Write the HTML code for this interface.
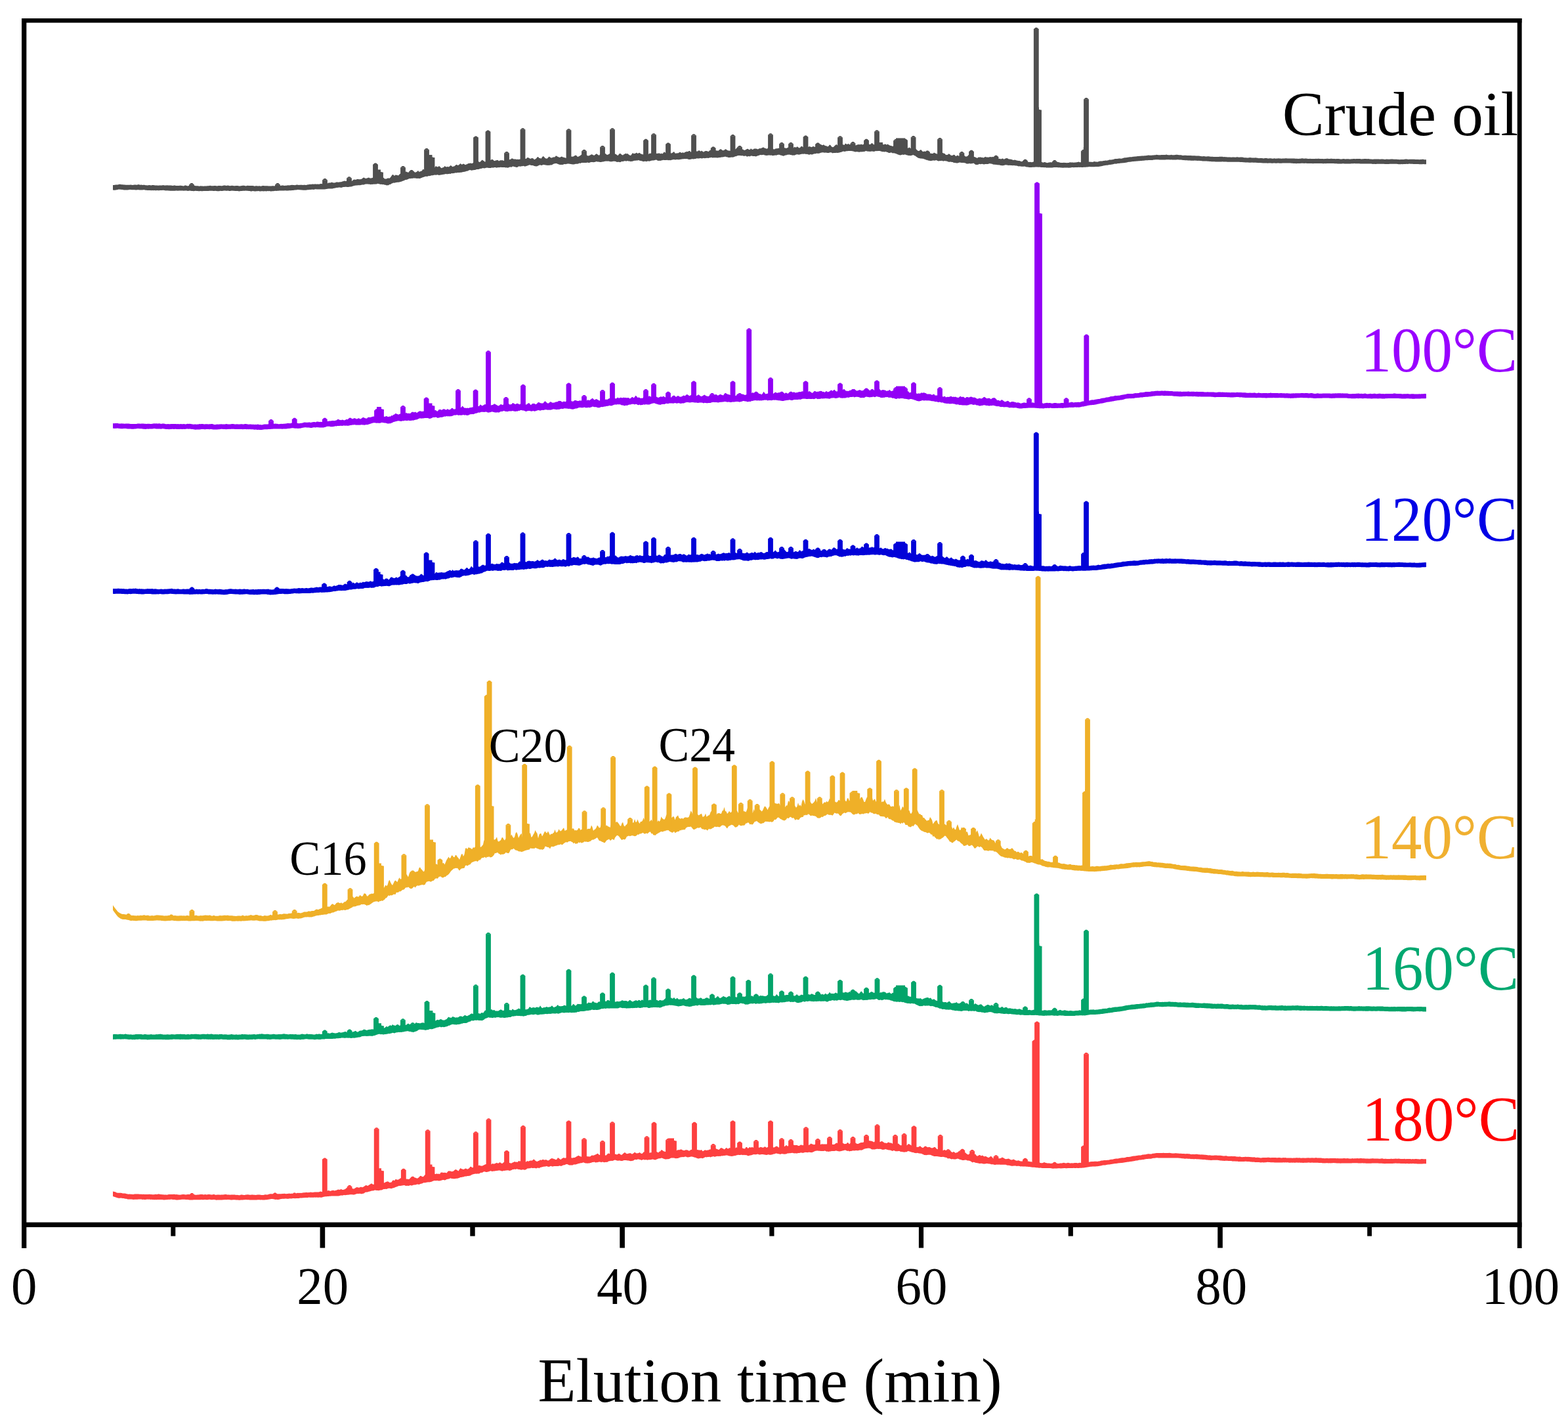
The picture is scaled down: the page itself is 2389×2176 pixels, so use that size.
<!DOCTYPE html>
<html><head><meta charset="utf-8">
<style>
html,body{margin:0;padding:0;background:#fff;}
body{width:2389px;height:2176px;overflow:hidden;}
svg{display:block;}
text{font-family:"Liberation Serif","Times New Roman",serif;}
</style></head>
<body>
<svg width="2389" height="2176" viewBox="0 0 2389 2176">
<rect x="0" y="0" width="2389" height="2176" fill="#fff"/>
<g fill="none" stroke-width="6" stroke-linejoin="round" stroke-linecap="butt">
<path d="M172 282 L173.5 282.1 L175 281.7 L176.5 281.4 L178 281.6 L179.5 281.5 L181 281.1 L182.5 280.8 L184 280.9 L185.5 281.3 L187 281.3 L188.5 281.5 L190 281.6 L191.5 281.7 L193 281.7 L194.5 281.7 L196 281.8 L197.5 281.8 L199 281.4 L200.5 281.8 L202 281.9 L203.5 281.7 L205 281.6 L206.5 281.5 L208 281.8 L209.5 281.6 L211 281 L212.5 281.5 L214 281.7 L215.5 281.6 L217 281.9 L218.5 281.8 L220 281.8 L221.5 282.2 L223 282.3 L224.5 282.5 L226 282.2 L227.5 282 L229 282.3 L230.5 282.4 L232 282.1 L233.5 282.1 L235 282.2 L236.5 282.4 L238 282.4 L239.5 282.5 L241 282.7 L242.5 282.4 L244 282.6 L245.5 282.4 L247 282.5 L248.5 282.1 L250 282.5 L251.5 282.4 L253 282.5 L254.5 282.3 L256 282.6 L257.5 282.5 L259 282.5 L260.5 282.5 L262 282.7 L263.5 283 L265 282.6 L266.5 282.6 L268 282.9 L269.5 283 L271 283.1 L272.5 283 L274 282.7 L275.5 282.8 L277 283 L278.5 283.3 L280 283.4 L281.5 282.6 L283 282.5 L284.5 283.1 L286 283.4 L287.5 283.1 L289 282.7 L290.5 283.1 L292 283.4 L293.5 283.2 L295 283.1 L296.5 282.8 L298 283.2 L299.5 283.2 L301 283.2 L302.5 283.5 L304 283.7 L305.5 283.2 L307 283.4 L308.5 283.5 L310 283.8 L311.5 283.5 L313 283.4 L314.5 283.4 L316 283.2 L317.5 283.2 L319 283 L320.5 282.8 L322 283.3 L323.5 283.2 L325 283.3 L326.5 283.1 L328 283.1 L329.5 283.3 L331 283.4 L332.5 283.1 L334 283.1 L335.5 283 L337 283.2 L338.5 283.2 L340 282.7 L341.5 282.5 L343 282.5 L344.5 282.9 L346 282.8 L347.5 282.6 L349 282.9 L350.5 283.2 L352 283 L353.5 282.8 L355 282.9 L356.5 283.3 L358 283.2 L359.5 283 L361 283.1 L362.5 283.1 L364 283.4 L365.5 283.6 L367 283.3 L368.5 283.1 L370 282.7 L371.5 282.8 L373 283 L374.5 283.4 L376 283.1 L377.5 282.8 L379 283 L380.5 282.9 L382 283.1 L383.5 283.1 L385 282.9 L386.5 283.2 L388 283.8 L389.5 283.3 L391 283.2 L392.5 283.4 L394 283.5 L395.5 283.3 L397 283.8 L398.5 283.4 L400 283.1 L401.5 283.1 L403 283.3 L404.5 283.2 L406 283.3 L407.5 283.2 L409 283.5 L410.5 283.4 L412 283.4 L413.5 283.4 L415 283.2 L416.5 283.3 L418 283.4 L419.5 283 L421 283.2 L422.5 283 L424 283.2 L425.5 283 L427 282.9 L428.5 282.7 L430 282.5 L431.5 282.6 L433 283.1 L434.5 282.8 L436 282.8 L437.5 282.6 L439 282.3 L440.5 282.6 L442 282.3 L443.5 282.1 L445 281.8 L446.5 282 L448 282 L449.5 282.2 L451 281.7 L452.5 281.4 L454 281.8 L455.5 281.9 L457 281.7 L458.5 281.7 L460 281.7 L461.5 281.9 L463 281.8 L464.5 281.8 L466 282 L467.5 281.7 L469 281.3 L470.5 281.3 L472 280.8 L473.5 280.9 L475 280.8 L476.5 280.6 L478 280.8 L479.5 280.6 L481 280.5 L482.5 280.7 L484 280.6 L485.5 280.7 L487 280.5 L488.5 280.1 L490 280.1 L491.5 280.6 L493 280 L494.5 279.4 L496 279 L497.5 279.2 L499 279.4 L500.5 278.5 L502 278.5 L503.5 278.5 L505 277.8 L506.5 278.1 L508 278.5 L509.5 278.4 L511 278.2 L512.5 277.6 L514 277.5 L515.5 277.7 L517 277.5 L518.5 277.3 L520 277.3 L521.5 276.6 L523 276.2 L524.5 275.6 L526 275.9 L527.5 276 L529 275.3 L530.5 274.8 L532 274.9 L533.5 275.5 L535 276.2 L536.5 275.7 L538 274.3 L539.5 273.5 L541 273.8 L542.5 273.8 L544 272.9 L545.5 272.9 L547 273.2 L548.5 273.2 L550 273.1 L551.5 272.5 L553 271 L554.5 270.6 L556 271.5 L557.5 272.1 L559 271.5 L560.5 271 L562 270.6 L563.5 271.4 L565 271.6 L566.5 271.2 L568 270.8 L569.5 270.2 L571 270.3 L572.5 271.2 L574 271.7 L575.5 271.4 L577 270.7 L578.5 269.5 L580 271.2 L581.5 271.1 L583 271.1 L584.5 270.8 L586 272.5 L587.5 272.6 L589 272.4 L590.5 271.6 L592 271.6 L593.5 271.7 L595 270.3 L596.5 268.1 L598 266 L599.5 266.5 L601 267.9 L602.5 266.4 L604 266.7 L605.5 267 L607 267.5 L608.5 265.7 L610 264.5 L611.5 264.9 L613 265.5 L614.5 264.7 L616 263.2 L617.5 261.7 L619 261.6 L620.5 262.2 L622 262.8 L623.5 262 L625 261.5 L626.5 260.4 L628 261.8 L629.5 261.6 L631 261.8 L632.5 262.7 L634 262.3 L635.5 261.6 L637 259.8 L638.5 262.1 L640 261.2 L641.5 261.1 L643 259.9 L644.5 257.8 L646 258.5 L647.5 258.9 L649 257.8 L650.5 255.5 L652 256 L653.5 256.5 L655 256.3 L656.5 255 L658 254.6 L659.5 256 L661 256.7 L662.5 254.9 L664 253 L665.5 254 L667 254.5 L668.5 253.3 L670 253.4 L671.5 255.4 L673 256.3 L674.5 255.2 L676 255.1 L677.5 253 L679 254.1 L680.5 254.5 L682 253.8 L683.5 254.5 L685 253.4 L686.5 251.9 L688 252.7 L689.5 254.2 L691 253.5 L692.5 253.2 L694 251.7 L695.5 250.8 L697 251.7 L698.5 251.7 L700 250.6 L701.5 249.1 L703 250.5 L704.5 250.6 L706 249.5 L707.5 250.3 L709 251.3 L710.5 250.4 L712 249.9 L713.5 248.9 L715 249.1 L716.5 248.5 L718 248.9 L719.5 249 L721 248.1 L722.5 247.6 L724 248.2 L725.5 248 L727 246 L728.5 245.3 L730 247 L731.5 246.8 L733 245.2 L734.5 243.5 L736 244.5 L737.5 245.6 L739 246.8 L740.5 245.7 L742 244.6 L743.5 243 L745 242.9 L746.5 243.8 L748 243.7 L749.5 242.7 L751 243.3 L752.5 244.8 L754 245.3 L755.5 244.3 L757 244.3 L758.5 243.8 L760 245.4 L761.5 244.4 L763 244.2 L764.5 244.2 L766 244.3 L767.5 245.1 L769 244.8 L770.5 245.4 L772 245.2 L773.5 244 L775 244.6 L776.5 243.1 L778 242.8 L779.5 241.5 L781 241.4 L782.5 242.6 L784 242.5 L785.5 242.4 L787 243 L788.5 242.8 L790 243.1 L791.5 242.8 L793 242.6 L794.5 240.9 L796 241.4 L797.5 242.4 L799 241.5 L800.5 241.9 L802 241.7 L803.5 239.9 L805 240.2 L806.5 241 L808 242.1 L809.5 241.3 L811 241.1 L812.5 241.5 L814 243.3 L815.5 242.4 L817 241.6 L818.5 239.6 L820 238.9 L821.5 241.1 L823 240.9 L824.5 241.7 L826 239.6 L827.5 238 L829 239 L830.5 240.9 L832 241.4 L833.5 241.7 L835 240.3 L836.5 238.5 L838 239.4 L839.5 240.6 L841 240.4 L842.5 239.4 L844 239.5 L845.5 239.3 L847 237.3 L848.5 237.9 L850 239.1 L851.5 239.6 L853 240 L854.5 239 L856 238.6 L857.5 239.5 L859 239.8 L860.5 240.3 L862 240.7 L863.5 240.7 L865 238.7 L866.5 239.2 L868 239.7 L869.5 239.1 L871 238.4 L872.5 238.7 L874 238.2 L875.5 237.3 L877 236.6 L878.5 237.3 L880 239 L881.5 238.6 L883 237.7 L884.5 236.7 L886 235.5 L887.5 237 L889 238.2 L890.5 237.4 L892 236.3 L893.5 235.7 L895 237.2 L896.5 237.4 L898 237 L899.5 236.2 L901 235.2 L902.5 235.6 L904 236.6 L905.5 236.8 L907 235.6 L908.5 234.3 L910 235 L911.5 236.2 L913 236.7 L914.5 234.8 L916 235.3 L917.5 235.5 L919 235 L920.5 234.1 L922 233.7 L923.5 235.1 L925 236.1 L926.5 235.6 L928 234.7 L929.5 233.4 L931 234.6 L932.5 234.9 L934 235.1 L935.5 234.2 L937 234.5 L938.5 234.9 L940 236.2 L941.5 237 L943 235.1 L944.5 233.8 L946 234.6 L947.5 235.9 L949 236.6 L950.5 235.2 L952 234.6 L953.5 233.8 L955 234.5 L956.5 234.1 L958 235.8 L959.5 236.6 L961 237 L962.5 235 L964 232.9 L965.5 234.2 L967 234.1 L968.5 233.4 L970 232.6 L971.5 234.1 L973 233.3 L974.5 232.8 L976 234.2 L977.5 234.8 L979 235.2 L980.5 235.6 L982 235.3 L983.5 234.9 L985 235.6 L986.5 235.1 L988 235.2 L989.5 233.6 L991 234.1 L992.5 232.9 L994 232.5 L995.5 232.1 L997 232.6 L998.5 233.8 L1000 234.1 L1001.5 233.8 L1003 233.7 L1004.5 233.2 L1006 234.4 L1007.5 233.5 L1009 234.4 L1010.5 233.3 L1012 231.2 L1013.5 232.6 L1015 233.4 L1016.5 233.5 L1018 233.6 L1019.5 233.1 L1021 232.9 L1022.5 233.5 L1024 233.3 L1025.5 232.1 L1027 231.1 L1028.5 233.5 L1030 233.8 L1031.5 233.2 L1033 233.5 L1034.5 232.5 L1036 231.8 L1037.5 232.4 L1039 232.9 L1040.5 232 L1042 233.2 L1043.5 231.7 L1045 231.4 L1046.5 230.8 L1048 231.2 L1049.5 230 L1051 230 L1052.5 231.7 L1054 230.7 L1055.5 228.3 L1057 230 L1058.5 231.1 L1060 230.6 L1061.5 230.4 L1063 230.5 L1064.5 229.2 L1066 229.6 L1067.5 230.8 L1069 229.4 L1070.5 230.8 L1072 231.7 L1073.5 230.5 L1075 230.1 L1076.5 230 L1078 230.4 L1079.5 230.9 L1081 229.6 L1082.5 228.6 L1084 230.2 L1085.5 230 L1087 230.1 L1088.5 228.6 L1090 229 L1091.5 229.4 L1093 229.6 L1094.5 229.8 L1096 228.3 L1097.5 227.3 L1099 227.5 L1100.5 228.9 L1102 229.2 L1103.5 228.8 L1105 227.3 L1106.5 227.8 L1108 228.7 L1109.5 229.4 L1111 229.5 L1112.5 230.1 L1114 228.6 L1115.5 228.2 L1117 229.3 L1118.5 228.7 L1120 227.8 L1121.5 226.4 L1123 225 L1124.5 225.2 L1126 226.6 L1127.5 227.8 L1129 228.2 L1130.5 227.4 L1132 227.6 L1133.5 228.8 L1135 228.7 L1136.5 228.1 L1138 227.1 L1139.5 226.7 L1141 228.1 L1142.5 228.3 L1144 226.2 L1145.5 227.4 L1147 227.9 L1148.5 226.8 L1150 226.5 L1151.5 226.6 L1153 226.7 L1154.5 227.4 L1156 226.7 L1157.5 226 L1159 226.2 L1160.5 225.6 L1162 224.8 L1163.5 224.6 L1165 225.7 L1166.5 225.9 L1168 226.7 L1169.5 226.2 L1171 223.3 L1172.5 225.6 L1174 225.6 L1175.5 224.6 L1177 226.4 L1178.5 227.2 L1180 227.5 L1181.5 226.5 L1183 226.2 L1184.5 226.2 L1186 225.8 L1187.5 226 L1189 226.1 L1190.5 224.3 L1192 225.8 L1193.5 225.3 L1195 225.3 L1196.5 225.5 L1198 226 L1199.5 225.2 L1201 224.4 L1202.5 223.4 L1204 223.9 L1205.5 224.4 L1207 225.9 L1208.5 226.2 L1210 224 L1211.5 224.2 L1213 224.7 L1214.5 223.2 L1216 224.2 L1217.5 225.4 L1219 225.1 L1220.5 223.1 L1222 222.9 L1223.5 224.2 L1225 224.5 L1226.5 223.5 L1228 221.1 L1229.5 223.6 L1231 224.3 L1232.5 223.2 L1234 223.3 L1235.5 223.9 L1237 224.3 L1238.5 222.9 L1240 223.2 L1241.5 224.1 L1243 223.3 L1244.5 221.5 L1246 221.9 L1247.5 223.1 L1249 221.5 L1250.5 219.7 L1252 220.9 L1253.5 221.3 L1255 220.2 L1256.5 221.8 L1258 222.2 L1259.5 222.5 L1261 223.4 L1262.5 222.5 L1264 220.5 L1265.5 221.3 L1267 223.6 L1268.5 224.2 L1270 224.1 L1271.5 222.3 L1273 220.9 L1274.5 220.1 L1276 221.5 L1277.5 221.8 L1279 222.9 L1280.5 221.5 L1282 220.3 L1283.5 219.9 L1285 220.4 L1286.5 220.9 L1288 218.4 L1289.5 219.6 L1291 220.1 L1292.5 218.7 L1294 220.2 L1295.5 220.1 L1297 219.6 L1298.5 219.2 L1300 219.2 L1301.5 220.1 L1303 221.4 L1304.5 221.2 L1306 220.4 L1307.5 220.2 L1309 220 L1310.5 220.5 L1312 219.4 L1313.5 220.5 L1315 220.3 L1316.5 219.4 L1318 218 L1319.5 217.1 L1321 217.8 L1322.5 218.8 L1324 219.8 L1325.5 220.2 L1327 219.2 L1328.5 217.8 L1330 219.3 L1331.5 220.4 L1333 219.6 L1334.5 217.7 L1336 217.1 L1337.5 218.1 L1339 219.8 L1340.5 218.8 L1342 219 L1343.5 218.4 L1345 219.8 L1346.5 220.5 L1348 219.6 L1349.5 219.8 L1351 220.7 L1352.5 219.4 L1354 220.7 L1355.5 221.6 L1357 222.1 L1358.5 222.2 L1360 223 L1361.5 222.2 L1363 223.5 L1364.5 224.3 L1366 224 L1367.5 225.6 L1369 225.2 L1370.5 224.8 L1372 225.9 L1373.5 225.8 L1375 225.7 L1376.5 225.9 L1378 225.1 L1379.5 226 L1381 227 L1382.5 225.7 L1384 225.4 L1385.5 224.5 L1387 225.7 L1388.5 226.8 L1390 226.1 L1391.5 225.6 L1393 225.1 L1394.5 225.8 L1396 227.5 L1397.5 228.9 L1399 229.9 L1400.5 229.9 L1402 228.4 L1403.5 228.3 L1405 230.3 L1406.5 231.2 L1408 230.4 L1409.5 230.8 L1411 232.2 L1412.5 232.8 L1414 233.1 L1415.5 233.7 L1417 233.6 L1418.5 233.7 L1420 234 L1421.5 234 L1423 232.5 L1424.5 233.2 L1426 234.1 L1427.5 234.5 L1429 235 L1430.5 233.1 L1432 233.1 L1433.5 234.8 L1435 233.1 L1436.5 233.1 L1438 233.8 L1439.5 233.9 L1441 235.9 L1442.5 236.1 L1444 235.7 L1445.5 234.3 L1447 235 L1448.5 236.4 L1450 237 L1451.5 236.7 L1453 235.7 L1454.5 236 L1456 238.1 L1457.5 237.4 L1459 236.6 L1460.5 237.8 L1462 237.5 L1463.5 237.6 L1465 237.5 L1466.5 236.5 L1468 236.5 L1469.5 237.3 L1471 238.6 L1472.5 238.6 L1474 237.9 L1475.5 236.3 L1477 235.5 L1478.5 237.9 L1480 239.3 L1481.5 240.2 L1483 239 L1484.5 239 L1486 239.4 L1487.5 240.3 L1489 241 L1490.5 239.6 L1492 239.7 L1493.5 239.3 L1495 239.9 L1496.5 239.8 L1498 240.5 L1499.5 239.9 L1501 238.7 L1502.5 239.5 L1504 239.4 L1505.5 239.8 L1507 239.5 L1508.5 239 L1510 239.2 L1511.5 239.3 L1513 238.8 L1514.5 240.5 L1516 241 L1517.5 241.6 L1519 241.7 L1520.5 241.4 L1522 242 L1523.5 241.8 L1525 242.4 L1526.5 241.8 L1528 241.5 L1529.5 242.7 L1531 242.1 L1532.5 241.2 L1534 240.9 L1535.5 241.5 L1537 242.6 L1538.5 242.6 L1540 242.8 L1541.5 243 L1543 243.8 L1544.5 243.9 L1546 243.6 L1547.5 243.9 L1549 244.4 L1550.5 244.8 L1552 245.1 L1553.5 245.1 L1555 245.8 L1556.5 246.2 L1558 245.8 L1559.5 245.5 L1561 245.5 L1562.5 246.3 L1564 246.6 L1565.5 246.7 L1567 246.7 L1568.5 246.9 L1570 246.8 L1571.5 247.3 L1573 247.1 L1574.5 246.5 L1576 245.9 L1577.5 246.1 L1579 246.9 L1580.5 247 L1582 247.3 L1583.5 247.5 L1585 246.7 L1586.5 246.5 L1588 247.3 L1589.5 247.7 L1591 247.1 L1592.5 247.2 L1594 247.8 L1595.5 248.3 L1597 247.8 L1598.5 247.5 L1600 247.3 L1601.5 247.3 L1603 247.4 L1604.5 246.7 L1606 246.5 L1607.5 246.9 L1609 247.3 L1610.5 247.1 L1612 247.1 L1613.5 247.3 L1615 247.8 L1616.5 248 L1618 248 L1619.5 248 L1621 247.8 L1622.5 247.9 L1624 248.1 L1625.5 248.2 L1627 248 L1628.5 248 L1630 247.2 L1631.5 247.4 L1633 247.4 L1634.5 247.4 L1636 247.7 L1637.5 247.4 L1639 247.5 L1640.5 247.3 L1642 247 L1643.5 246.6 L1645 247.3 L1646.5 247.2 L1648 247.3 L1649.5 247 L1651 247.1 L1652.5 247 L1654 247.2 L1655.5 247 L1657 246.9 L1658.5 246.8 L1660 246.6 L1661.5 246.7 L1663 246.8 L1664.5 246.9 L1666 246.5 L1667.5 246.1 L1669 246.4 L1670.5 246.6 L1672 246.7 L1673.5 246.2 L1675 245.8 L1676.5 245.4 L1678 245.6 L1679.5 245.4 L1681 245 L1682.5 244.9 L1684 244.6 L1685.5 244.7 L1687 244.5 L1688.5 244.2 L1690 243.6 L1691.5 243.4 L1693 243.4 L1694.5 243.3 L1696 243 L1697.5 242.6 L1699 242.1 L1700.5 242.1 L1702 241.9 L1703.5 241.8 L1705 241.6 L1706.5 241.4 L1708 241.7 L1709.5 241.4 L1711 240.9 L1712.5 240.4 L1714 240.2 L1715.5 240.3 L1717 240.1 L1718.5 239.8 L1720 239.6 L1721.5 239.2 L1723 239.3 L1724.5 239.2 L1726 238.8 L1727.5 238.7 L1729 238.5 L1730.5 238.4 L1732 238.2 L1733.5 238.1 L1735 237.9 L1736.5 237.7 L1738 237.7 L1739.5 237.6 L1741 237.4 L1742.5 237.4 L1744 237.3 L1745.5 237.2 L1747 237.1 L1748.5 236.7 L1750 236.4 L1751.5 236.8 L1753 236.8 L1754.5 236.7 L1756 236.6 L1757.5 236.4 L1759 236.3 L1760.5 236.3 L1762 235.8 L1763.5 236 L1765 236.2 L1766.5 236.2 L1768 236.2 L1769.5 235.9 L1771 236 L1772.5 236 L1774 236.1 L1775.5 236 L1777 235.5 L1778.5 236 L1780 236.2 L1781.5 236.2 L1783 236.2 L1784.5 235.8 L1786 236.2 L1787.5 236.3 L1789 236.2 L1790.5 236.1 L1792 235.8 L1793.5 235.8 L1795 236.1 L1796.5 236.3 L1798 236.2 L1799.5 236.2 L1801 236.7 L1802.5 237 L1804 236.8 L1805.5 236.7 L1807 236.8 L1808.5 236.9 L1810 237 L1811.5 236.9 L1813 237 L1814.5 237.1 L1816 237.3 L1817.5 237.3 L1819 237.3 L1820.5 237.3 L1822 237.4 L1823.5 237.6 L1825 237.5 L1826.5 237.5 L1828 237.7 L1829.5 238 L1831 238.3 L1832.5 238.2 L1834 238.1 L1835.5 238.3 L1837 238.4 L1838.5 238.5 L1840 238.3 L1841.5 238.3 L1843 238.5 L1844.5 238.8 L1846 238.8 L1847.5 238.7 L1849 239 L1850.5 239 L1852 239 L1853.5 238.9 L1855 239 L1856.5 239 L1858 238.8 L1859.5 238.7 L1861 238.7 L1862.5 238.8 L1864 239.2 L1865.5 239 L1867 239.2 L1868.5 239.2 L1870 239.4 L1871.5 239.4 L1873 239.4 L1874.5 239.5 L1876 239.7 L1877.5 239.6 L1879 239.4 L1880.5 239.5 L1882 239.8 L1883.5 239.4 L1885 239.2 L1886.5 239.4 L1888 239.7 L1889.5 239.5 L1891 239.4 L1892.5 239.6 L1894 239.8 L1895.5 240.3 L1897 240.2 L1898.5 240.2 L1900 240.4 L1901.5 240.4 L1903 240.2 L1904.5 240.1 L1906 240.2 L1907.5 240.4 L1909 240.6 L1910.5 240.6 L1912 240.6 L1913.5 240.3 L1915 240.7 L1916.5 240.8 L1918 241.2 L1919.5 241 L1921 240.9 L1922.5 240.9 L1924 241.3 L1925.5 241.4 L1927 241.1 L1928.5 241.1 L1930 241.1 L1931.5 241.5 L1933 241.5 L1934.5 241.3 L1936 241.3 L1937.5 241.6 L1939 241.7 L1940.5 241.4 L1942 241.3 L1943.5 241.7 L1945 241.5 L1946.5 241.4 L1948 241.2 L1949.5 241.5 L1951 241.6 L1952.5 241.7 L1954 241.4 L1955.5 241.4 L1957 241.4 L1958.5 241.2 L1960 241.3 L1961.5 241.6 L1963 241.6 L1964.5 241.6 L1966 241.4 L1967.5 241.5 L1969 241.6 L1970.5 241.6 L1972 241.6 L1973.5 241.7 L1975 241.7 L1976.5 241.7 L1978 241.9 L1979.5 241.8 L1981 241.7 L1982.5 241.4 L1984 241.3 L1985.5 241.5 L1987 241.8 L1988.5 241.6 L1990 241.6 L1991.5 241.8 L1993 241.9 L1994.5 241.9 L1996 241.8 L1997.5 242 L1999 242.1 L2000.5 241.9 L2002 242 L2003.5 241.9 L2005 241.8 L2006.5 241.9 L2008 241.7 L2009.5 241.7 L2011 241.9 L2012.5 242 L2014 242 L2015.5 242 L2017 242.3 L2018.5 242 L2020 242.1 L2021.5 241.7 L2023 241.7 L2024.5 241.9 L2026 241.9 L2027.5 241.8 L2029 241.8 L2030.5 241.9 L2032 242 L2033.5 242 L2035 242.2 L2036.5 242 L2038 242.1 L2039.5 242.1 L2041 242.2 L2042.5 242.5 L2044 242.4 L2045.5 242.2 L2047 242.1 L2048.5 242.2 L2050 242.4 L2051.5 242.3 L2053 242.3 L2054.5 242.3 L2056 242.6 L2057.5 242.6 L2059 242.3 L2060.5 242.2 L2062 242.1 L2063.5 242 L2065 242.3 L2066.5 242.1 L2068 242.1 L2069.5 242 L2071 242.1 L2072.5 242.1 L2074 242.4 L2075.5 242.2 L2077 242.3 L2078.5 242.1 L2080 242.1 L2081.5 242 L2083 242.2 L2084.5 242.1 L2086 242.2 L2087.5 242.4 L2089 242.5 L2090.5 242.7 L2092 242.8 L2093.5 242.6 L2095 242.6 L2096.5 242.6 L2098 242.4 L2099.5 242.5 L2101 242.4 L2102.5 242.7 L2104 242.6 L2105.5 242.5 L2107 242.6 L2108.5 242.8 L2110 242.9 L2111.5 242.8 L2113 242.6 L2114.5 242.7 L2116 242.7 L2117.5 242.8 L2119 242.6 L2120.5 242.6 L2122 242.5 L2123.5 242.7 L2125 242.7 L2126.5 242.8 L2128 242.8 L2129.5 242.9 L2131 243.1 L2132.5 243.2 L2134 243.1 L2135.5 242.9 L2137 242.9 L2138.5 243 L2140 242.8 L2141.5 242.4 L2143 242.6 L2144.5 242.8 L2146 242.9 L2147.5 242.7 L2149 242.8 L2150.5 242.8 L2152 242.8 L2153.5 242.8 L2155 242.8 L2156.5 243 L2158 242.9 L2159.5 242.9 L2161 243.1 L2162.5 243.2 L2164 243.1 L2165.5 242.9 L2167 242.8 L2168.5 242.8 L2170 243.2 L2171.5 243.2 L2173 243.3 L2173 250.2 L2171.5 250.2 L2170 250.3 L2168.5 250.1 L2167 250.2 L2165.5 250.2 L2164 250.3 L2162.5 250.2 L2161 250.1 L2159.5 250 L2158 250.1 L2156.5 250 L2155 250 L2153.5 250 L2152 249.7 L2150.5 249.7 L2149 249.7 L2147.5 249.6 L2146 249.8 L2144.5 249.9 L2143 249.8 L2141.5 249.9 L2140 250.1 L2138.5 250.1 L2137 250.2 L2135.5 250.1 L2134 250.2 L2132.5 250.2 L2131 250.2 L2129.5 249.9 L2128 249.8 L2126.5 249.7 L2125 249.7 L2123.5 249.7 L2122 249.7 L2120.5 249.7 L2119 249.8 L2117.5 249.8 L2116 249.9 L2114.5 250 L2113 250 L2111.5 250 L2110 249.9 L2108.5 249.7 L2107 249.7 L2105.5 249.7 L2104 249.7 L2102.5 249.7 L2101 249.8 L2099.5 249.8 L2098 249.8 L2096.5 249.9 L2095 249.9 L2093.5 249.8 L2092 250 L2090.5 249.8 L2089 249.5 L2087.5 249.5 L2086 249.4 L2084.5 249.4 L2083 249.5 L2081.5 249.4 L2080 249.4 L2078.5 249.5 L2077 249.5 L2075.5 249.4 L2074 249.5 L2072.5 249.4 L2071 249.3 L2069.5 249.3 L2068 249.3 L2066.5 249.2 L2065 249.3 L2063.5 249.1 L2062 249.2 L2060.5 249.2 L2059 249.3 L2057.5 249.4 L2056 249.4 L2054.5 249.4 L2053 249.5 L2051.5 249.6 L2050 249.6 L2048.5 249.5 L2047 249.3 L2045.5 249.3 L2044 249.4 L2042.5 249.4 L2041 249.4 L2039.5 249.5 L2038 249.4 L2036.5 249.3 L2035 249.3 L2033.5 249.2 L2032 249.1 L2030.5 249 L2029 249 L2027.5 248.9 L2026 249.1 L2024.5 249.1 L2023 249.1 L2021.5 249.1 L2020 249.2 L2018.5 249 L2017 249.3 L2015.5 249.3 L2014 249.1 L2012.5 248.9 L2011 249 L2009.5 249 L2008 249 L2006.5 249 L2005 249 L2003.5 249 L2002 249.1 L2000.5 249.2 L1999 249.1 L1997.5 249.1 L1996 249.1 L1994.5 249.1 L1993 249.1 L1991.5 249 L1990 248.8 L1988.5 248.8 L1987 248.9 L1985.5 248.7 L1984 248.7 L1982.5 248.8 L1981 249 L1979.5 249 L1978 249.1 L1976.5 249.1 L1975 249.2 L1973.5 249.1 L1972 249 L1970.5 249 L1969 248.8 L1967.5 248.8 L1966 248.6 L1964.5 248.6 L1963 248.5 L1961.5 248.5 L1960 248.4 L1958.5 248.4 L1957 248.4 L1955.5 248.5 L1954 248.6 L1952.5 248.7 L1951 248.8 L1949.5 248.8 L1948 248.6 L1946.5 248.6 L1945 248.7 L1943.5 248.7 L1942 248.6 L1940.5 248.6 L1939 248.7 L1937.5 248.7 L1936 248.5 L1934.5 248.5 L1933 248.6 L1931.5 248.7 L1930 248.6 L1928.5 248.4 L1927 248.4 L1925.5 248.5 L1924 248.4 L1922.5 248.2 L1921 248.3 L1919.5 248.1 L1918 248.2 L1916.5 248.1 L1915 248 L1913.5 247.8 L1912 247.8 L1910.5 247.7 L1909 247.7 L1907.5 247.6 L1906 247.7 L1904.5 247.8 L1903 247.7 L1901.5 247.5 L1900 247.5 L1898.5 247.6 L1897 247.6 L1895.5 247.3 L1894 247.2 L1892.5 247.1 L1891 247 L1889.5 247 L1888 246.8 L1886.5 246.8 L1885 246.8 L1883.5 246.7 L1882 246.7 L1880.5 246.7 L1879 246.7 L1877.5 246.7 L1876 246.8 L1874.5 246.8 L1873 246.8 L1871.5 246.7 L1870 246.8 L1868.5 246.6 L1867 246.5 L1865.5 246.4 L1864 246.4 L1862.5 246.3 L1861 246.5 L1859.5 246.5 L1858 246.4 L1856.5 246.4 L1855 246.4 L1853.5 246.4 L1852 246.4 L1850.5 246.2 L1849 246.2 L1847.5 246.3 L1846 246.2 L1844.5 246 L1843 246 L1841.5 245.7 L1840 245.7 L1838.5 245.6 L1837 245.6 L1835.5 245.5 L1834 245.4 L1832.5 245.4 L1831 245.3 L1829.5 245.1 L1828 244.9 L1826.5 244.8 L1825 244.9 L1823.5 244.8 L1822 244.8 L1820.5 244.6 L1819 244.7 L1817.5 244.7 L1816 244.8 L1814.5 244.7 L1813 244.6 L1811.5 244.5 L1810 244.5 L1808.5 244.3 L1807 244.2 L1805.5 244.2 L1804 244 L1802.5 244 L1801 243.8 L1799.5 243.5 L1798 243.4 L1796.5 243.5 L1795 243.3 L1793.5 243.2 L1792 243.4 L1790.5 243.5 L1789 243.4 L1787.5 243.5 L1786 243.4 L1784.5 243.3 L1783 243.4 L1781.5 243.2 L1780 243.3 L1778.5 243.3 L1777 243.3 L1775.5 243.4 L1774 243.4 L1772.5 243.4 L1771 243.6 L1769.5 243.5 L1768 243.5 L1766.5 243.4 L1765 243.2 L1763.5 243.2 L1762 243.3 L1760.5 243.3 L1759 243.4 L1757.5 243.6 L1756 243.9 L1754.5 243.9 L1753 243.9 L1751.5 244 L1750 244 L1748.5 244.2 L1747 244.3 L1745.5 244.3 L1744 244.5 L1742.5 244.7 L1741 244.8 L1739.5 244.9 L1738 245.1 L1736.5 245.2 L1735 245.3 L1733.5 245.5 L1732 245.5 L1730.5 245.7 L1729 245.8 L1727.5 245.9 L1726 246 L1724.5 246.3 L1723 246.4 L1721.5 246.7 L1720 246.8 L1718.5 247 L1717 247.4 L1715.5 247.8 L1714 248 L1712.5 248.2 L1711 248.3 L1709.5 248.5 L1708 248.6 L1706.5 248.7 L1705 248.9 L1703.5 249.1 L1702 249.3 L1700.5 249.7 L1699 249.6 L1697.5 249.8 L1696 250.2 L1694.5 250.5 L1693 250.7 L1691.5 250.9 L1690 251.1 L1688.5 251.6 L1687 251.8 L1685.5 251.8 L1684 251.9 L1682.5 252.2 L1681 252.6 L1679.5 252.9 L1678 253.2 L1676.5 253.5 L1675 253.7 L1673.5 253.9 L1672 254.1 L1670.5 254.1 L1669 254 L1667.5 254.2 L1666 254.2 L1664.5 254.2 L1663 254.3 L1661.5 254.2 L1660 254.1 L1658.5 254.3 L1657 254.5 L1655.5 254.5 L1654 254.7 L1652.5 254.7 L1651 254.8 L1649.5 254.9 L1648 255 L1646.5 254.8 L1645 254.9 L1643.5 254.8 L1642 254.9 L1640.5 254.9 L1639 254.9 L1637.5 254.9 L1636 255.2 L1634.5 255 L1633 255.1 L1631.5 255.5 L1630 255.5 L1628.5 255.7 L1627 255.6 L1625.5 255.5 L1624 255.5 L1622.5 255.6 L1621 255.5 L1619.5 255.7 L1618 255.6 L1616.5 255.4 L1615 255.2 L1613.5 255.3 L1612 255.3 L1610.5 255.1 L1609 255 L1607.5 255 L1606 254.9 L1604.5 255.2 L1603 255.4 L1601.5 255.6 L1600 255.6 L1598.5 255.5 L1597 255.6 L1595.5 255.6 L1594 255.4 L1592.5 255 L1591 255.2 L1589.5 255.1 L1588 255.1 L1586.5 255 L1585 254.7 L1583.5 254.6 L1582 254.7 L1580.5 254.5 L1579 254.6 L1577.5 254.5 L1576 254.7 L1574.5 254.7 L1573 254.7 L1571.5 254.9 L1570 255.1 L1568.5 254.9 L1567 254.7 L1565.5 254.4 L1564 254.5 L1562.5 254.1 L1561 253.6 L1559.5 253.7 L1558 253.7 L1556.5 253.7 L1555 253.4 L1553.5 253.2 L1552 253.4 L1550.5 253 L1549 252.6 L1547.5 252.4 L1546 252.2 L1544.5 252 L1543 252.2 L1541.5 252 L1540 252 L1538.5 251.8 L1537 251.9 L1535.5 251.7 L1534 251.6 L1532.5 251.3 L1531 251.4 L1529.5 252 L1528 252.2 L1526.5 252.2 L1525 252 L1523.5 251.8 L1522 251.3 L1520.5 251.4 L1519 251 L1517.5 250.9 L1516 250.7 L1514.5 250.8 L1513 250.4 L1511.5 249.8 L1510 249.5 L1508.5 249.2 L1507 249.3 L1505.5 249.9 L1504 249.9 L1502.5 249.9 L1501 250.1 L1499.5 250.6 L1498 250.3 L1496.5 249.8 L1495 250.1 L1493.5 250.2 L1492 249.8 L1490.5 250.7 L1489 250.9 L1487.5 251 L1486 250.7 L1484.5 249.6 L1483 248.6 L1481.5 249.3 L1480 249.2 L1478.5 249.4 L1477 249.1 L1475.5 249.5 L1474 249.5 L1472.5 249.5 L1471 248.6 L1469.5 248.2 L1468 247.9 L1466.5 247.9 L1465 248.1 L1463.5 247.7 L1462 247.5 L1460.5 248.1 L1459 248.4 L1457.5 248.6 L1456 248.3 L1454.5 247.9 L1453 248 L1451.5 247.1 L1450 246.9 L1448.5 246.4 L1447 246.7 L1445.5 246.7 L1444 246.2 L1442.5 245.4 L1441 245.5 L1439.5 245.1 L1438 245.4 L1436.5 245.4 L1435 244.8 L1433.5 245.3 L1432 245.1 L1430.5 245.5 L1429 245.2 L1427.5 244.6 L1426 244.1 L1424.5 244.7 L1423 244.6 L1421.5 244.5 L1420 244.8 L1418.5 245.2 L1417 245.1 L1415.5 244.8 L1414 244.4 L1412.5 243.8 L1411 243.8 L1409.5 242.8 L1408 242.4 L1406.5 241.7 L1405 241.8 L1403.5 241.5 L1402 241.6 L1400.5 241 L1399 240.7 L1397.5 239.8 L1396 238.8 L1394.5 237.6 L1393 237 L1391.5 236 L1390 236.4 L1388.5 237 L1387 237.3 L1385.5 237.1 L1384 237.1 L1382.5 236.6 L1381 236.3 L1379.5 235.6 L1378 235.6 L1376.5 236.1 L1375 235.4 L1373.5 236.1 L1372 236.6 L1370.5 236.3 L1369 235.7 L1367.5 235.3 L1366 234.5 L1364.5 233.9 L1363 233.6 L1361.5 233.3 L1360 233.4 L1358.5 232.6 L1357 232.6 L1355.5 233 L1354 232.9 L1352.5 231.9 L1351 231.7 L1349.5 230.9 L1348 231.6 L1346.5 231.3 L1345 231.3 L1343.5 231.1 L1342 230.6 L1340.5 230.1 L1339 230 L1337.5 230 L1336 230.3 L1334.5 230 L1333 230.4 L1331.5 230.9 L1330 230.8 L1328.5 230.6 L1327 230.8 L1325.5 230.9 L1324 230.7 L1322.5 230.8 L1321 230.5 L1319.5 230.1 L1318 230.4 L1316.5 231.2 L1315 231.1 L1313.5 231.5 L1312 231.3 L1310.5 231.5 L1309 231.7 L1307.5 231.6 L1306 231.3 L1304.5 231.2 L1303 231.5 L1301.5 231 L1300 230.6 L1298.5 230.3 L1297 230.1 L1295.5 229.9 L1294 230 L1292.5 230 L1291 230.2 L1289.5 230.3 L1288 230.8 L1286.5 231.1 L1285 230.6 L1283.5 231.1 L1282 231.8 L1280.5 232 L1279 232.5 L1277.5 232.7 L1276 233 L1274.5 232.7 L1273 233 L1271.5 232.9 L1270 233 L1268.5 233.4 L1267 232.6 L1265.5 232.3 L1264 232.5 L1262.5 233 L1261 233 L1259.5 232.8 L1258 232.6 L1256.5 232.7 L1255 232.6 L1253.5 232.3 L1252 232.6 L1250.5 232.8 L1249 233.4 L1247.5 233.8 L1246 233.9 L1244.5 233.6 L1243 234.2 L1241.5 234.3 L1240 234.6 L1238.5 235 L1237 235.8 L1235.5 234.9 L1234 235.4 L1232.5 235.7 L1231 235.3 L1229.5 234.7 L1228 235.1 L1226.5 234.6 L1225 234.5 L1223.5 234.7 L1222 234.4 L1220.5 235 L1219 235.3 L1217.5 235.8 L1216 235.5 L1214.5 235.3 L1213 235.5 L1211.5 236.2 L1210 236.7 L1208.5 236.6 L1207 236.7 L1205.5 236 L1204 236.1 L1202.5 235.5 L1201 235.7 L1199.5 235.8 L1198 236.6 L1196.5 236.6 L1195 237.2 L1193.5 237.7 L1192 237.3 L1190.5 236.8 L1189 236.6 L1187.5 235.7 L1186 235.7 L1184.5 236.1 L1183 236.7 L1181.5 236.5 L1180 236.8 L1178.5 237.1 L1177 237.2 L1175.5 236.6 L1174 236.7 L1172.5 236.5 L1171 236.6 L1169.5 236.7 L1168 237 L1166.5 236.7 L1165 236.4 L1163.5 235.8 L1162 235.9 L1160.5 236.2 L1159 236 L1157.5 236.2 L1156 237 L1154.5 237.3 L1153 237.9 L1151.5 238.5 L1150 237.9 L1148.5 237.9 L1147 238 L1145.5 237.4 L1144 237.5 L1142.5 238.4 L1141 238 L1139.5 238.3 L1138 238.7 L1136.5 237.6 L1135 237.6 L1133.5 238 L1132 237.3 L1130.5 237.3 L1129 237.2 L1127.5 237 L1126 236.9 L1124.5 237 L1123 237.6 L1121.5 238.3 L1120 238.2 L1118.5 239.2 L1117 239.6 L1115.5 239.8 L1114 239.4 L1112.5 240 L1111 239.9 L1109.5 240 L1108 239.2 L1106.5 239.3 L1105 238.6 L1103.5 239.1 L1102 239.2 L1100.5 239.5 L1099 239.5 L1097.5 240 L1096 240 L1094.5 240.3 L1093 240.4 L1091.5 240.3 L1090 240.3 L1088.5 240.3 L1087 240.2 L1085.5 240.4 L1084 239.8 L1082.5 240.3 L1081 240.2 L1079.5 240.9 L1078 240.8 L1076.5 240.8 L1075 240.9 L1073.5 241.3 L1072 240.8 L1070.5 241.3 L1069 241.4 L1067.5 241 L1066 241.3 L1064.5 241.4 L1063 241.6 L1061.5 241.2 L1060 241.9 L1058.5 242 L1057 242.6 L1055.5 242.2 L1054 242.3 L1052.5 242.8 L1051 243.1 L1049.5 243 L1048 242.4 L1046.5 242 L1045 242.3 L1043.5 242.1 L1042 242.3 L1040.5 242.2 L1039 242.4 L1037.5 242.8 L1036 243 L1034.5 243.3 L1033 243.2 L1031.5 242.9 L1030 243.3 L1028.5 243.5 L1027 243.1 L1025.5 243.3 L1024 243.6 L1022.5 244.1 L1021 244.3 L1019.5 244.1 L1018 244.2 L1016.5 243.7 L1015 243.9 L1013.5 243.9 L1012 243.9 L1010.5 243.8 L1009 244.2 L1007.5 244.5 L1006 244.9 L1004.5 244.8 L1003 244.9 L1001.5 244.4 L1000 243.5 L998.5 243.7 L997 244.3 L995.5 244.5 L994 244.5 L992.5 244.7 L991 245.3 L989.5 245.7 L988 245.5 L986.5 245.6 L985 246.2 L983.5 245.8 L982 245.8 L980.5 246.3 L979 245.8 L977.5 245.2 L976 245.1 L974.5 244.7 L973 244 L971.5 244.4 L970 244.6 L968.5 244.8 L967 244.7 L965.5 245 L964 245.7 L962.5 245.8 L961 246.2 L959.5 245.6 L958 245.8 L956.5 245.1 L955 245.5 L953.5 245.5 L952 245.3 L950.5 245.5 L949 246.2 L947.5 245.8 L946 246.8 L944.5 247.2 L943 246.8 L941.5 246.8 L940 246.9 L938.5 246.3 L937 245.8 L935.5 245.8 L934 245.8 L932.5 246.2 L931 246.2 L929.5 246.2 L928 245.8 L926.5 245.5 L925 245.8 L923.5 245.6 L922 245.7 L920.5 245.9 L919 246.6 L917.5 246.4 L916 247 L914.5 246.9 L913 246.7 L911.5 246.6 L910 246.6 L908.5 246 L907 246.7 L905.5 247 L904 247.2 L902.5 247 L901 247.1 L899.5 247.3 L898 248.1 L896.5 248 L895 247.6 L893.5 247.9 L892 248 L890.5 247.9 L889 248 L887.5 248 L886 247.9 L884.5 248.9 L883 248.5 L881.5 249.2 L880 249.8 L878.5 249.8 L877 249.7 L875.5 250.2 L874 250.5 L872.5 250.4 L871 250.2 L869.5 250 L868 249.8 L866.5 249.6 L865 249.5 L863.5 249.7 L862 250.3 L860.5 250 L859 250.3 L857.5 251.1 L856 250.9 L854.5 250.9 L853 250.9 L851.5 250.5 L850 250 L848.5 249.3 L847 248.9 L845.5 249.2 L844 249.4 L842.5 250.3 L841 251.2 L839.5 251.4 L838 251.5 L836.5 252 L835 251.7 L833.5 251.9 L832 251.4 L830.5 251.6 L829 251 L827.5 250.9 L826 251.7 L824.5 251.9 L823 251.3 L821.5 251.8 L820 252.4 L818.5 253.2 L817 253.6 L815.5 253.3 L814 252.9 L812.5 252.3 L811 252 L809.5 251.9 L808 251.6 L806.5 251.3 L805 252 L803.5 252.6 L802 253 L800.5 253.5 L799 253.4 L797.5 252.8 L796 253.2 L794.5 253.2 L793 253.7 L791.5 253.5 L790 253.5 L788.5 254.7 L787 254.9 L785.5 254.5 L784 254.2 L782.5 253.8 L781 253.6 L779.5 254.7 L778 254.6 L776.5 254.6 L775 255.3 L773.5 255.7 L772 255.2 L770.5 255.5 L769 255.1 L767.5 255 L766 254.9 L764.5 255 L763 254.7 L761.5 255.1 L760 255.2 L758.5 255 L757 255.8 L755.5 255.3 L754 255.1 L752.5 255.3 L751 255.7 L749.5 255.3 L748 256.1 L746.5 256 L745 256.1 L743.5 255.8 L742 255.5 L740.5 255.8 L739 256.3 L737.5 256.5 L736 255.9 L734.5 256.4 L733 257 L731.5 257.1 L730 257.7 L728.5 258.1 L727 258.1 L725.5 258.2 L724 259 L722.5 259.1 L721 259.3 L719.5 259.4 L718 259.8 L716.5 259 L715 259.2 L713.5 259.9 L712 260.7 L710.5 260.7 L709 261.6 L707.5 261.7 L706 262 L704.5 262.2 L703 262.8 L701.5 262.7 L700 262.9 L698.5 263.1 L697 262.9 L695.5 263.5 L694 263.3 L692.5 263.8 L691 264.1 L689.5 264.3 L688 264.1 L686.5 264.9 L685 264.7 L683.5 265 L682 265.3 L680.5 265.2 L679 265 L677.5 265.5 L676 265.7 L674.5 266.1 L673 266.2 L671.5 266.4 L670 266.7 L668.5 266.9 L667 266.3 L665.5 266.6 L664 266.8 L662.5 266.5 L661 266.8 L659.5 267.2 L658 267.3 L656.5 267.6 L655 268.3 L653.5 267.9 L652 268.5 L650.5 268.9 L649 268.7 L647.5 268.9 L646 269.7 L644.5 270.1 L643 270.8 L641.5 271.3 L640 272 L638.5 272 L637 271.7 L635.5 272.1 L634 271.7 L632.5 271.4 L631 271.4 L629.5 271.4 L628 271.9 L626.5 271.7 L625 272.2 L623.5 272.1 L622 273 L620.5 273.5 L619 274 L617.5 273.9 L616 275.1 L614.5 275.6 L613 276 L611.5 276.7 L610 277 L608.5 277.6 L607 277.8 L605.5 277.8 L604 277.9 L602.5 278.3 L601 278.7 L599.5 278.6 L598 279.2 L596.5 279.7 L595 280.9 L593.5 281 L592 282.3 L590.5 282.2 L589 282.4 L587.5 281.8 L586 281.7 L584.5 281 L583 281.2 L581.5 280.8 L580 281 L578.5 280.4 L577 280.2 L575.5 279.8 L574 280.5 L572.5 280.5 L571 280.8 L569.5 280.6 L568 281.1 L566.5 280.8 L565 281.2 L563.5 280.7 L562 280.8 L560.5 280.4 L559 280.5 L557.5 280.4 L556 280.8 L554.5 281.4 L553 281.4 L551.5 281.6 L550 282 L548.5 282.2 L547 282.2 L545.5 282.3 L544 282.4 L542.5 282.6 L541 282.8 L539.5 283.1 L538 283.6 L536.5 283.9 L535 284.5 L533.5 284.6 L532 284.8 L530.5 284.9 L529 284.9 L527.5 284.7 L526 284.8 L524.5 284.9 L523 285.1 L521.5 285.6 L520 285.9 L518.5 285.8 L517 285.6 L515.5 285.8 L514 285.9 L512.5 286.1 L511 286.6 L509.5 286.8 L508 287.1 L506.5 287.5 L505 287.4 L503.5 287.5 L502 287.5 L500.5 287.6 L499 287.8 L497.5 288.1 L496 288.3 L494.5 288.5 L493 288.5 L491.5 288.4 L490 288.6 L488.5 288.6 L487 288.5 L485.5 288.5 L484 288.4 L482.5 288.6 L481 288.3 L479.5 288.6 L478 288.9 L476.5 288.7 L475 288.7 L473.5 289 L472 288.9 L470.5 289.3 L469 289.3 L467.5 289.5 L466 289.7 L464.5 289.8 L463 289.7 L461.5 289.8 L460 289.5 L458.5 289.4 L457 289.2 L455.5 289.3 L454 289.1 L452.5 289.3 L451 289.4 L449.5 289.6 L448 289.8 L446.5 290.1 L445 290 L443.5 290.2 L442 290.2 L440.5 290.3 L439 290.4 L437.5 290.6 L436 290.4 L434.5 290.3 L433 290.5 L431.5 290.4 L430 290.5 L428.5 290.5 L427 290.4 L425.5 290.6 L424 290.8 L422.5 290.7 L421 290.9 L419.5 290.8 L418 291.1 L416.5 291.2 L415 291.3 L413.5 291.4 L412 291.4 L410.5 291.1 L409 291.2 L407.5 291.1 L406 291.4 L404.5 291.3 L403 291.3 L401.5 291.4 L400 291.2 L398.5 291.3 L397 291.4 L395.5 291.4 L394 291.1 L392.5 291.3 L391 291.3 L389.5 291.4 L388 291.5 L386.5 291.3 L385 291.1 L383.5 291.4 L382 291.4 L380.5 291.1 L379 291 L377.5 290.8 L376 290.8 L374.5 290.6 L373 290.8 L371.5 290.7 L370 290.8 L368.5 291 L367 291 L365.5 291.2 L364 291.4 L362.5 291.1 L361 291 L359.5 291 L358 291 L356.5 290.7 L355 290.7 L353.5 290.6 L352 290.8 L350.5 290.9 L349 291 L347.5 290.6 L346 290.7 L344.5 290.7 L343 290.6 L341.5 290.4 L340 290.7 L338.5 290.9 L337 290.9 L335.5 290.8 L334 291.2 L332.5 291.3 L331 291.2 L329.5 291.1 L328 290.8 L326.5 290.9 L325 291 L323.5 290.7 L322 290.7 L320.5 290.7 L319 290.7 L317.5 291 L316 291.1 L314.5 291 L313 291.1 L311.5 291.1 L310 291.1 L308.5 291.3 L307 291.2 L305.5 291.1 L304 291.3 L302.5 291.2 L301 291.1 L299.5 291.1 L298 290.8 L296.5 290.9 L295 291.2 L293.5 291 L292 291 L290.5 290.8 L289 290.6 L287.5 290.8 L286 290.9 L284.5 290.6 L283 290.6 L281.5 290.6 L280 290.7 L278.5 290.6 L277 290.4 L275.5 290.4 L274 290.4 L272.5 290.6 L271 290.7 L269.5 290.6 L268 290.4 L266.5 290.7 L265 290.8 L263.5 290.8 L262 290.8 L260.5 290.8 L259 290.7 L257.5 290.6 L256 290.6 L254.5 290.3 L253 290.4 L251.5 290.2 L250 290.1 L248.5 289.8 L247 290 L245.5 290.1 L244 290.1 L242.5 290.2 L241 290.3 L239.5 290 L238 290.2 L236.5 290.2 L235 290.1 L233.5 290.3 L232 290.1 L230.5 290.2 L229 290.1 L227.5 290 L226 290 L224.5 290 L223 289.7 L221.5 289.7 L220 289.3 L218.5 289.3 L217 289.5 L215.5 289.4 L214 289.4 L212.5 289.5 L211 289.3 L209.5 289.3 L208 289.4 L206.5 289.4 L205 289.3 L203.5 289.3 L202 289.3 L200.5 289.3 L199 289.1 L197.5 289.1 L196 289.3 L194.5 289.5 L193 289.4 L191.5 289.6 L190 289.6 L188.5 289.4 L187 289.1 L185.5 288.9 L184 288.7 L182.5 288.7 L181 288.6 L179.5 289 L178 289.2 L176.5 289.4 L175 289.7 L173.5 289.7 L172 289.5ZM288.1 281.5 L290.8 279 L293.2 279 L295.9 281.5 ZM419.1 281.5 L421.8 279 L424.2 279 L426.9 281.5 ZM491.1 274.5 L493.8 272 L496.2 272 L498.9 274.5 ZM528.1 271.8 L530.8 269.3 L533.2 269.3 L535.9 271.8 ZM568.1 251 L570.8 248.5 L573.2 248.5 L575.9 251 ZM576.1 264.5 L578.8 262 L581.2 262 L583.9 264.5 ZM610.1 255.5 L612.8 253 L615.2 253 L617.9 255.5 ZM623.1 261.5 L625.8 259 L628.2 259 L630.9 261.5 ZM646.1 228.5 L648.8 226 L651.2 226 L653.9 228.5 ZM654.6 242 L657.3 239.5 L659.7 239.5 L662.4 242 ZM721.1 209.9 L723.8 207.4 L726.2 207.4 L728.9 209.9 ZM739.6 201 L742.3 198.5 L744.7 198.5 L747.4 201 ZM768.1 233.5 L770.8 231 L773.2 231 L775.9 233.5 ZM792.6 197.8 L795.3 195.3 L797.7 195.3 L800.4 197.8 ZM862.6 198.7 L865.3 196.2 L867.7 196.2 L870.4 198.7 ZM886.1 230.5 L888.8 228 L891.2 228 L893.9 230.5 ZM914.1 224.5 L916.8 222 L919.2 222 L921.9 224.5 ZM929.1 197.8 L931.8 195.3 L934.2 195.3 L936.9 197.8 ZM980.1 214.2 L982.8 211.7 L985.2 211.7 L987.9 214.2 ZM992.1 205.8 L994.8 203.3 L997.2 203.3 L999.9 205.8 ZM1014.1 220.1 L1016.8 217.6 L1019.2 217.6 L1021.9 220.1 ZM1053.1 206.7 L1055.8 204.2 L1058.2 204.2 L1060.9 206.7 ZM1082.8 226.1 L1085.5 223.6 L1087.9 223.6 L1090.6 226.1 ZM1112.6 207.6 L1115.3 205.1 L1117.7 205.1 L1120.4 207.6 ZM1123.1 224.5 L1125.8 222 L1128.2 222 L1130.9 224.5 ZM1170.1 205.8 L1172.8 203.3 L1175.2 203.3 L1177.9 205.8 ZM1187.1 219.5 L1189.8 217 L1192.2 217 L1194.9 219.5 ZM1201.1 219.5 L1203.8 217 L1206.2 217 L1208.9 219.5 ZM1223.6 209.1 L1226.3 206.6 L1228.7 206.6 L1231.4 209.1 ZM1242.1 220.1 L1244.8 217.6 L1247.2 217.6 L1249.9 220.1 ZM1276.1 209.7 L1278.8 207.2 L1281.2 207.2 L1283.9 209.7 ZM1295.6 218.5 L1298.3 216 L1300.7 216 L1303.4 218.5 ZM1316.1 214.2 L1318.8 211.7 L1321.2 211.7 L1323.9 214.2 ZM1332.1 200.7 L1334.8 198.2 L1337.2 198.2 L1339.9 200.7 ZM1341.1 223 L1343.8 220.5 L1346.2 220.5 L1348.9 223 ZM1361.1 214.5 L1363.8 212 L1366.2 212 L1368.9 214.5 ZM1368.1 216.5 L1370.8 214 L1373.2 214 L1375.9 216.5 ZM1375.1 214 L1377.8 211.5 L1380.2 211.5 L1382.9 214 ZM1387.7 209.5 L1390.4 207 L1392.8 207 L1395.5 209.5 ZM1409.1 231.9 L1411.8 229.4 L1414.2 229.4 L1416.9 231.9 ZM1428.1 212.5 L1430.8 210 L1433.2 210 L1435.9 212.5 ZM1461.5 233.5 L1464.2 231 L1466.6 231 L1469.3 233.5 ZM1476.1 231.3 L1478.8 228.8 L1481.2 228.8 L1483.9 231.3 ZM1513.6 239.3 L1516.3 236.8 L1518.7 236.8 L1521.4 239.3 ZM1558.1 245.3 L1560.8 242.8 L1563.2 242.8 L1565.9 245.3 ZM1574.9 44.4 L1577.6 41.9 L1580 41.9 L1582.7 44.4 ZM1579.1 169.5 L1581.8 167 L1584.2 167 L1586.9 169.5 ZM1602.9 246.5 L1605.6 244 L1608 244 L1610.7 246.5 ZM1646.9 230.5 L1649.6 228 L1652 228 L1654.7 230.5 ZM1651.1 151.5 L1653.8 149 L1656.2 149 L1658.9 151.5 Z" fill="#4f4f4f"/>
<path d="M292 287 V281.2M423 286.9 V281.2M495 284.2 V274.2M532 280.1 V271.5M572 276.1 V250.7M580 276.8 V264.2M614 269.6 V255.2M627 267.8 V261.2M650 264.6 V228.2M658.5 263.3 V241.7M725 253.1 V209.6M743.5 250.8 V200.7M772 249.4 V233.2M796.5 248.3 V197.5M866.5 244.5 V198.4M890 243.2 V230.2M918 242 V224.2M933 241.4 V197.5M984 239.7 V213.9M996 239.2 V205.5M1018 238.3 V219.8M1057 236.5 V206.4M1086.7 235.2 V225.8M1116.5 233.9 V207.3M1127 233.5 V224.2M1174 231.6 V205.5M1191 231 V219.2M1205 230.4 V219.2M1227.5 229.6 V208.8M1246 228.9 V219.8M1280 227.6 V209.4M1299.5 226.5 V218.2M1320 225.4 V213.9M1336 224.8 V200.4M1345 226.2 V222.7M1365 229.3 V214.2M1372 230.2 V216.2M1379 231.1 V213.7M1391.6 233 V209.2M1413 238 V231.6M1432 240.6 V212.2M1465.4 243.2 V233.2M1480 244.4 V231M1517.5 246.3 V239M1562 250.4 V245M1578.8 251.3 V44.1M1583 251.4 V169.2M1606.8 251.6 V246.2M1650.8 251 V230.2M1655 250.8 V151.2M572 262.5 H580M574.5 276.3 V262.5M577 276.5 V262.5M579.5 276.7 V262.5M580 276.8 V262.5M650 240 H658.5M652.5 264.2 V240M655 263.9 V240M657.5 263.5 V240M658.5 263.3 V240M1336 221 H1345M1338.5 225.2 V221M1341 225.6 V221M1343.5 226 V221M1345 226.2 V221M1365 214.5 H1372M1367.5 229.6 V214.5M1370 229.9 V214.5M1372 230.2 V214.5M1372 214.5 H1379M1374.5 230.5 V214.5M1377 230.9 V214.5M1379 231.1 V214.5M1578.8 167.5 H1583M1581.3 251.3 V167.5M1583 251.4 V167.5M1650.8 228.5 H1655M1653.3 250.9 V228.5M1655 250.8 V228.5" fill="none" stroke="#4f4f4f" stroke-width="7.8" stroke-linecap="butt"/>
<path d="M172 645.1 L173.5 645.2 L175 645.1 L176.5 645 L178 645.1 L179.5 645 L181 645.4 L182.5 645.5 L184 645.5 L185.5 645.3 L187 645.6 L188.5 645.4 L190 645.8 L191.5 645.5 L193 645.5 L194.5 645.4 L196 645.6 L197.5 645.8 L199 646.1 L200.5 646.1 L202 646.1 L203.5 645.9 L205 646.1 L206.5 646 L208 645.9 L209.5 645.6 L211 645.6 L212.5 645.5 L214 645.7 L215.5 645.6 L217 645.5 L218.5 645.4 L220 645.7 L221.5 645.8 L223 645.9 L224.5 645.8 L226 645.8 L227.5 645.8 L229 645.9 L230.5 646 L232 645.7 L233.5 645.4 L235 645.3 L236.5 645.6 L238 645.3 L239.5 645.5 L241 645.6 L242.5 645.3 L244 645.6 L245.5 645.9 L247 645.5 L248.5 645.5 L250 645.5 L251.5 645.9 L253 646.3 L254.5 646.3 L256 646.1 L257.5 646.2 L259 646.2 L260.5 646.1 L262 646 L263.5 645.9 L265 646.1 L266.5 646 L268 645.9 L269.5 646.2 L271 646 L272.5 646.3 L274 646.2 L275.5 645.9 L277 646.3 L278.5 646.3 L280 646.1 L281.5 646.3 L283 646.5 L284.5 645.9 L286 645.7 L287.5 645.9 L289 645.7 L290.5 646.1 L292 646.2 L293.5 646.4 L295 646.8 L296.5 646.5 L298 646.4 L299.5 646.7 L301 646.6 L302.5 646.5 L304 646 L305.5 646.3 L307 646 L308.5 646.1 L310 646.3 L311.5 646.4 L313 646.2 L314.5 646.2 L316 646.3 L317.5 646.5 L319 646.3 L320.5 646.3 L322 646 L323.5 646 L325 646.5 L326.5 646.9 L328 647.1 L329.5 646.7 L331 646.6 L332.5 646.7 L334 646.6 L335.5 646.5 L337 646.3 L338.5 646.4 L340 646.5 L341.5 646.4 L343 646.5 L344.5 646.1 L346 646.3 L347.5 646.4 L349 646.5 L350.5 646.4 L352 646.2 L353.5 646.1 L355 646.1 L356.5 646.2 L358 646.4 L359.5 646.5 L361 646.3 L362.5 646.4 L364 646.4 L365.5 646.5 L367 646.2 L368.5 646.3 L370 646.5 L371.5 646.4 L373 646.1 L374.5 646 L376 646.3 L377.5 646.5 L379 646.7 L380.5 646.6 L382 646.6 L383.5 646.7 L385 646.7 L386.5 646.8 L388 647.1 L389.5 646.8 L391 647.1 L392.5 646.6 L394 646.8 L395.5 647.2 L397 647.1 L398.5 647.4 L400 647.3 L401.5 646.7 L403 646.5 L404.5 646.6 L406 646.4 L407.5 646.6 L409 646.2 L410.5 646.4 L412 646.2 L413.5 646.1 L415 645.9 L416.5 645.8 L418 645.8 L419.5 645.5 L421 645.8 L422.5 645.7 L424 646.3 L425.5 646.2 L427 646 L428.5 645.7 L430 645.9 L431.5 645.8 L433 645.8 L434.5 645.6 L436 645.6 L437.5 645 L439 645 L440.5 645.1 L442 645.3 L443.5 644.8 L445 644.6 L446.5 644.4 L448 645 L449.5 644.9 L451 644.4 L452.5 644.7 L454 645 L455.5 645.2 L457 644.9 L458.5 644.7 L460 644.8 L461.5 644.2 L463 643.8 L464.5 643.4 L466 643.8 L467.5 643.8 L469 643.7 L470.5 643.4 L472 643.4 L473.5 643.9 L475 643.5 L476.5 643.2 L478 643 L479.5 642.9 L481 643.5 L482.5 642.5 L484 642.4 L485.5 642.7 L487 643.1 L488.5 642.8 L490 643.1 L491.5 642.8 L493 643.1 L494.5 643 L496 641.9 L497.5 641.6 L499 641.9 L500.5 641.7 L502 641.6 L503.5 641.6 L505 641.2 L506.5 640.9 L508 641 L509.5 641.3 L511 640.8 L512.5 640.5 L514 639.3 L515.5 638.8 L517 639.7 L518.5 640.1 L520 640.3 L521.5 639.6 L523 639.9 L524.5 640.5 L526 640 L527.5 639.1 L529 639.1 L530.5 639.8 L532 639.4 L533.5 639.7 L535 637.7 L536.5 638.5 L538 638.1 L539.5 637.2 L541 637.3 L542.5 638.2 L544 638.5 L545.5 637.4 L547 637.2 L548.5 638.6 L550 638.2 L551.5 637 L553 635.9 L554.5 636.2 L556 637.2 L557.5 637.6 L559 637.7 L560.5 636.1 L562 635.8 L563.5 636 L565 635.7 L566.5 635.3 L568 634.8 L569.5 634.6 L571 634.9 L572.5 635.6 L574 635.6 L575.5 635.4 L577 634 L578.5 632.5 L580 634.2 L581.5 634.3 L583 634 L584.5 634.7 L586 635 L587.5 634.5 L589 634.1 L590.5 635 L592 635.3 L593.5 634.5 L595 634.7 L596.5 632.9 L598 633.4 L599.5 632 L601 631.5 L602.5 630 L604 630.4 L605.5 631 L607 631.7 L608.5 631 L610 630.4 L611.5 630.7 L613 631.3 L614.5 630.7 L616 630.5 L617.5 630.2 L619 628.7 L620.5 630 L622 629.8 L623.5 629.9 L625 630 L626.5 630.6 L628 630.5 L629.5 630 L631 628.6 L632.5 627.6 L634 628.5 L635.5 628.9 L637 627.5 L638.5 627 L640 626 L641.5 627.1 L643 626.7 L644.5 626.9 L646 626.3 L647.5 626.4 L649 626.9 L650.5 627.1 L652 627.4 L653.5 626.2 L655 624.6 L656.5 623.9 L658 624.6 L659.5 625.3 L661 624.7 L662.5 625.3 L664 625.1 L665.5 626.5 L667 626.6 L668.5 624.2 L670 624 L671.5 624 L673 625 L674.5 623.8 L676 623.3 L677.5 623.6 L679 624.5 L680.5 624.2 L682 623 L683.5 624.2 L685 624.4 L686.5 623.6 L688 621.9 L689.5 621.7 L691 623.4 L692.5 623.6 L694 623.3 L695.5 621.9 L697 621.2 L698.5 620.6 L700 620.7 L701.5 621.4 L703 620.6 L704.5 618.5 L706 620.1 L707.5 621.7 L709 621.6 L710.5 621.9 L712 621.6 L713.5 622 L715 621.5 L716.5 621.1 L718 621 L719.5 620.5 L721 620.6 L722.5 618.9 L724 616.8 L725.5 617.6 L727 618.5 L728.5 618.9 L730 619 L731.5 616.5 L733 617 L734.5 618.5 L736 617.7 L737.5 616.7 L739 616 L740.5 616.4 L742 617.4 L743.5 617.5 L745 617 L746.5 617.1 L748 617.8 L749.5 616.9 L751 616.9 L752.5 615.6 L754 615.5 L755.5 616.5 L757 617.2 L758.5 618.3 L760 618.5 L761.5 617.1 L763 615.9 L764.5 616.5 L766 617.2 L767.5 615.5 L769 614.4 L770.5 616 L772 616.8 L773.5 615.7 L775 615.1 L776.5 616.6 L778 616.3 L779.5 616 L781 614.1 L782.5 614.6 L784 615.4 L785.5 616 L787 615 L788.5 614.8 L790 615.5 L791.5 616.2 L793 615.5 L794.5 614.8 L796 614.9 L797.5 615.1 L799 616.5 L800.5 616.6 L802 616.4 L803.5 615.5 L805 614.3 L806.5 614.3 L808 616.8 L809.5 616.8 L811 615.1 L812.5 614.9 L814 614.7 L815.5 615.9 L817 615.9 L818.5 614.5 L820 613.1 L821.5 613.2 L823 613.9 L824.5 614.4 L826 614.5 L827.5 614.6 L829 612.4 L830.5 611.3 L832 612.4 L833.5 614 L835 614.7 L836.5 613.9 L838 612.4 L839.5 612.2 L841 613.5 L842.5 613.8 L844 613.6 L845.5 613.2 L847 612.3 L848.5 612.6 L850 611.7 L851.5 610.7 L853 611 L854.5 610.9 L856 612.4 L857.5 612.5 L859 611.4 L860.5 612.1 L862 612.3 L863.5 610.2 L865 609.4 L866.5 609.3 L868 611.5 L869.5 611.3 L871 611.2 L872.5 611.7 L874 611.2 L875.5 610.1 L877 610.1 L878.5 610.4 L880 611 L881.5 610.9 L883 610.2 L884.5 610.6 L886 610.5 L887.5 608.3 L889 610.1 L890.5 610.7 L892 610.6 L893.5 611 L895 609.5 L896.5 609.6 L898 610.3 L899.5 608.9 L901 608 L902.5 606.8 L904 607.7 L905.5 609.6 L907 608.7 L908.5 608 L910 608.7 L911.5 609.4 L913 610.4 L914.5 610.4 L916 609.9 L917.5 609 L919 608.6 L920.5 609.2 L922 609 L923.5 608.4 L925 608.9 L926.5 608 L928 607.2 L929.5 606.5 L931 607 L932.5 606.1 L934 606.4 L935.5 606.7 L937 607 L938.5 607.5 L940 606.5 L941.5 605.5 L943 607 L944.5 605.9 L946 605.8 L947.5 606.3 L949 606.2 L950.5 605.4 L952 606.2 L953.5 605.7 L955 606.4 L956.5 605.9 L958 606.2 L959.5 607.5 L961 606.7 L962.5 605.2 L964 604.9 L965.5 606.4 L967 605.1 L968.5 602.7 L970 604 L971.5 606.1 L973 605.4 L974.5 606 L976 606.9 L977.5 606.5 L979 607 L980.5 604.8 L982 605 L983.5 605.9 L985 605.8 L986.5 605.4 L988 604 L989.5 603.3 L991 604.2 L992.5 604.8 L994 605.6 L995.5 603.7 L997 602.9 L998.5 602.9 L1000 604.4 L1001.5 605.2 L1003 605.9 L1004.5 605.2 L1006 604.5 L1007.5 604.3 L1009 605 L1010.5 603.5 L1012 604.5 L1013.5 605.2 L1015 606.1 L1016.5 605.8 L1018 606.1 L1019.5 604.4 L1021 604.9 L1022.5 605.7 L1024 604.1 L1025.5 603 L1027 602.6 L1028.5 603.5 L1030 604.9 L1031.5 603.7 L1033 603.1 L1034.5 603.8 L1036 604.8 L1037.5 604.4 L1039 604.2 L1040.5 603 L1042 602.6 L1043.5 603.4 L1045 602 L1046.5 601 L1048 601.4 L1049.5 602.7 L1051 603.2 L1052.5 602.1 L1054 601 L1055.5 600.6 L1057 602.2 L1058.5 603.2 L1060 603.5 L1061.5 603.1 L1063 602.1 L1064.5 601.3 L1066 602.6 L1067.5 603.7 L1069 603.9 L1070.5 603.2 L1072 602.2 L1073.5 601.4 L1075 602.8 L1076.5 603.6 L1078 603.7 L1079.5 603.9 L1081 602.7 L1082.5 602.7 L1084 603.2 L1085.5 603.5 L1087 602.3 L1088.5 602.3 L1090 601 L1091.5 601.1 L1093 602.4 L1094.5 602.5 L1096 601.5 L1097.5 600.7 L1099 601.4 L1100.5 601.9 L1102 602.5 L1103.5 600.3 L1105 598.8 L1106.5 599.6 L1108 600.4 L1109.5 601.1 L1111 601.2 L1112.5 601.9 L1114 602.2 L1115.5 600.4 L1117 599.8 L1118.5 601.7 L1120 602.7 L1121.5 603.2 L1123 600.4 L1124.5 600.3 L1126 602.5 L1127.5 602.8 L1129 601.5 L1130.5 600.6 L1132 600.8 L1133.5 601.2 L1135 602 L1136.5 601.6 L1138 600.9 L1139.5 599.5 L1141 599.2 L1142.5 599.7 L1144 600.3 L1145.5 598.8 L1147 598 L1148.5 599.3 L1150 600.2 L1151.5 600.4 L1153 599.8 L1154.5 599.4 L1156 600 L1157.5 600.1 L1159 600.4 L1160.5 601.3 L1162 599.6 L1163.5 596.8 L1165 598.7 L1166.5 600.4 L1168 600 L1169.5 599.7 L1171 599.1 L1172.5 597.9 L1174 599 L1175.5 599.4 L1177 599.8 L1178.5 599.7 L1180 598.5 L1181.5 597.4 L1183 598.4 L1184.5 598.8 L1186 598.3 L1187.5 597.9 L1189 598.8 L1190.5 599.3 L1192 599.4 L1193.5 599.8 L1195 600 L1196.5 598.8 L1198 598.4 L1199.5 599.5 L1201 599.8 L1202.5 599.8 L1204 599.4 L1205.5 598.8 L1207 598 L1208.5 597.8 L1210 597.3 L1211.5 598.4 L1213 598.3 L1214.5 598 L1216 597.7 L1217.5 596.9 L1219 597.2 L1220.5 596.9 L1222 596.3 L1223.5 596.4 L1225 596.6 L1226.5 597.2 L1228 598.6 L1229.5 598.7 L1231 597.7 L1232.5 596.1 L1234 596.4 L1235.5 597.4 L1237 598.7 L1238.5 598.4 L1240 596.6 L1241.5 595.7 L1243 596.4 L1244.5 597.6 L1246 597.6 L1247.5 596.4 L1249 595.9 L1250.5 595.8 L1252 595.9 L1253.5 597.3 L1255 596.7 L1256.5 597.9 L1258 596.5 L1259.5 596.1 L1261 597.4 L1262.5 597.1 L1264 596.2 L1265.5 595 L1267 594.4 L1268.5 596 L1270 594.6 L1271.5 593.7 L1273 595.7 L1274.5 596.6 L1276 596.3 L1277.5 595.5 L1279 593.6 L1280.5 595.4 L1282 595.6 L1283.5 594.2 L1285 593.3 L1286.5 593 L1288 595 L1289.5 595.7 L1291 595.7 L1292.5 596.1 L1294 595.2 L1295.5 594.4 L1297 595.4 L1298.5 594.1 L1300 592.9 L1301.5 592.8 L1303 593.7 L1304.5 595.2 L1306 595.6 L1307.5 595 L1309 594.3 L1310.5 594.2 L1312 594.9 L1313.5 595.6 L1315 594.8 L1316.5 594.6 L1318 593.5 L1319.5 593.2 L1321 594.2 L1322.5 594.5 L1324 594.1 L1325.5 595.2 L1327 593.6 L1328.5 592.7 L1330 592.9 L1331.5 594.5 L1333 595.6 L1334.5 594.5 L1336 592.5 L1337.5 591.5 L1339 592.2 L1340.5 593.2 L1342 595.1 L1343.5 594.4 L1345 593.9 L1346.5 594.2 L1348 594.5 L1349.5 594.9 L1351 596.1 L1352.5 595.2 L1354 595.3 L1355.5 593.7 L1357 595.8 L1358.5 596.1 L1360 595.6 L1361.5 594.6 L1363 595 L1364.5 596.1 L1366 596.8 L1367.5 595.5 L1369 596.1 L1370.5 597 L1372 595.4 L1373.5 596.6 L1375 596 L1376.5 594.8 L1378 595.8 L1379.5 597 L1381 598.3 L1382.5 596.2 L1384 596.3 L1385.5 598.5 L1387 597.9 L1388.5 597.7 L1390 597 L1391.5 597.7 L1393 598.2 L1394.5 599.2 L1396 599.3 L1397.5 600 L1399 599.5 L1400.5 599.6 L1402 599.8 L1403.5 598.2 L1405 598.7 L1406.5 598.4 L1408 598.2 L1409.5 598.9 L1411 599.2 L1412.5 600.8 L1414 600.2 L1415.5 600.8 L1417 600.3 L1418.5 601.2 L1420 601.8 L1421.5 601.2 L1423 600.3 L1424.5 602.4 L1426 602.6 L1427.5 602.5 L1429 602.6 L1430.5 601.8 L1432 601.7 L1433.5 603.1 L1435 603.5 L1436.5 604.4 L1438 604.5 L1439.5 603.5 L1441 605.5 L1442.5 604.9 L1444 604.7 L1445.5 604.9 L1447 604.4 L1448.5 603.7 L1450 604.3 L1451.5 605 L1453 604.6 L1454.5 605 L1456 604.6 L1457.5 605.4 L1459 605.8 L1460.5 605.9 L1462 604.6 L1463.5 603.7 L1465 605.1 L1466.5 607.2 L1468 607.1 L1469.5 608 L1471 606.3 L1472.5 605.1 L1474 605.1 L1475.5 605.5 L1477 605.8 L1478.5 604.7 L1480 604.4 L1481.5 605.3 L1483 605.7 L1484.5 605.6 L1486 606.1 L1487.5 606.9 L1489 607.7 L1490.5 607.6 L1492 606.7 L1493.5 606.9 L1495 607.5 L1496.5 606.9 L1498 605.8 L1499.5 604.7 L1501 605.5 L1502.5 606.7 L1504 607.2 L1505.5 606.7 L1507 606.7 L1508.5 607.2 L1510 608.4 L1511.5 606.8 L1513 606.5 L1514.5 608.3 L1516 608.5 L1517.5 608.6 L1519 609.9 L1520.5 609.7 L1522 610.1 L1523.5 610.9 L1525 610 L1526.5 609.1 L1528 610.3 L1529.5 611.3 L1531 612.2 L1532.5 611.9 L1534 611.2 L1535.5 610.7 L1537 611.5 L1538.5 612.9 L1540 612.7 L1541.5 612.1 L1543 612.1 L1544.5 612.2 L1546 612.8 L1547.5 613.1 L1549 613.7 L1550.5 613.3 L1552 613.4 L1553.5 614 L1555 614.7 L1556.5 614.6 L1558 614.1 L1559.5 613.4 L1561 613.5 L1562.5 613.8 L1564 614.1 L1565.5 613.8 L1567 613.4 L1568.5 613.7 L1570 613.8 L1571.5 613.9 L1573 613.3 L1574.5 613.5 L1576 614.2 L1577.5 613.8 L1579 613.7 L1580.5 614 L1582 614.4 L1583.5 614.6 L1585 614.5 L1586.5 614.1 L1588 614.1 L1589.5 614.9 L1591 614.5 L1592.5 614.3 L1594 613.9 L1595.5 613.7 L1597 614.2 L1598.5 614 L1600 614 L1601.5 614.4 L1603 614.7 L1604.5 614.6 L1606 614.1 L1607.5 613.9 L1609 614 L1610.5 614.5 L1612 614.5 L1613.5 614.4 L1615 614.4 L1616.5 614 L1618 614 L1619.5 614.1 L1621 614.2 L1622.5 614.1 L1624 613.9 L1625.5 613.8 L1627 614.2 L1628.5 613.8 L1630 613.3 L1631.5 613 L1633 612.4 L1634.5 612.9 L1636 613.4 L1637.5 613 L1639 613 L1640.5 613 L1642 612.7 L1643.5 612.8 L1645 613 L1646.5 612.5 L1648 612 L1649.5 611.5 L1651 611.4 L1652.5 611.5 L1654 611.6 L1655.5 611 L1657 610.5 L1658.5 610.3 L1660 610.4 L1661.5 609.7 L1663 609.5 L1664.5 609.3 L1666 609.4 L1667.5 609.1 L1669 608.7 L1670.5 608.6 L1672 608.2 L1673.5 608.1 L1675 607.9 L1676.5 607.4 L1678 607.1 L1679.5 606.7 L1681 606.6 L1682.5 606.5 L1684 606.1 L1685.5 605.5 L1687 605.5 L1688.5 605.2 L1690 604.9 L1691.5 604.3 L1693 604.1 L1694.5 603.9 L1696 603.8 L1697.5 603.4 L1699 602.8 L1700.5 603 L1702 603 L1703.5 602.7 L1705 602.7 L1706.5 602.4 L1708 602.1 L1709.5 601.7 L1711 601.4 L1712.5 601.2 L1714 601 L1715.5 600.7 L1717 600.3 L1718.5 600 L1720 600.1 L1721.5 599.9 L1723 600.1 L1724.5 599.9 L1726 599.9 L1727.5 599.6 L1729 599.3 L1730.5 599.1 L1732 599.2 L1733.5 598.9 L1735 599 L1736.5 598.3 L1738 597.9 L1739.5 598 L1741 598 L1742.5 597.8 L1744 597.5 L1745.5 597.1 L1747 597.1 L1748.5 597 L1750 596.9 L1751.5 596.9 L1753 596.7 L1754.5 596.3 L1756 596.3 L1757.5 596.3 L1759 595.9 L1760.5 595.8 L1762 595.7 L1763.5 595.5 L1765 595.7 L1766.5 595.8 L1768 595.8 L1769.5 595.5 L1771 595.5 L1772.5 595.8 L1774 595.6 L1775.5 595.6 L1777 595.8 L1778.5 595.7 L1780 595.8 L1781.5 595.9 L1783 596.1 L1784.5 595.9 L1786 595.9 L1787.5 596.4 L1789 596.6 L1790.5 596.6 L1792 596.6 L1793.5 596.4 L1795 596.5 L1796.5 596.7 L1798 596.5 L1799.5 596.8 L1801 596.9 L1802.5 596.7 L1804 596.7 L1805.5 596.7 L1807 596.8 L1808.5 596.8 L1810 596.5 L1811.5 596.5 L1813 596.9 L1814.5 596.8 L1816 596.8 L1817.5 596.8 L1819 596.7 L1820.5 596.9 L1822 596.9 L1823.5 596.8 L1825 597 L1826.5 597.1 L1828 596.9 L1829.5 596.9 L1831 597 L1832.5 597.1 L1834 597.3 L1835.5 597.5 L1837 597.5 L1838.5 597.4 L1840 597.3 L1841.5 597.4 L1843 597.6 L1844.5 597.6 L1846 597.6 L1847.5 597.5 L1849 597.5 L1850.5 597.7 L1852 597.9 L1853.5 597.9 L1855 597.8 L1856.5 597.6 L1858 597.4 L1859.5 597.5 L1861 597.7 L1862.5 597.6 L1864 597.7 L1865.5 597.7 L1867 598 L1868.5 597.8 L1870 597.9 L1871.5 597.9 L1873 598.1 L1874.5 598.2 L1876 598.1 L1877.5 598 L1879 598.1 L1880.5 598.1 L1882 598.3 L1883.5 598.1 L1885 597.8 L1886.5 597.9 L1888 597.9 L1889.5 598.1 L1891 598.1 L1892.5 598.2 L1894 598.3 L1895.5 598.2 L1897 598.3 L1898.5 598.5 L1900 598.7 L1901.5 598.7 L1903 598.7 L1904.5 598.6 L1906 598.7 L1907.5 598.7 L1909 598.7 L1910.5 598.6 L1912 598.6 L1913.5 599 L1915 599.2 L1916.5 598.7 L1918 598.4 L1919.5 598.9 L1921 599.1 L1922.5 599.3 L1924 599.1 L1925.5 599 L1927 598.9 L1928.5 599 L1930 599.1 L1931.5 599.2 L1933 599 L1934.5 598.9 L1936 598.6 L1937.5 598.9 L1939 599.1 L1940.5 599 L1942 599.1 L1943.5 599.1 L1945 598.9 L1946.5 599.1 L1948 599.3 L1949.5 599.2 L1951 599.1 L1952.5 599.1 L1954 599.2 L1955.5 599.2 L1957 599.2 L1958.5 599.4 L1960 599.2 L1961.5 599.2 L1963 599.5 L1964.5 599.5 L1966 599.7 L1967.5 599.6 L1969 599.5 L1970.5 599.3 L1972 599.4 L1973.5 599.2 L1975 599.3 L1976.5 599.2 L1978 599.2 L1979.5 599.2 L1981 599.2 L1982.5 598.9 L1984 598.9 L1985.5 599.1 L1987 599.2 L1988.5 599 L1990 598.9 L1991.5 599.1 L1993 599.3 L1994.5 599.4 L1996 599.3 L1997.5 599.1 L1999 599 L2000.5 599.5 L2002 599.7 L2003.5 599.9 L2005 599.8 L2006.5 599.5 L2008 599.3 L2009.5 599.7 L2011 599.7 L2012.5 599.8 L2014 599.7 L2015.5 599.5 L2017 599.4 L2018.5 599.5 L2020 599.6 L2021.5 599.5 L2023 599.5 L2024.5 599.5 L2026 599.5 L2027.5 599.8 L2029 599.8 L2030.5 599.6 L2032 599.5 L2033.5 599.4 L2035 599.3 L2036.5 599.4 L2038 599.2 L2039.5 599.3 L2041 599.3 L2042.5 599.2 L2044 599.4 L2045.5 599.3 L2047 599.4 L2048.5 599.4 L2050 599.4 L2051.5 599.4 L2053 599.6 L2054.5 600 L2056 600.3 L2057.5 600.2 L2059 600.2 L2060.5 599.9 L2062 599.9 L2063.5 600 L2065 600.1 L2066.5 599.8 L2068 599.7 L2069.5 599.6 L2071 599.7 L2072.5 599.9 L2074 599.8 L2075.5 600 L2077 600.1 L2078.5 599.7 L2080 599.6 L2081.5 600.1 L2083 600.4 L2084.5 600.2 L2086 600.2 L2087.5 599.8 L2089 600 L2090.5 600.2 L2092 600.1 L2093.5 599.8 L2095 599.8 L2096.5 600.2 L2098 600.2 L2099.5 600 L2101 599.7 L2102.5 599.8 L2104 600 L2105.5 600.2 L2107 600.1 L2108.5 600.3 L2110 600.3 L2111.5 600 L2113 600 L2114.5 600.1 L2116 599.9 L2117.5 600 L2119 599.9 L2120.5 599.9 L2122 599.9 L2123.5 599.6 L2125 599.5 L2126.5 599.8 L2128 599.9 L2129.5 599.9 L2131 600.1 L2132.5 600.1 L2134 600.1 L2135.5 600.2 L2137 600.5 L2138.5 600.3 L2140 600.2 L2141.5 600.2 L2143 600.2 L2144.5 600 L2146 600.2 L2147.5 600.5 L2149 600.5 L2150.5 600.3 L2152 600.3 L2153.5 600.2 L2155 600.4 L2156.5 600.4 L2158 600.4 L2159.5 600.4 L2161 600.5 L2162.5 600.3 L2164 600.5 L2165.5 600.3 L2167 600.2 L2168.5 600.3 L2170 600.1 L2171.5 600.1 L2173 600.2 L2173 607.1 L2171.5 607.2 L2170 607.2 L2168.5 607.3 L2167 607.2 L2165.5 607.3 L2164 607.4 L2162.5 607.4 L2161 607.4 L2159.5 607.4 L2158 607.5 L2156.5 607.6 L2155 607.8 L2153.5 607.7 L2152 607.7 L2150.5 607.6 L2149 607.6 L2147.5 607.5 L2146 607.3 L2144.5 607.2 L2143 607.2 L2141.5 607.4 L2140 607.4 L2138.5 607.5 L2137 607.5 L2135.5 607.4 L2134 607.3 L2132.5 607.3 L2131 607 L2129.5 606.9 L2128 606.9 L2126.5 606.9 L2125 606.9 L2123.5 607 L2122 607.1 L2120.5 607.1 L2119 607 L2117.5 607 L2116 606.9 L2114.5 607 L2113 607.2 L2111.5 607.1 L2110 607.4 L2108.5 607.4 L2107 607.4 L2105.5 607.4 L2104 607.3 L2102.5 607.2 L2101 607.3 L2099.5 607.4 L2098 607.3 L2096.5 607.3 L2095 607.2 L2093.5 607.2 L2092 607.3 L2090.5 607.4 L2089 607.4 L2087.5 607.2 L2086 607.3 L2084.5 607.3 L2083 607.2 L2081.5 607.1 L2080 607.1 L2078.5 607 L2077 607.2 L2075.5 607.2 L2074 607 L2072.5 607.1 L2071 607.1 L2069.5 607.2 L2068 607.1 L2066.5 607.1 L2065 607.2 L2063.5 607.3 L2062 607.3 L2060.5 607.3 L2059 607.2 L2057.5 607.1 L2056 607.1 L2054.5 606.9 L2053 606.8 L2051.5 606.6 L2050 606.5 L2048.5 606.5 L2047 606.5 L2045.5 606.5 L2044 606.5 L2042.5 606.5 L2041 606.4 L2039.5 606.4 L2038 606.5 L2036.5 606.6 L2035 606.6 L2033.5 606.7 L2032 606.7 L2030.5 606.8 L2029 606.9 L2027.5 606.8 L2026 606.7 L2024.5 606.6 L2023 606.6 L2021.5 606.5 L2020 606.6 L2018.5 606.5 L2017 606.5 L2015.5 606.5 L2014 606.7 L2012.5 606.7 L2011 606.8 L2009.5 606.8 L2008 606.7 L2006.5 606.8 L2005 606.9 L2003.5 607 L2002 607 L2000.5 606.7 L1999 606.4 L1997.5 606.5 L1996 606.3 L1994.5 606.4 L1993 606.4 L1991.5 606.3 L1990 606.2 L1988.5 606.3 L1987 606.3 L1985.5 606.2 L1984 606.1 L1982.5 606.1 L1981 606.1 L1979.5 606.2 L1978 606.3 L1976.5 606.2 L1975 606.5 L1973.5 606.5 L1972 606.6 L1970.5 606.8 L1969 606.7 L1967.5 606.8 L1966 606.9 L1964.5 606.6 L1963 606.7 L1961.5 606.6 L1960 606.5 L1958.5 606.5 L1957 606.4 L1955.5 606.3 L1954 606.3 L1952.5 606.3 L1951 606.3 L1949.5 606.1 L1948 606.3 L1946.5 606.3 L1945 606.2 L1943.5 606.3 L1942 606.2 L1940.5 606.1 L1939 606.2 L1937.5 606.3 L1936 606.3 L1934.5 606.3 L1933 606.2 L1931.5 606.3 L1930 606.4 L1928.5 606.5 L1927 606.3 L1925.5 606.2 L1924 606.3 L1922.5 606.3 L1921 606.1 L1919.5 606.1 L1918 606.1 L1916.5 606.1 L1915 606.3 L1913.5 606.3 L1912 606.1 L1910.5 605.9 L1909 606 L1907.5 606 L1906 605.9 L1904.5 605.9 L1903 605.9 L1901.5 605.9 L1900 605.9 L1898.5 606 L1897 605.9 L1895.5 605.7 L1894 605.7 L1892.5 605.5 L1891 605.3 L1889.5 605.4 L1888 605.2 L1886.5 605 L1885 605 L1883.5 605.1 L1882 605.3 L1880.5 605.3 L1879 605.4 L1877.5 605.4 L1876 605.5 L1874.5 605.4 L1873 605.3 L1871.5 605.2 L1870 605.3 L1868.5 605.1 L1867 605 L1865.5 605.1 L1864 605.1 L1862.5 605 L1861 605 L1859.5 605.1 L1858 605.1 L1856.5 605 L1855 605.1 L1853.5 605.1 L1852 605.3 L1850.5 605.2 L1849 605.1 L1847.5 604.8 L1846 604.7 L1844.5 604.5 L1843 604.5 L1841.5 604.6 L1840 604.5 L1838.5 604.5 L1837 604.6 L1835.5 604.6 L1834 604.6 L1832.5 604.5 L1831 604.5 L1829.5 604.4 L1828 604.3 L1826.5 604.4 L1825 604.4 L1823.5 604.2 L1822 604.3 L1820.5 604.1 L1819 604 L1817.5 604.2 L1816 604 L1814.5 604.1 L1813 604 L1811.5 604 L1810 603.9 L1808.5 603.8 L1807 603.8 L1805.5 604 L1804 603.9 L1802.5 604.1 L1801 604.2 L1799.5 604.3 L1798 604.2 L1796.5 604.2 L1795 604 L1793.5 604 L1792 603.8 L1790.5 603.7 L1789 603.7 L1787.5 603.4 L1786 603.2 L1784.5 603.1 L1783 603.2 L1781.5 603.1 L1780 603.2 L1778.5 603 L1777 603.1 L1775.5 603.1 L1774 603.2 L1772.5 603 L1771 602.8 L1769.5 602.8 L1768 603 L1766.5 602.9 L1765 603.1 L1763.5 603.1 L1762 603.1 L1760.5 603.3 L1759 603.4 L1757.5 603.6 L1756 603.7 L1754.5 604 L1753 604.3 L1751.5 604.3 L1750 604.4 L1748.5 604.7 L1747 604.7 L1745.5 604.8 L1744 605.1 L1742.5 605.1 L1741 605.4 L1739.5 605.5 L1738 605.6 L1736.5 605.7 L1735 606.1 L1733.5 606.1 L1732 606.2 L1730.5 606.3 L1729 606.5 L1727.5 606.9 L1726 607 L1724.5 607.1 L1723 607.2 L1721.5 607.1 L1720 607.2 L1718.5 607.3 L1717 607.4 L1715.5 607.6 L1714 608.1 L1712.5 608.5 L1711 608.9 L1709.5 609.2 L1708 609.4 L1706.5 609.6 L1705 610 L1703.5 610.1 L1702 610.3 L1700.5 610.6 L1699 610.8 L1697.5 611.1 L1696 611.4 L1694.5 611.6 L1693 611.9 L1691.5 612.1 L1690 612.4 L1688.5 612.6 L1687 612.8 L1685.5 613 L1684 613.4 L1682.5 613.8 L1681 614.2 L1679.5 614.5 L1678 614.7 L1676.5 614.8 L1675 615.2 L1673.5 615.4 L1672 615.8 L1670.5 616.3 L1669 616.5 L1667.5 616.8 L1666 617 L1664.5 617 L1663 617.2 L1661.5 617.3 L1660 617.5 L1658.5 617.7 L1657 617.9 L1655.5 618.5 L1654 618.7 L1652.5 619 L1651 619.4 L1649.5 619.6 L1648 619.8 L1646.5 620.2 L1645 620.4 L1643.5 620.7 L1642 620.6 L1640.5 620.7 L1639 620.6 L1637.5 620.6 L1636 620.8 L1634.5 620.9 L1633 620.8 L1631.5 621 L1630 620.8 L1628.5 621 L1627 621.2 L1625.5 621.2 L1624 621.4 L1622.5 621.6 L1621 621.6 L1619.5 621.9 L1618 621.8 L1616.5 621.8 L1615 621.8 L1613.5 621.8 L1612 621.8 L1610.5 621.9 L1609 621.7 L1607.5 621.9 L1606 621.9 L1604.5 621.9 L1603 621.9 L1601.5 621.7 L1600 621.6 L1598.5 622 L1597 621.8 L1595.5 621.7 L1594 621.9 L1592.5 621.8 L1591 622.2 L1589.5 622.4 L1588 622.3 L1586.5 622.3 L1585 622.3 L1583.5 622.2 L1582 622 L1580.5 621.9 L1579 621.7 L1577.5 621.8 L1576 621.5 L1574.5 621.5 L1573 621.4 L1571.5 621.5 L1570 621.6 L1568.5 621.6 L1567 621.6 L1565.5 621.8 L1564 621.8 L1562.5 622.1 L1561 622.1 L1559.5 622 L1558 622.3 L1556.5 622.5 L1555 622.5 L1553.5 622.4 L1552 622.2 L1550.5 622 L1549 621.6 L1547.5 621.3 L1546 621.3 L1544.5 621.6 L1543 621.3 L1541.5 621.3 L1540 621.1 L1538.5 621.4 L1537 620.9 L1535.5 620.4 L1534 620.2 L1532.5 620.2 L1531 620.3 L1529.5 620.4 L1528 619.9 L1526.5 620 L1525 620.3 L1523.5 619.8 L1522 619.3 L1520.5 619 L1519 619.2 L1517.5 618.7 L1516 618.5 L1514.5 617.9 L1513 617.7 L1511.5 618 L1510 618.3 L1508.5 618 L1507 618.7 L1505.5 618.1 L1504 618 L1502.5 617.9 L1501 617.6 L1499.5 617.3 L1498 617.5 L1496.5 617.9 L1495 617.9 L1493.5 618.5 L1492 618.5 L1490.5 617.8 L1489 617.5 L1487.5 617.5 L1486 616.5 L1484.5 616.8 L1483 617.1 L1481.5 616.5 L1480 615.9 L1478.5 616.2 L1477 616.5 L1475.5 617.3 L1474 617.6 L1472.5 617.7 L1471 617.5 L1469.5 617.6 L1468 617.4 L1466.5 617.4 L1465 617.3 L1463.5 616.9 L1462 617.2 L1460.5 616.5 L1459 616.2 L1457.5 616.5 L1456 616.2 L1454.5 615.5 L1453 615.5 L1451.5 614.9 L1450 615.2 L1448.5 615.3 L1447 615.4 L1445.5 614.9 L1444 615 L1442.5 615.1 L1441 614.8 L1439.5 614.5 L1438 614.3 L1436.5 613.3 L1435 613.5 L1433.5 613.2 L1432 612.6 L1430.5 612.7 L1429 613.1 L1427.5 612.1 L1426 612.2 L1424.5 612.1 L1423 611.6 L1421.5 611.2 L1420 611.2 L1418.5 611 L1417 610.6 L1415.5 610.6 L1414 610.2 L1412.5 610.6 L1411 610.3 L1409.5 610.3 L1408 610.4 L1406.5 610.3 L1405 609.9 L1403.5 610.7 L1402 611.1 L1400.5 611.6 L1399 611.2 L1397.5 611 L1396 610.5 L1394.5 609.7 L1393 609.4 L1391.5 608.8 L1390 608.4 L1388.5 608.1 L1387 608.1 L1385.5 608.6 L1384 608.7 L1382.5 608.2 L1381 608 L1379.5 607.8 L1378 607.7 L1376.5 607.2 L1375 607 L1373.5 607.1 L1372 607 L1370.5 607.4 L1369 607.3 L1367.5 607.1 L1366 607.9 L1364.5 607.7 L1363 607.3 L1361.5 606.6 L1360 606.9 L1358.5 606.1 L1357 605.8 L1355.5 605.7 L1354 606 L1352.5 605.1 L1351 605.3 L1349.5 605.1 L1348 605.7 L1346.5 605.7 L1345 605.9 L1343.5 605.9 L1342 606 L1340.5 605.3 L1339 604.8 L1337.5 604.8 L1336 604 L1334.5 604.4 L1333 605.2 L1331.5 604.8 L1330 604.6 L1328.5 605.2 L1327 605.1 L1325.5 605.4 L1324 605.2 L1322.5 605 L1321 604.7 L1319.5 604.5 L1318 605.2 L1316.5 606.2 L1315 606.1 L1313.5 605.9 L1312 606.2 L1310.5 606 L1309 605.3 L1307.5 605.1 L1306 604.8 L1304.5 604.7 L1303 604.9 L1301.5 605.4 L1300 604.6 L1298.5 605 L1297 604.9 L1295.5 605.1 L1294 605.4 L1292.5 606 L1291 605.4 L1289.5 606.1 L1288 606.6 L1286.5 606.5 L1285 606.5 L1283.5 606.7 L1282 606.4 L1280.5 606.4 L1279 605.6 L1277.5 606 L1276 606.5 L1274.5 606.8 L1273 606.9 L1271.5 606.4 L1270 606.3 L1268.5 606.4 L1267 606.6 L1265.5 607.1 L1264 607.7 L1262.5 607.6 L1261 607.3 L1259.5 607.3 L1258 607.1 L1256.5 607.2 L1255 607.3 L1253.5 607.4 L1252 607.2 L1250.5 607.5 L1249 607.9 L1247.5 607.7 L1246 608.2 L1244.5 607.5 L1243 607.1 L1241.5 607.7 L1240 608.3 L1238.5 607.8 L1237 608.1 L1235.5 608 L1234 608 L1232.5 607.8 L1231 608.1 L1229.5 608 L1228 608 L1226.5 607.5 L1225 607.7 L1223.5 607.5 L1222 608 L1220.5 608.5 L1219 608.9 L1217.5 608.5 L1216 608.9 L1214.5 609 L1213 608.9 L1211.5 608.9 L1210 609.1 L1208.5 609.6 L1207 609.9 L1205.5 610.1 L1204 609.5 L1202.5 609.3 L1201 609.8 L1199.5 609.7 L1198 610 L1196.5 610.2 L1195 610.6 L1193.5 610.9 L1192 611.1 L1190.5 610.7 L1189 610.5 L1187.5 610.2 L1186 610.3 L1184.5 610 L1183 609.7 L1181.5 609.4 L1180 609.7 L1178.5 609.6 L1177 609.7 L1175.5 610.2 L1174 610.1 L1172.5 610 L1171 610 L1169.5 610.5 L1168 609.6 L1166.5 609.7 L1165 609.5 L1163.5 610 L1162 610 L1160.5 610.5 L1159 610.2 L1157.5 610.4 L1156 610.2 L1154.5 610.3 L1153 610.5 L1151.5 610.1 L1150 610.2 L1148.5 610.2 L1147 611 L1145.5 610.8 L1144 611.7 L1142.5 612 L1141 611.8 L1139.5 612.5 L1138 611.9 L1136.5 611.4 L1135 611.6 L1133.5 611.1 L1132 610.9 L1130.5 611.7 L1129 612 L1127.5 612.5 L1126 612.5 L1124.5 612.1 L1123 612.1 L1121.5 611.9 L1120 612.3 L1118.5 612.4 L1117 612.5 L1115.5 612.6 L1114 613 L1112.5 612.9 L1111 612.5 L1109.5 612.6 L1108 612.8 L1106.5 612.2 L1105 612.1 L1103.5 612.1 L1102 612.5 L1100.5 612.4 L1099 612.7 L1097.5 612.7 L1096 613 L1094.5 613.5 L1093 613.2 L1091.5 613 L1090 613 L1088.5 613 L1087 612.7 L1085.5 613 L1084 613.2 L1082.5 614 L1081 614.1 L1079.5 614.1 L1078 614.2 L1076.5 614.3 L1075 614.1 L1073.5 613.8 L1072 614.4 L1070.5 613.7 L1069 613.4 L1067.5 613.4 L1066 613.6 L1064.5 613.7 L1063 614.1 L1061.5 613.4 L1060 613.5 L1058.5 613.6 L1057 613.2 L1055.5 612.9 L1054 612.9 L1052.5 613.2 L1051 613.5 L1049.5 613.2 L1048 612.9 L1046.5 613 L1045 613.3 L1043.5 613.8 L1042 614.6 L1040.5 614.5 L1039 614.6 L1037.5 615 L1036 614.7 L1034.5 614.2 L1033 614.2 L1031.5 614.7 L1030 614.4 L1028.5 613.9 L1027 614.5 L1025.5 614.7 L1024 614.4 L1022.5 614.4 L1021 614.5 L1019.5 614.6 L1018 615.3 L1016.5 615 L1015 614.7 L1013.5 615.5 L1012 616.1 L1010.5 615.8 L1009 616 L1007.5 616.2 L1006 616.9 L1004.5 616.6 L1003 616.4 L1001.5 615.8 L1000 615.4 L998.5 614.9 L997 614.2 L995.5 614.4 L994 614.7 L992.5 615.2 L991 615.8 L989.5 616.5 L988 616.6 L986.5 616.4 L985 616.3 L983.5 616.2 L982 616.7 L980.5 616.3 L979 617 L977.5 617.1 L976 617.4 L974.5 616.6 L973 617.3 L971.5 616.9 L970 616.1 L968.5 615.8 L967 616.5 L965.5 615.7 L964 615.8 L962.5 615.8 L961 616.6 L959.5 616.5 L958 616.8 L956.5 617.5 L955 618.1 L953.5 617.5 L952 618.4 L950.5 617.9 L949 617.4 L947.5 617.4 L946 617.1 L944.5 616.1 L943 616.4 L941.5 616.1 L940 616.4 L938.5 616.4 L937 616.4 L935.5 616.8 L934 617.4 L932.5 618 L931 618.5 L929.5 618 L928 618.1 L926.5 618.7 L925 618.7 L923.5 618.9 L922 619.6 L920.5 619.5 L919 619.9 L917.5 620.2 L916 620.1 L914.5 620.7 L913 621.2 L911.5 621.3 L910 621 L908.5 620.2 L907 620.2 L905.5 620.2 L904 619.7 L902.5 619.5 L901 620.4 L899.5 620.7 L898 621.2 L896.5 620.7 L895 621.2 L893.5 621.3 L892 621.2 L890.5 620.5 L889 621 L887.5 621.2 L886 621.3 L884.5 621.1 L883 621.1 L881.5 621.2 L880 622 L878.5 622.5 L877 622.5 L875.5 623 L874 623.5 L872.5 623.7 L871 623.6 L869.5 623.3 L868 622.7 L866.5 622.9 L865 622.7 L863.5 622.5 L862 622.5 L860.5 622.2 L859 622.4 L857.5 623.2 L856 622.7 L854.5 622.9 L853 623.6 L851.5 623.9 L850 623.8 L848.5 624.2 L847 624 L845.5 623.7 L844 623.4 L842.5 623.4 L841 624.3 L839.5 624.5 L838 624.8 L836.5 624.6 L835 624.8 L833.5 624.4 L832 624.2 L830.5 624.3 L829 624.7 L827.5 625 L826 624.8 L824.5 625.3 L823 625.7 L821.5 625.2 L820 625 L818.5 625.4 L817 626.1 L815.5 626.6 L814 626.8 L812.5 625.9 L811 626.4 L809.5 626.7 L808 626.3 L806.5 625.9 L805 626.1 L803.5 626.3 L802 626.9 L800.5 626.8 L799 625.9 L797.5 625.6 L796 625.6 L794.5 625.1 L793 625 L791.5 625.9 L790 625.8 L788.5 626.7 L787 626.6 L785.5 626.9 L784 626.7 L782.5 626.6 L781 625.9 L779.5 626.5 L778 626.5 L776.5 626.6 L775 626.5 L773.5 627.2 L772 627 L770.5 627 L769 626.6 L767.5 626.1 L766 626.7 L764.5 626.9 L763 626.9 L761.5 627.8 L760 628.8 L758.5 628.3 L757 628.6 L755.5 628.4 L754 628.4 L752.5 627.9 L751 627.7 L749.5 627.2 L748 627.9 L746.5 628.2 L745 628.4 L743.5 628.7 L742 628 L740.5 627.6 L739 627.7 L737.5 627.9 L736 627.7 L734.5 627.8 L733 627.8 L731.5 628.5 L730 628.8 L728.5 628.6 L727 629.4 L725.5 629.8 L724 630.1 L722.5 630.8 L721 631.2 L719.5 630.9 L718 631.2 L716.5 631.3 L715 632.1 L713.5 632.8 L712 632.9 L710.5 632.7 L709 632.2 L707.5 632.8 L706 632.1 L704.5 632.4 L703 632.8 L701.5 632.7 L700 632.6 L698.5 633.1 L697 632.2 L695.5 632.3 L694 632.8 L692.5 632.5 L691 633.1 L689.5 633.7 L688 634.2 L686.5 634.2 L685 634.5 L683.5 634.2 L682 634.6 L680.5 634.1 L679 634.8 L677.5 634.6 L676 635 L674.5 635.4 L673 635.9 L671.5 635.8 L670 636.3 L668.5 636.6 L667 637 L665.5 636.2 L664 635.6 L662.5 636 L661 636.1 L659.5 636.1 L658 637.1 L656.5 637.6 L655 638 L653.5 637.8 L652 637.1 L650.5 637.1 L649 637.1 L647.5 636.9 L646 637.3 L644.5 637.5 L643 637.5 L641.5 637.7 L640 637.3 L638.5 637.8 L637 638.6 L635.5 639.2 L634 639.4 L632.5 639.7 L631 640.3 L629.5 640.8 L628 640.6 L626.5 641 L625 641.1 L623.5 640.9 L622 640.6 L620.5 641.3 L619 641 L617.5 640.8 L616 640.9 L614.5 641.5 L613 641.3 L611.5 641.9 L610 641.8 L608.5 641.4 L607 641.2 L605.5 641.4 L604 641.9 L602.5 642.2 L601 642.7 L599.5 643 L598 644 L596.5 644.4 L595 645.3 L593.5 645.3 L592 645.4 L590.5 645.4 L589 645.1 L587.5 644.6 L586 644.6 L584.5 644.3 L583 643.9 L581.5 643.8 L580 644.5 L578.5 644.7 L577 644.7 L575.5 644.6 L574 644.7 L572.5 644.5 L571 644.3 L569.5 644.3 L568 644.6 L566.5 645 L565 645.6 L563.5 645.9 L562 646.5 L560.5 647 L559 647.2 L557.5 647.1 L556 647.7 L554.5 647.5 L553 647.5 L551.5 647.3 L550 647.3 L548.5 647.7 L547 647.5 L545.5 647.7 L544 647.6 L542.5 647.7 L541 647.2 L539.5 647.3 L538 647.5 L536.5 647.6 L535 647.9 L533.5 648.1 L532 648.5 L530.5 648.8 L529 648.7 L527.5 648.6 L526 648.7 L524.5 648.5 L523 648.6 L521.5 649.1 L520 648.8 L518.5 648.8 L517 648.9 L515.5 649 L514 648.9 L512.5 649.4 L511 649.2 L509.5 649.7 L508 650.1 L506.5 650.2 L505 650.2 L503.5 650.2 L502 649.7 L500.5 649.8 L499 649.8 L497.5 650.1 L496 650.7 L494.5 651.1 L493 651.4 L491.5 651.4 L490 651.6 L488.5 651.5 L487 651.4 L485.5 651.3 L484 651.2 L482.5 651 L481 651.4 L479.5 651.2 L478 651.2 L476.5 651.5 L475 651.9 L473.5 651.9 L472 651.8 L470.5 651.5 L469 651.5 L467.5 651.5 L466 651.3 L464.5 651.2 L463 651.5 L461.5 651.7 L460 652.1 L458.5 652.5 L457 652.8 L455.5 652.7 L454 653 L452.5 652.8 L451 652.7 L449.5 652.8 L448 652.4 L446.5 652.3 L445 652.3 L443.5 652.5 L442 652.7 L440.5 653 L439 653.1 L437.5 653.3 L436 653.5 L434.5 653.6 L433 653.5 L431.5 653.4 L430 653.7 L428.5 653.6 L427 653.4 L425.5 653.5 L424 653.5 L422.5 653.4 L421 653.6 L419.5 653.4 L418 653.4 L416.5 653.6 L415 653.7 L413.5 653.7 L412 653.9 L410.5 654.1 L409 654.1 L407.5 654.2 L406 654.2 L404.5 654.2 L403 654.2 L401.5 654.4 L400 654.8 L398.5 655 L397 655 L395.5 655 L394 654.8 L392.5 654.9 L391 654.7 L389.5 654.6 L388 654.8 L386.5 654.5 L385 654.3 L383.5 654.3 L382 654.2 L380.5 653.9 L379 654.3 L377.5 654 L376 654.2 L374.5 654.1 L373 654.1 L371.5 654.1 L370 654.3 L368.5 654 L367 654.1 L365.5 654 L364 654 L362.5 654.1 L361 654 L359.5 653.9 L358 653.9 L356.5 653.7 L355 653.7 L353.5 653.7 L352 653.7 L350.5 653.9 L349 653.8 L347.5 653.9 L346 654.1 L344.5 654.3 L343 654 L341.5 653.9 L340 654 L338.5 653.8 L337 653.8 L335.5 654 L334 654.2 L332.5 654.3 L331 654.6 L329.5 654.6 L328 654.6 L326.5 654.6 L325 654.5 L323.5 654.3 L322 654 L320.5 654.1 L319 654.2 L317.5 654 L316 653.9 L314.5 654.1 L313 654.3 L311.5 654.3 L310 654 L308.5 654 L307 654.1 L305.5 654.2 L304 654.4 L302.5 654.6 L301 654.5 L299.5 654.6 L298 654.7 L296.5 654.6 L295 654.3 L293.5 654.1 L292 653.9 L290.5 653.7 L289 653.5 L287.5 653.8 L286 653.6 L284.5 653.5 L283 653.8 L281.5 653.9 L280 653.8 L278.5 654 L277 653.9 L275.5 653.8 L274 654 L272.5 653.9 L271 654 L269.5 654.1 L268 653.8 L266.5 653.8 L265 653.9 L263.5 653.8 L262 653.7 L260.5 654 L259 654.1 L257.5 654.3 L256 654.1 L254.5 654.1 L253 654 L251.5 653.8 L250 653.5 L248.5 653.3 L247 653.3 L245.5 653.7 L244 653.5 L242.5 653.4 L241 653.6 L239.5 653.5 L238 653.5 L236.5 653.3 L235 653.1 L233.5 653.3 L232 653.4 L230.5 653.5 L229 653.6 L227.5 653.6 L226 653.8 L224.5 653.6 L223 653.7 L221.5 653.9 L220 653.8 L218.5 653.7 L217 653.5 L215.5 653.3 L214 653.2 L212.5 653.2 L211 653.1 L209.5 653.1 L208 653.3 L206.5 653.5 L205 653.6 L203.5 653.7 L202 653.7 L200.5 653.7 L199 653.6 L197.5 653.5 L196 653.4 L194.5 653.4 L193 653.3 L191.5 653 L190 653 L188.5 653 L187 653.2 L185.5 653.2 L184 653.2 L182.5 653.1 L181 652.9 L179.5 652.6 L178 652.8 L176.5 652.7 L175 652.9 L173.5 652.8 L172 652.7ZM409.1 641.5 L411.8 639 L414.2 639 L416.9 641.5 ZM444.8 639.2 L447.5 636.7 L449.9 636.7 L452.6 639.2 ZM490.9 639.2 L493.6 636.7 L496 636.7 L498.7 639.2 ZM529.6 639.2 L532.3 636.7 L534.7 636.7 L537.4 639.2 ZM570.1 625.8 L572.8 623.3 L575.2 623.3 L577.9 625.8 ZM577.1 625.8 L579.8 623.3 L582.2 623.3 L584.9 625.8 ZM610.1 620.5 L612.8 618 L615.2 618 L617.9 620.5 ZM624.9 630.3 L627.5 627.8 L630 627.8 L632.6 630.3 ZM645.7 608 L648.4 605.5 L650.8 605.5 L653.5 608 ZM654.6 620.5 L657.3 618 L659.7 618 L662.4 620.5 ZM694.1 595.5 L696.8 593 L699.2 593 L701.9 595.5 ZM720.7 596.1 L723.4 593.6 L725.8 593.6 L728.5 596.1 ZM740.1 536.7 L742.8 534.2 L745.2 534.2 L747.9 536.7 ZM767.1 607.5 L769.8 605 L772.2 605 L774.9 607.5 ZM793.1 588.2 L795.8 585.7 L798.2 585.7 L800.9 588.2 ZM862.6 586.1 L865.3 583.6 L867.7 583.6 L870.4 586.1 ZM886.1 604.5 L888.8 602 L891.2 602 L893.9 604.5 ZM914.1 596.5 L916.8 594 L919.2 594 L921.9 596.5 ZM929.1 585.2 L931.8 582.7 L934.2 582.7 L936.9 585.2 ZM980.1 595.5 L982.8 593 L985.2 593 L987.9 595.5 ZM992.1 586.5 L994.8 584 L997.2 584 L999.9 586.5 ZM1014.1 599.2 L1016.8 596.7 L1019.2 596.7 L1021.9 599.2 ZM1053.1 583.1 L1055.8 580.6 L1058.2 580.6 L1060.9 583.1 ZM1081.1 601.5 L1083.8 599 L1086.2 599 L1088.9 601.5 ZM1112.6 583.1 L1115.3 580.6 L1117.7 580.6 L1120.4 583.1 ZM1123.1 601.5 L1125.8 599 L1128.2 599 L1130.9 601.5 ZM1137.3 502.7 L1140 500.2 L1142.4 500.2 L1145.1 502.7 ZM1148.1 599.2 L1150.8 596.7 L1153.2 596.7 L1155.9 599.2 ZM1170.1 577.7 L1172.8 575.2 L1175.2 575.2 L1177.9 577.7 ZM1187.1 599.2 L1189.8 596.7 L1192.2 596.7 L1194.9 599.2 ZM1201.1 599.2 L1203.8 596.7 L1206.2 596.7 L1208.9 599.2 ZM1223.6 583.1 L1226.3 580.6 L1228.7 580.6 L1231.4 583.1 ZM1242.1 599.2 L1244.8 596.7 L1247.2 596.7 L1249.9 599.2 ZM1276.1 586.1 L1278.8 583.6 L1281.2 583.6 L1283.9 586.1 ZM1295.6 595.5 L1298.3 593 L1300.7 593 L1303.4 595.5 ZM1316.1 594.1 L1318.8 591.6 L1321.2 591.6 L1323.9 594.1 ZM1332.1 582 L1334.8 579.5 L1337.2 579.5 L1339.9 582 ZM1361.1 592.5 L1363.8 590 L1366.2 590 L1368.9 592.5 ZM1368.1 594.5 L1370.8 592 L1373.2 592 L1375.9 594.5 ZM1375.1 592.5 L1377.8 590 L1380.2 590 L1382.9 592.5 ZM1388.1 585 L1390.8 582.5 L1393.2 582.5 L1395.9 585 ZM1409.1 604.3 L1411.8 601.8 L1414.2 601.8 L1416.9 604.3 ZM1428.1 592.5 L1430.8 590 L1433.2 590 L1435.9 592.5 ZM1463.1 607.3 L1465.8 604.8 L1468.2 604.8 L1470.9 607.3 ZM1475.1 607.3 L1477.8 604.8 L1480.2 604.8 L1482.9 607.3 ZM1510.6 608.8 L1513.3 606.3 L1515.7 606.3 L1518.4 608.8 ZM1564.1 608.8 L1566.8 606.3 L1569.2 606.3 L1571.9 608.8 ZM1576.1 279.9 L1578.8 277.4 L1581.2 277.4 L1583.9 279.9 ZM1580.1 327.5 L1582.8 325 L1585.2 325 L1587.9 327.5 ZM1620.7 608.8 L1623.4 606.3 L1625.8 606.3 L1628.5 608.8 ZM1651.4 512.1 L1654.1 509.6 L1656.5 509.6 L1659.2 512.1 Z" fill="#9200f5"/>
<path d="M413 650.5 V641.2M448.7 648.9 V638.9M494.8 646.6 V638.9M533.5 643.6 V638.9M574 640.9 V625.5M581 640.5 V625.5M614 636.8 V620.2M628.8 634.9 V630M649.6 632.5 V607.7M658.5 631.6 V620.2M698 627.7 V595.2M724.6 625 V595.8M744 623.2 V536.4M771 622.2 V607.2M797 621.2 V587.9M866.5 617.7 V585.8M890 616.2 V604.2M918 614.5 V596.2M933 613.5 V584.9M984 611.4 V595.2M996 611 V586.2M1018 610.3 V598.9M1057 608.9 V582.8M1085 608 V601.2M1116.5 607 V582.8M1127 606.6 V601.2M1141.2 606.1 V502.4M1152 605.8 V598.9M1174 605 V577.4M1191 604.4 V598.9M1205 604 V598.9M1227.5 603.2 V582.8M1246 602.5 V598.9M1280 601.2 V585.8M1299.5 600.5 V595.2M1320 599.8 V593.8M1336 599.3 V581.7M1365 601.5 V592.2M1372 602.1 V594.2M1379 602.6 V592.2M1392 603.7 V584.7M1413 606.4 V604M1432 608.8 V592.2M1467 611.8 V607M1479 612.4 V607M1514.5 614.5 V608.5M1568 618.3 V608.5M1580 618.3 V279.6M1584 618.3 V327.2M1624.6 617.4 V608.5M1655.3 614.8 V511.8M574 623.8 H581M576.5 640.7 V623.8M579 640.6 V623.8M581 640.5 V623.8M649.6 618.5 H658.5M652.1 632.3 V618.5M654.6 632 V618.5M657.1 631.8 V618.5M658.5 631.6 V618.5M1365 592.5 H1372M1367.5 601.7 V592.5M1370 601.9 V592.5M1372 602.1 V592.5M1372 592.5 H1379M1374.5 602.2 V592.5M1377 602.4 V592.5M1379 602.6 V592.5M1580 325.5 H1584M1582.5 618.3 V325.5M1584 618.3 V325.5" fill="none" stroke="#9200f5" stroke-width="7.8" stroke-linecap="butt"/>
<path d="M172 897.1 L173.5 897.1 L175 896.9 L176.5 897 L178 897 L179.5 896.8 L181 896.7 L182.5 897 L184 897.1 L185.5 897.1 L187 897.2 L188.5 897.1 L190 897.6 L191.5 897.4 L193 897.6 L194.5 897.7 L196 897.3 L197.5 897.1 L199 897.1 L200.5 897.2 L202 896.9 L203.5 896.8 L205 896.9 L206.5 896.6 L208 896.9 L209.5 897.3 L211 897.6 L212.5 897.1 L214 897.4 L215.5 897.3 L217 897.5 L218.5 897.6 L220 897.8 L221.5 897.6 L223 897.4 L224.5 897.1 L226 897.2 L227.5 897.3 L229 897.3 L230.5 897.3 L232 897.1 L233.5 897.6 L235 897.6 L236.5 897.3 L238 897.6 L239.5 897.7 L241 898 L242.5 898.1 L244 897.7 L245.5 897.5 L247 897.7 L248.5 897.9 L250 897.8 L251.5 897.6 L253 897.7 L254.5 897.5 L256 897.5 L257.5 897.3 L259 897.3 L260.5 897.1 L262 896.8 L263.5 897.4 L265 897.6 L266.5 897.6 L268 897.7 L269.5 897.5 L271 897.2 L272.5 897.4 L274 897.9 L275.5 898 L277 897.9 L278.5 897.6 L280 897.6 L281.5 897.8 L283 897.7 L284.5 897.5 L286 897.6 L287.5 897.4 L289 897.9 L290.5 897.5 L292 897.8 L293.5 897.9 L295 898.1 L296.5 897.9 L298 898.2 L299.5 897.5 L301 897.9 L302.5 898 L304 897.8 L305.5 898.2 L307 898 L308.5 897.8 L310 897.8 L311.5 897.9 L313 897.2 L314.5 897.1 L316 897.2 L317.5 897.7 L319 897.8 L320.5 897.8 L322 897.9 L323.5 898.1 L325 898.2 L326.5 898 L328 897.4 L329.5 897.8 L331 898 L332.5 898 L334 897.7 L335.5 897.8 L337 898 L338.5 898.2 L340 898.4 L341.5 898.5 L343 898.3 L344.5 898 L346 898.3 L347.5 897.8 L349 897.5 L350.5 897.3 L352 897.3 L353.5 897.5 L355 897.7 L356.5 897.7 L358 897.7 L359.5 897.6 L361 897.9 L362.5 897.9 L364 897.7 L365.5 897.6 L367 897.7 L368.5 897.9 L370 897.7 L371.5 897.4 L373 897.6 L374.5 897.9 L376 897.8 L377.5 897.7 L379 898.2 L380.5 898.4 L382 898.2 L383.5 898.3 L385 898 L386.5 898 L388 898.4 L389.5 898.1 L391 898.3 L392.5 898.1 L394 897.7 L395.5 897.9 L397 897.8 L398.5 898 L400 897.7 L401.5 897.8 L403 897.7 L404.5 897.9 L406 897.8 L407.5 897.7 L409 897.6 L410.5 898.3 L412 898.3 L413.5 898.6 L415 898.5 L416.5 898.3 L418 898 L419.5 898.2 L421 897.7 L422.5 897.2 L424 897.3 L425.5 897.3 L427 897.1 L428.5 896.9 L430 896.9 L431.5 897 L433 897.3 L434.5 897.3 L436 897.1 L437.5 897.2 L439 897.2 L440.5 897.4 L442 897.4 L443.5 897.2 L445 897 L446.5 896.9 L448 896.6 L449.5 896.7 L451 896.7 L452.5 896.7 L454 896.3 L455.5 896.1 L457 896.3 L458.5 896.5 L460 896 L461.5 896.2 L463 896.5 L464.5 896.5 L466 896.1 L467.5 896 L469 896.4 L470.5 896.3 L472 895.9 L473.5 895.4 L475 895.5 L476.5 895.7 L478 895.7 L479.5 895.3 L481 895 L482.5 894.6 L484 895.1 L485.5 895.1 L487 894.6 L488.5 894.5 L490 894.6 L491.5 894.3 L493 894.1 L494.5 893.4 L496 893.1 L497.5 894 L499 894.1 L500.5 893.7 L502 893.3 L503.5 893.4 L505 893.9 L506.5 893.7 L508 892.7 L509.5 892.2 L511 892.9 L512.5 892.4 L514 892 L515.5 891 L517 890.9 L518.5 890.9 L520 891.2 L521.5 891.8 L523 891.4 L524.5 890 L526 889.6 L527.5 890 L529 890.5 L530.5 889.9 L532 889.4 L533.5 889.6 L535 889.6 L536.5 888.9 L538 887.6 L539.5 888.5 L541 889.2 L542.5 887.7 L544 887.3 L545.5 888.2 L547 888.7 L548.5 887.6 L550 888 L551.5 887.8 L553 886.6 L554.5 887.3 L556 886.7 L557.5 886.2 L559 885.9 L560.5 886.4 L562 886.4 L563.5 885.7 L565 885.3 L566.5 886.6 L568 885.9 L569.5 885.5 L571 884.3 L572.5 884.4 L574 884.4 L575.5 884.5 L577 883.6 L578.5 884 L580 882.7 L581.5 882 L583 882 L584.5 882.7 L586 882.9 L587.5 881.6 L589 881.5 L590.5 881.8 L592 883.4 L593.5 882.3 L595 880.1 L596.5 879.3 L598 880 L599.5 880.7 L601 880.9 L602.5 880.2 L604 879.2 L605.5 880.7 L607 879.8 L608.5 879.1 L610 877.6 L611.5 878.3 L613 878.9 L614.5 879.7 L616 878.4 L617.5 876.5 L619 876.8 L620.5 878.7 L622 879.4 L623.5 878.5 L625 875.8 L626.5 876.8 L628 878.6 L629.5 878.6 L631 877.1 L632.5 876.7 L634 877.3 L635.5 877.7 L637 877.5 L638.5 877.6 L640 876 L641.5 874.4 L643 875.1 L644.5 876.8 L646 876.8 L647.5 875.8 L649 875 L650.5 874 L652 874.6 L653.5 874.2 L655 872.2 L656.5 871.7 L658 873 L659.5 873.9 L661 873.9 L662.5 874.2 L664 872.3 L665.5 871.9 L667 873.1 L668.5 872.6 L670 872.6 L671.5 872.3 L673 871.9 L674.5 872.5 L676 872.6 L677.5 872.5 L679 872 L680.5 870.9 L682 870.3 L683.5 869.8 L685 868.7 L686.5 868.9 L688 870.3 L689.5 868.1 L691 869.8 L692.5 869.6 L694 869.2 L695.5 869.1 L697 869.2 L698.5 869.2 L700 868.9 L701.5 867 L703 866.6 L704.5 867 L706 868 L707.5 868.3 L709 867.1 L710.5 865.2 L712 865.1 L713.5 866.9 L715 867 L716.5 865.3 L718 862.7 L719.5 864 L721 865.4 L722.5 865.7 L724 864.1 L725.5 862.6 L727 862.3 L728.5 862.9 L730 863.7 L731.5 863.3 L733 862 L734.5 861.1 L736 860.6 L737.5 861.3 L739 862 L740.5 860.6 L742 858.4 L743.5 857.7 L745 859 L746.5 860.2 L748 859.6 L749.5 858.6 L751 859.3 L752.5 859.8 L754 860.1 L755.5 859.6 L757 858.8 L758.5 859.4 L760 859.3 L761.5 859.5 L763 857.8 L764.5 856.6 L766 857 L767.5 858 L769 858.8 L770.5 857.4 L772 856.9 L773.5 855.8 L775 856.4 L776.5 857.6 L778 858.7 L779.5 858.7 L781 858.8 L782.5 858.3 L784 857.8 L785.5 858.2 L787 858.1 L788.5 858.5 L790 857.1 L791.5 855.4 L793 855.7 L794.5 857.3 L796 856.9 L797.5 857.2 L799 856.6 L800.5 856 L802 856.5 L803.5 855 L805 854.8 L806.5 854.6 L808 855.1 L809.5 855.3 L811 855.1 L812.5 855.1 L814 855.7 L815.5 855.2 L817 854.8 L818.5 853.1 L820 853.8 L821.5 855 L823 854.5 L824.5 853.4 L826 852.5 L827.5 852.7 L829 854.3 L830.5 854.2 L832 854.1 L833.5 854.8 L835 854.1 L836.5 852.5 L838 852.8 L839.5 853.6 L841 853.1 L842.5 853 L844 851.7 L845.5 850.6 L847 851.6 L848.5 852.9 L850 853.4 L851.5 852.5 L853 852.8 L854.5 853.5 L856 853.5 L857.5 852.1 L859 852.3 L860.5 853.1 L862 853.5 L863.5 852.5 L865 850.9 L866.5 851.1 L868 849.8 L869.5 850 L871 850.2 L872.5 849.4 L874 848.7 L875.5 849.3 L877 849.8 L878.5 849.5 L880 848.3 L881.5 849.3 L883 851.2 L884.5 851.1 L886 851.1 L887.5 850.1 L889 850.1 L890.5 850 L892 849 L893.5 849.4 L895 848.6 L896.5 848.5 L898 849.8 L899.5 850.6 L901 850.2 L902.5 850.3 L904 849.2 L905.5 850.3 L907 850.4 L908.5 850.9 L910 850.9 L911.5 849.8 L913 849.7 L914.5 848.7 L916 849.3 L917.5 848.2 L919 848 L920.5 849.3 L922 848.9 L923.5 849.2 L925 847.8 L926.5 848 L928 847.7 L929.5 846.2 L931 847.5 L932.5 849.2 L934 848.8 L935.5 847.6 L937 846.5 L938.5 846.8 L940 848.4 L941.5 849.4 L943 849.4 L944.5 848.1 L946 847.7 L947.5 847.5 L949 848 L950.5 847.8 L952 847.6 L953.5 847 L955 847.8 L956.5 847.4 L958 847.4 L959.5 846.2 L961 846.1 L962.5 846.9 L964 847.3 L965.5 847.4 L967 847.8 L968.5 846.5 L970 846.2 L971.5 846 L973 847.2 L974.5 846.1 L976 846.6 L977.5 846.9 L979 847.2 L980.5 846.6 L982 845.4 L983.5 844.9 L985 845.7 L986.5 846.3 L988 845.8 L989.5 847.3 L991 847.1 L992.5 846.9 L994 846.9 L995.5 846.8 L997 845.9 L998.5 846 L1000 846.6 L1001.5 846.9 L1003 845.7 L1004.5 845.3 L1006 846.1 L1007.5 846.9 L1009 847.7 L1010.5 847.8 L1012 845.5 L1013.5 844.8 L1015 845.6 L1016.5 846.9 L1018 847.1 L1019.5 847.1 L1021 846.3 L1022.5 845.4 L1024 845.4 L1025.5 845.6 L1027 844.9 L1028.5 844 L1030 843.8 L1031.5 844.8 L1033 844.9 L1034.5 843.9 L1036 843.9 L1037.5 844.1 L1039 845.6 L1040.5 844.8 L1042 844.2 L1043.5 845.1 L1045 846 L1046.5 846.8 L1048 845.5 L1049.5 844.4 L1051 845.6 L1052.5 845.3 L1054 844.4 L1055.5 843.4 L1057 844.3 L1058.5 844.8 L1060 844.4 L1061.5 845.2 L1063 845 L1064.5 845.7 L1066 845.4 L1067.5 844.2 L1069 843.8 L1070.5 844.3 L1072 845 L1073.5 845.4 L1075 844.6 L1076.5 844.3 L1078 843.2 L1079.5 844.4 L1081 843.9 L1082.5 844.9 L1084 843.9 L1085.5 844.1 L1087 843.1 L1088.5 843.9 L1090 844.5 L1091.5 844.7 L1093 844.2 L1094.5 843.4 L1096 844.3 L1097.5 844.3 L1099 843.7 L1100.5 843.1 L1102 842.3 L1103.5 842.5 L1105 843.3 L1106.5 843.1 L1108 843.1 L1109.5 842.6 L1111 842.1 L1112.5 843.3 L1114 842.5 L1115.5 842.8 L1117 842.4 L1118.5 842 L1120 841.9 L1121.5 842.5 L1123 842.9 L1124.5 841.6 L1126 841.6 L1127.5 842.9 L1129 842.9 L1130.5 842 L1132 843.1 L1133.5 842.9 L1135 843.2 L1136.5 842.4 L1138 841.6 L1139.5 842.3 L1141 843.4 L1142.5 842.9 L1144 842.5 L1145.5 841.8 L1147 842.6 L1148.5 842.5 L1150 840.4 L1151.5 841.9 L1153 842.9 L1154.5 841.9 L1156 842.1 L1157.5 842.1 L1159 841.1 L1160.5 841.3 L1162 842.3 L1163.5 843.1 L1165 842.7 L1166.5 841.8 L1168 841.1 L1169.5 841 L1171 842.1 L1172.5 841 L1174 838.7 L1175.5 840.2 L1177 840.9 L1178.5 841.2 L1180 839.8 L1181.5 838.6 L1183 840.5 L1184.5 841.6 L1186 841 L1187.5 840.5 L1189 840.8 L1190.5 841.6 L1192 841.3 L1193.5 838.8 L1195 837.3 L1196.5 839.1 L1198 840.8 L1199.5 841.2 L1201 840.3 L1202.5 840 L1204 839.8 L1205.5 841.2 L1207 841.5 L1208.5 841.5 L1210 841 L1211.5 840.1 L1213 840 L1214.5 840.8 L1216 841 L1217.5 838.7 L1219 838.2 L1220.5 840.3 L1222 839.7 L1223.5 839 L1225 837.9 L1226.5 839.1 L1228 838.9 L1229.5 838.1 L1231 837.2 L1232.5 835.7 L1234 836.8 L1235.5 837.2 L1237 838.3 L1238.5 837.3 L1240 836.5 L1241.5 837.9 L1243 837.8 L1244.5 837.3 L1246 836.7 L1247.5 837.9 L1249 838.5 L1250.5 838.7 L1252 839.2 L1253.5 837.2 L1255 837 L1256.5 836.7 L1258 837.7 L1259.5 839.2 L1261 838.3 L1262.5 836.8 L1264 836.6 L1265.5 836.9 L1267 837.7 L1268.5 835.7 L1270 834.2 L1271.5 834.4 L1273 835.5 L1274.5 836.9 L1276 836.4 L1277.5 834.9 L1279 836.1 L1280.5 837.1 L1282 837.1 L1283.5 835.8 L1285 837.2 L1286.5 837.3 L1288 837.8 L1289.5 836.1 L1291 835 L1292.5 836.4 L1294 836.5 L1295.5 837.1 L1297 834.8 L1298.5 833 L1300 834.6 L1301.5 836.2 L1303 836.5 L1304.5 835.3 L1306 834.3 L1307.5 835.8 L1309 835.8 L1310.5 835.4 L1312 834 L1313.5 832.6 L1315 833.7 L1316.5 834.4 L1318 834.9 L1319.5 834.8 L1321 835.8 L1322.5 835.3 L1324 834.9 L1325.5 834.1 L1327 834.4 L1328.5 832.9 L1330 834.2 L1331.5 834.2 L1333 833.2 L1334.5 831.3 L1336 833.6 L1337.5 834.7 L1339 835.2 L1340.5 835.2 L1342 834.3 L1343.5 835.6 L1345 836.5 L1346.5 836.3 L1348 835.1 L1349.5 835.2 L1351 836.1 L1352.5 835.7 L1354 836.9 L1355.5 837.1 L1357 836.5 L1358.5 836.8 L1360 838.2 L1361.5 838.6 L1363 838.5 L1364.5 838.8 L1366 839.3 L1367.5 839.9 L1369 841.2 L1370.5 841.1 L1372 840.9 L1373.5 840.6 L1375 841.6 L1376.5 842.1 L1378 842.8 L1379.5 842.1 L1381 841.5 L1382.5 842.5 L1384 842.7 L1385.5 841.3 L1387 842.4 L1388.5 843.9 L1390 843.9 L1391.5 844.4 L1393 843.8 L1394.5 844.5 L1396 845.1 L1397.5 845.3 L1399 844.4 L1400.5 843.1 L1402 843.5 L1403.5 844.9 L1405 845.7 L1406.5 845.7 L1408 845.8 L1409.5 845.4 L1411 845.6 L1412.5 846.7 L1414 847.7 L1415.5 845.4 L1417 846.5 L1418.5 847.8 L1420 846.8 L1421.5 846.9 L1423 848.1 L1424.5 848.7 L1426 848.1 L1427.5 847 L1429 846.8 L1430.5 847.1 L1432 848.2 L1433.5 847 L1435 846.8 L1436.5 847.9 L1438 849.3 L1439.5 850.2 L1441 849.2 L1442.5 848 L1444 849.2 L1445.5 850.8 L1447 850.9 L1448.5 849.7 L1450 849.5 L1451.5 851.6 L1453 851.9 L1454.5 852.4 L1456 851.4 L1457.5 852.1 L1459 853 L1460.5 853.4 L1462 853.6 L1463.5 852.9 L1465 852.4 L1466.5 852.7 L1468 852.6 L1469.5 852.8 L1471 852.4 L1472.5 852.8 L1474 851.6 L1475.5 852.2 L1477 852.9 L1478.5 854.8 L1480 854.5 L1481.5 852.5 L1483 853.6 L1484.5 854.5 L1486 854.1 L1487.5 854.2 L1489 855.1 L1490.5 855.7 L1492 856 L1493.5 855.4 L1495 854 L1496.5 854.5 L1498 854.4 L1499.5 855.4 L1501 853.8 L1502.5 853.2 L1504 855.1 L1505.5 855.9 L1507 856.3 L1508.5 855.3 L1510 855.6 L1511.5 856.1 L1513 855.8 L1514.5 855.5 L1516 855.8 L1517.5 856.5 L1519 855.7 L1520.5 855.8 L1522 857.3 L1523.5 857.5 L1525 858.4 L1526.5 859 L1528 858.7 L1529.5 859.5 L1531 859.3 L1532.5 858.7 L1534 858.2 L1535.5 859 L1537 858.5 L1538.5 858.5 L1540 859.2 L1541.5 859.8 L1543 860.1 L1544.5 860.6 L1546 859.8 L1547.5 860.5 L1549 860.6 L1550.5 860.6 L1552 860.1 L1553.5 860.5 L1555 861.1 L1556.5 861 L1558 860.7 L1559.5 861.2 L1561 861.5 L1562.5 862.1 L1564 861.8 L1565.5 861.2 L1567 862 L1568.5 862.1 L1570 861.5 L1571.5 861.9 L1573 862.6 L1574.5 862.4 L1576 862.3 L1577.5 861.5 L1579 861 L1580.5 861.3 L1582 861.8 L1583.5 862.5 L1585 862.6 L1586.5 862.2 L1588 862.2 L1589.5 862.2 L1591 862.5 L1592.5 862.9 L1594 862.8 L1595.5 862.7 L1597 862.8 L1598.5 862.4 L1600 862.7 L1601.5 863 L1603 862.6 L1604.5 862.6 L1606 862.3 L1607.5 862.3 L1609 862.3 L1610.5 862.6 L1612 862.9 L1613.5 862.5 L1615 861.8 L1616.5 861.7 L1618 862.3 L1619.5 862.3 L1621 862.5 L1622.5 862.3 L1624 862.5 L1625.5 862.7 L1627 863 L1628.5 862.6 L1630 861.9 L1631.5 862.6 L1633 863 L1634.5 863.1 L1636 862.9 L1637.5 862.8 L1639 862.4 L1640.5 862.4 L1642 862.3 L1643.5 862 L1645 861.9 L1646.5 862.3 L1648 862.2 L1649.5 862 L1651 862.3 L1652.5 862.3 L1654 862.5 L1655.5 862.2 L1657 862 L1658.5 862.2 L1660 862.3 L1661.5 862 L1663 861.7 L1664.5 861.7 L1666 861.6 L1667.5 861.7 L1669 861.7 L1670.5 861.5 L1672 861 L1673.5 860.6 L1675 860.9 L1676.5 861 L1678 860.6 L1679.5 860 L1681 859.7 L1682.5 859.6 L1684 859.6 L1685.5 859.6 L1687 859.1 L1688.5 858.8 L1690 858.9 L1691.5 859 L1693 858.6 L1694.5 858.5 L1696 858.4 L1697.5 858.1 L1699 857.8 L1700.5 857.5 L1702 857.2 L1703.5 857 L1705 857 L1706.5 856.7 L1708 856.7 L1709.5 856.1 L1711 855.8 L1712.5 855.7 L1714 855.7 L1715.5 855.4 L1717 855.3 L1718.5 855.1 L1720 854.9 L1721.5 854.7 L1723 854.7 L1724.5 854.7 L1726 854.6 L1727.5 854.3 L1729 854.2 L1730.5 854.4 L1732 854.4 L1733.5 854.5 L1735 854.2 L1736.5 853.8 L1738 853.6 L1739.5 853.5 L1741 853.2 L1742.5 853 L1744 853 L1745.5 852.7 L1747 852.7 L1748.5 852.9 L1750 852.6 L1751.5 852.2 L1753 852.2 L1754.5 852.1 L1756 852.3 L1757.5 852 L1759 851.6 L1760.5 851.7 L1762 851.5 L1763.5 851.6 L1765 851.3 L1766.5 851.5 L1768 851.6 L1769.5 851.4 L1771 851.1 L1772.5 851.5 L1774 851.5 L1775.5 851.2 L1777 851.1 L1778.5 851.3 L1780 851.4 L1781.5 851.1 L1783 850.9 L1784.5 851.4 L1786 851.5 L1787.5 851.4 L1789 851.5 L1790.5 851.3 L1792 851.4 L1793.5 851.4 L1795 851.5 L1796.5 851.4 L1798 851.6 L1799.5 851.6 L1801 851.6 L1802.5 851.7 L1804 851.8 L1805.5 851.9 L1807 852.2 L1808.5 852.2 L1810 852.1 L1811.5 852.3 L1813 852.4 L1814.5 852.4 L1816 852.6 L1817.5 852.4 L1819 852.6 L1820.5 852.8 L1822 852.8 L1823.5 852.9 L1825 853 L1826.5 853 L1828 852.9 L1829.5 853 L1831 853.5 L1832.5 853.4 L1834 853.6 L1835.5 853.5 L1837 853.6 L1838.5 853.7 L1840 854 L1841.5 854.1 L1843 854.1 L1844.5 853.9 L1846 854 L1847.5 854.2 L1849 853.9 L1850.5 853.8 L1852 854.1 L1853.5 854.2 L1855 854.2 L1856.5 854.3 L1858 854.2 L1859.5 854.2 L1861 854.4 L1862.5 854.5 L1864 854.5 L1865.5 854.3 L1867 854.2 L1868.5 854.6 L1870 854.9 L1871.5 854.9 L1873 854.7 L1874.5 854.9 L1876 854.9 L1877.5 854.9 L1879 854.8 L1880.5 854.6 L1882 854.6 L1883.5 854.6 L1885 854.8 L1886.5 855.2 L1888 855.5 L1889.5 855.2 L1891 855 L1892.5 855.2 L1894 855.4 L1895.5 855.4 L1897 855.3 L1898.5 855.4 L1900 855.7 L1901.5 855.7 L1903 855.8 L1904.5 855.8 L1906 856.2 L1907.5 856.1 L1909 856.1 L1910.5 856.1 L1912 856 L1913.5 856.2 L1915 856.3 L1916.5 856.3 L1918 856.2 L1919.5 856.2 L1921 856.5 L1922.5 856.7 L1924 856.8 L1925.5 856.7 L1927 856.5 L1928.5 856.6 L1930 856.7 L1931.5 856.5 L1933 856.4 L1934.5 856.6 L1936 856.8 L1937.5 857 L1939 856.8 L1940.5 856.6 L1942 856.4 L1943.5 856.5 L1945 856.8 L1946.5 856.8 L1948 856.7 L1949.5 856.6 L1951 856.6 L1952.5 856.7 L1954 856.6 L1955.5 856.6 L1957 856.9 L1958.5 856.9 L1960 856.7 L1961.5 856.5 L1963 856.3 L1964.5 856.6 L1966 856.8 L1967.5 856.5 L1969 856.6 L1970.5 856.7 L1972 856.8 L1973.5 856.9 L1975 856.7 L1976.5 856.5 L1978 856.4 L1979.5 856.6 L1981 856.7 L1982.5 856.8 L1984 856.9 L1985.5 857 L1987 856.8 L1988.5 856.8 L1990 856.8 L1991.5 856.8 L1993 856.5 L1994.5 856.5 L1996 856.7 L1997.5 856.8 L1999 856.8 L2000.5 856.9 L2002 856.7 L2003.5 856.7 L2005 856.9 L2006.5 857 L2008 856.8 L2009.5 856.7 L2011 856.7 L2012.5 856.9 L2014 856.9 L2015.5 856.7 L2017 856.8 L2018.5 857 L2020 857.4 L2021.5 857.1 L2023 857 L2024.5 857.1 L2026 857.2 L2027.5 856.8 L2029 857.1 L2030.5 857.1 L2032 857.1 L2033.5 856.9 L2035 856.8 L2036.5 856.8 L2038 856.8 L2039.5 856.4 L2041 856.7 L2042.5 856.9 L2044 856.8 L2045.5 856.9 L2047 856.8 L2048.5 857.1 L2050 857.1 L2051.5 856.8 L2053 856.8 L2054.5 857 L2056 857 L2057.5 857.2 L2059 857 L2060.5 856.8 L2062 857 L2063.5 856.8 L2065 856.9 L2066.5 856.9 L2068 856.7 L2069.5 856.7 L2071 856.8 L2072.5 856.9 L2074 857.2 L2075.5 857.1 L2077 857.2 L2078.5 857.2 L2080 857.2 L2081.5 857.2 L2083 857.4 L2084.5 857.2 L2086 856.9 L2087.5 856.8 L2089 856.9 L2090.5 857.1 L2092 857.1 L2093.5 857 L2095 857 L2096.5 856.7 L2098 857.1 L2099.5 857.2 L2101 857.2 L2102.5 857.2 L2104 856.9 L2105.5 856.8 L2107 856.9 L2108.5 857 L2110 857 L2111.5 857.1 L2113 857 L2114.5 857 L2116 856.9 L2117.5 856.9 L2119 857.1 L2120.5 857.3 L2122 857.1 L2123.5 856.9 L2125 857.1 L2126.5 857.2 L2128 857.1 L2129.5 856.9 L2131 856.7 L2132.5 856.7 L2134 857 L2135.5 857.1 L2137 857.1 L2138.5 857.3 L2140 857.2 L2141.5 857.2 L2143 857.4 L2144.5 857.6 L2146 857.5 L2147.5 857.3 L2149 857.2 L2150.5 857.4 L2152 857.6 L2153.5 857.5 L2155 857.3 L2156.5 857.8 L2158 857.8 L2159.5 857.8 L2161 857.7 L2162.5 857.4 L2164 857.4 L2165.5 857.4 L2167 857.3 L2168.5 857.3 L2170 857.1 L2171.5 856.9 L2173 856.9 L2173 864.1 L2171.5 864.2 L2170 864.3 L2168.5 864.3 L2167 864.3 L2165.5 864.5 L2164 864.7 L2162.5 864.7 L2161 864.7 L2159.5 864.7 L2158 864.7 L2156.5 864.6 L2155 864.5 L2153.5 864.5 L2152 864.4 L2150.5 864.4 L2149 864.3 L2147.5 864.3 L2146 864.3 L2144.5 864.3 L2143 864.3 L2141.5 864.3 L2140 864.3 L2138.5 864.3 L2137 864.1 L2135.5 864 L2134 864 L2132.5 864.1 L2131 864.1 L2129.5 864.1 L2128 864.1 L2126.5 864.1 L2125 864.2 L2123.5 864.3 L2122 864.3 L2120.5 864.4 L2119 864.3 L2117.5 864.2 L2116 864.3 L2114.5 864.2 L2113 864.1 L2111.5 864 L2110 864.2 L2108.5 864.2 L2107 864.2 L2105.5 864.2 L2104 864.3 L2102.5 864.4 L2101 864.3 L2099.5 864.3 L2098 864.2 L2096.5 864.1 L2095 864 L2093.5 863.9 L2092 864 L2090.5 864.1 L2089 864.1 L2087.5 864.3 L2086 864.4 L2084.5 864.4 L2083 864.5 L2081.5 864.4 L2080 864.3 L2078.5 864.3 L2077 864.3 L2075.5 864.2 L2074 864.2 L2072.5 863.9 L2071 864 L2069.5 864.1 L2068 864.1 L2066.5 864.1 L2065 864.2 L2063.5 864.1 L2062 864.2 L2060.5 864 L2059 864.1 L2057.5 864.3 L2056 864.1 L2054.5 864.1 L2053 864.2 L2051.5 864.1 L2050 864.2 L2048.5 864.2 L2047 864 L2045.5 864.1 L2044 863.9 L2042.5 863.8 L2041 863.9 L2039.5 863.8 L2038 863.9 L2036.5 864 L2035 863.9 L2033.5 864.1 L2032 864.2 L2030.5 864.2 L2029 864.5 L2027.5 864.5 L2026 864.6 L2024.5 864.5 L2023 864.4 L2021.5 864.3 L2020 864.2 L2018.5 864.1 L2017 864.1 L2015.5 864.1 L2014 864.1 L2012.5 864.1 L2011 864 L2009.5 864 L2008 864.1 L2006.5 864.3 L2005 864.1 L2003.5 864.2 L2002 864.1 L2000.5 864.1 L1999 864 L1997.5 864 L1996 863.9 L1994.5 864 L1993 863.9 L1991.5 864 L1990 863.9 L1988.5 864.1 L1987 864 L1985.5 863.9 L1984 864 L1982.5 864 L1981 863.9 L1979.5 863.9 L1978 864 L1976.5 863.9 L1975 864 L1973.5 864 L1972 863.8 L1970.5 864 L1969 863.8 L1967.5 863.7 L1966 863.8 L1964.5 863.9 L1963 863.9 L1961.5 864 L1960 863.8 L1958.5 863.9 L1957 864 L1955.5 863.9 L1954 863.9 L1952.5 863.9 L1951 863.9 L1949.5 864 L1948 864 L1946.5 863.9 L1945 863.9 L1943.5 863.9 L1942 864 L1940.5 863.9 L1939 863.9 L1937.5 864.1 L1936 864 L1934.5 863.9 L1933 863.8 L1931.5 863.8 L1930 863.9 L1928.5 863.9 L1927 863.7 L1925.5 863.8 L1924 864 L1922.5 863.9 L1921 863.8 L1919.5 863.7 L1918 863.7 L1916.5 863.4 L1915 863.3 L1913.5 863.3 L1912 863.2 L1910.5 863.2 L1909 863.3 L1907.5 863.4 L1906 863.3 L1904.5 863.1 L1903 863.1 L1901.5 863 L1900 862.8 L1898.5 862.8 L1897 862.8 L1895.5 862.8 L1894 862.7 L1892.5 862.6 L1891 862.4 L1889.5 862.4 L1888 862.4 L1886.5 862.1 L1885 861.9 L1883.5 862 L1882 861.9 L1880.5 862 L1879 862 L1877.5 862 L1876 862.1 L1874.5 862.1 L1873 862.1 L1871.5 862.2 L1870 861.9 L1868.5 861.8 L1867 861.7 L1865.5 861.8 L1864 861.7 L1862.5 861.7 L1861 861.4 L1859.5 861.4 L1858 861.6 L1856.5 861.4 L1855 861.4 L1853.5 861.4 L1852 861.3 L1850.5 861.2 L1849 861.3 L1847.5 861.3 L1846 861.5 L1844.5 861.4 L1843 861.4 L1841.5 861.3 L1840 861.4 L1838.5 861.2 L1837 861 L1835.5 861 L1834 860.8 L1832.5 860.6 L1831 860.7 L1829.5 860.6 L1828 860.5 L1826.5 860.4 L1825 860.2 L1823.5 860.1 L1822 860 L1820.5 859.9 L1819 859.8 L1817.5 859.7 L1816 859.8 L1814.5 859.9 L1813 859.8 L1811.5 859.7 L1810 859.5 L1808.5 859.4 L1807 859.4 L1805.5 859.1 L1804 859 L1802.5 858.9 L1801 858.9 L1799.5 858.7 L1798 858.7 L1796.5 858.7 L1795 858.6 L1793.5 858.5 L1792 858.7 L1790.5 858.7 L1789 858.8 L1787.5 858.7 L1786 858.8 L1784.5 858.7 L1783 858.6 L1781.5 858.7 L1780 858.6 L1778.5 858.5 L1777 858.7 L1775.5 858.7 L1774 858.7 L1772.5 859 L1771 858.7 L1769.5 858.8 L1768 858.8 L1766.5 858.6 L1765 858.5 L1763.5 858.7 L1762 858.6 L1760.5 858.7 L1759 858.9 L1757.5 859.3 L1756 859.4 L1754.5 859.5 L1753 859.6 L1751.5 859.7 L1750 859.8 L1748.5 860.1 L1747 860 L1745.5 860.1 L1744 860.4 L1742.5 860.5 L1741 860.6 L1739.5 860.8 L1738 860.8 L1736.5 861.1 L1735 861.6 L1733.5 861.8 L1732 861.7 L1730.5 861.9 L1729 861.9 L1727.5 862 L1726 862 L1724.5 862.1 L1723 862.2 L1721.5 862.3 L1720 862.3 L1718.5 862.5 L1717 862.7 L1715.5 862.8 L1714 863.1 L1712.5 863.2 L1711 863.4 L1709.5 863.7 L1708 863.9 L1706.5 864 L1705 864.2 L1703.5 864.5 L1702 864.7 L1700.5 865 L1699 865.3 L1697.5 865.5 L1696 865.8 L1694.5 866.1 L1693 866.2 L1691.5 866.4 L1690 866.4 L1688.5 866.5 L1687 866.7 L1685.5 867.1 L1684 867.3 L1682.5 867.6 L1681 867.6 L1679.5 867.7 L1678 867.9 L1676.5 868.3 L1675 868.3 L1673.5 868.6 L1672 868.7 L1670.5 868.9 L1669 868.9 L1667.5 869 L1666 869 L1664.5 869.1 L1663 869.3 L1661.5 869.3 L1660 869.4 L1658.5 869.5 L1657 869.5 L1655.5 869.5 L1654 869.7 L1652.5 869.8 L1651 869.8 L1649.5 869.7 L1648 869.6 L1646.5 869.8 L1645 869.7 L1643.5 869.8 L1642 869.8 L1640.5 869.9 L1639 869.9 L1637.5 870 L1636 870.2 L1634.5 870.4 L1633 870.2 L1631.5 870 L1630 870.1 L1628.5 870.4 L1627 870.2 L1625.5 870.3 L1624 870.2 L1622.5 870.1 L1621 870.2 L1619.5 870 L1618 869.7 L1616.5 869.9 L1615 870 L1613.5 870.2 L1612 870.4 L1610.5 870.2 L1609 870.2 L1607.5 870.4 L1606 870.6 L1604.5 870.4 L1603 870.4 L1601.5 870.5 L1600 870.6 L1598.5 870.6 L1597 870.7 L1595.5 870.6 L1594 870.6 L1592.5 870.7 L1591 870.5 L1589.5 870.5 L1588 870.5 L1586.5 870.2 L1585 870.1 L1583.5 869.9 L1582 869.7 L1580.5 869.8 L1579 869.7 L1577.5 869.5 L1576 869.7 L1574.5 870 L1573 870.1 L1571.5 870 L1570 870.1 L1568.5 870 L1567 869.9 L1565.5 869.9 L1564 869.9 L1562.5 869.6 L1561 869.7 L1559.5 869.8 L1558 869.6 L1556.5 869.6 L1555 869.4 L1553.5 869.3 L1552 869.1 L1550.5 869 L1549 868.7 L1547.5 868.8 L1546 868.5 L1544.5 868.6 L1543 868.7 L1541.5 868.5 L1540 868.6 L1538.5 868.9 L1537 868.7 L1535.5 868.6 L1534 868.5 L1532.5 868.4 L1531 868.3 L1529.5 868.6 L1528 868.3 L1526.5 868.6 L1525 868.2 L1523.5 868 L1522 867.3 L1520.5 867.3 L1519 866.6 L1517.5 866.8 L1516 866.6 L1514.5 866.7 L1513 866.5 L1511.5 866.4 L1510 866 L1508.5 865.8 L1507 865.6 L1505.5 865.5 L1504 865.5 L1502.5 865.4 L1501 865.1 L1499.5 865.3 L1498 865.6 L1496.5 865.5 L1495 865.8 L1493.5 865.8 L1492 865.5 L1490.5 865.3 L1489 865.3 L1487.5 865.5 L1486 865.3 L1484.5 865.6 L1483 865.1 L1481.5 864.6 L1480 864 L1478.5 863.4 L1477 863 L1475.5 863.3 L1474 863.1 L1472.5 862.9 L1471 864 L1469.5 864 L1468 864.2 L1466.5 865 L1465 865.1 L1463.5 864.6 L1462 864.9 L1460.5 864.5 L1459 864.6 L1457.5 863.9 L1456 863.1 L1454.5 862.9 L1453 862.6 L1451.5 862.6 L1450 862 L1448.5 861.9 L1447 861.5 L1445.5 861.4 L1444 861 L1442.5 860.7 L1441 860.4 L1439.5 860.1 L1438 859.8 L1436.5 859.3 L1435 859.8 L1433.5 859 L1432 859.6 L1430.5 858.8 L1429 859.2 L1427.5 859.7 L1426 859.7 L1424.5 859.5 L1423 859.4 L1421.5 858.9 L1420 858.6 L1418.5 858.7 L1417 858 L1415.5 857.6 L1414 857.5 L1412.5 857.3 L1411 856.9 L1409.5 856.2 L1408 855.7 L1406.5 855.7 L1405 856.2 L1403.5 855.6 L1402 855.3 L1400.5 856.2 L1399 856.2 L1397.5 856.3 L1396 856.2 L1394.5 856.5 L1393 856.5 L1391.5 856.1 L1390 855.6 L1388.5 855.3 L1387 854.5 L1385.5 854 L1384 853.7 L1382.5 853.1 L1381 852.9 L1379.5 852.3 L1378 852.1 L1376.5 852.4 L1375 852 L1373.5 852.2 L1372 851.6 L1370.5 851.5 L1369 850.9 L1367.5 850.5 L1366 849.7 L1364.5 849.4 L1363 849.1 L1361.5 849.1 L1360 849.4 L1358.5 849.2 L1357 848.8 L1355.5 848.7 L1354 848.6 L1352.5 847.7 L1351 847.3 L1349.5 846.2 L1348 846 L1346.5 846.2 L1345 845.9 L1343.5 845.4 L1342 845.3 L1340.5 845.8 L1339 845.8 L1337.5 845.3 L1336 845.2 L1334.5 845.2 L1333 845.8 L1331.5 844.9 L1330 845.2 L1328.5 845.1 L1327 845.4 L1325.5 845.3 L1324 845.9 L1322.5 845.3 L1321 845.9 L1319.5 845.6 L1318 846 L1316.5 846.1 L1315 846.3 L1313.5 845.9 L1312 845.9 L1310.5 846 L1309 846.3 L1307.5 846.7 L1306 846.2 L1304.5 846.4 L1303 846.1 L1301.5 846.3 L1300 846.4 L1298.5 846 L1297 846.3 L1295.5 846.7 L1294 846.2 L1292.5 847 L1291 846.8 L1289.5 847 L1288 848 L1286.5 847.6 L1285 848.3 L1283.5 848.4 L1282 848.7 L1280.5 848.3 L1279 848.4 L1277.5 847.4 L1276 847.1 L1274.5 846.3 L1273 846.3 L1271.5 846.3 L1270 846.7 L1268.5 846.9 L1267 847.9 L1265.5 848 L1264 848.3 L1262.5 848.2 L1261 849.3 L1259.5 849.5 L1258 849 L1256.5 848.8 L1255 848.7 L1253.5 848.5 L1252 849.2 L1250.5 848.9 L1249 848.9 L1247.5 849.9 L1246 850.2 L1244.5 849.9 L1243 849.4 L1241.5 848.9 L1240 848.4 L1238.5 848.1 L1237 847.6 L1235.5 847.8 L1234 847.9 L1232.5 847.9 L1231 848.4 L1229.5 848.8 L1228 849 L1226.5 849.4 L1225 850 L1223.5 850.9 L1222 851.1 L1220.5 850.7 L1219 850.5 L1217.5 850.8 L1216 851.3 L1214.5 851.9 L1213 851.7 L1211.5 851.7 L1210 851.4 L1208.5 851.3 L1207 851.4 L1205.5 851.7 L1204 851 L1202.5 850.5 L1201 850.6 L1199.5 850.8 L1198 851 L1196.5 851.3 L1195 851.5 L1193.5 851.7 L1192 852 L1190.5 851.8 L1189 851.7 L1187.5 851.1 L1186 850.8 L1184.5 851.4 L1183 850.9 L1181.5 850.4 L1180 850.5 L1178.5 851.5 L1177 851.6 L1175.5 851.8 L1174 851 L1172.5 851.5 L1171 851.7 L1169.5 852 L1168 851.9 L1166.5 852.5 L1165 852.8 L1163.5 852.7 L1162 852.3 L1160.5 852.4 L1159 852.4 L1157.5 852.6 L1156 853.1 L1154.5 853.2 L1153 853.1 L1151.5 853.3 L1150 853.2 L1148.5 852.7 L1147 853 L1145.5 853.8 L1144 853.8 L1142.5 853.8 L1141 854.8 L1139.5 854.7 L1138 854.5 L1136.5 854.2 L1135 854.4 L1133.5 854.2 L1132 854.2 L1130.5 853.3 L1129 852.9 L1127.5 852.3 L1126 852.3 L1124.5 852.2 L1123 852.6 L1121.5 852.6 L1120 853.2 L1118.5 853.3 L1117 853.4 L1115.5 853.3 L1114 853.5 L1112.5 854.1 L1111 853.8 L1109.5 854.6 L1108 854.2 L1106.5 853.9 L1105 853.9 L1103.5 854.7 L1102 854 L1100.5 854.7 L1099 854.3 L1097.5 854.4 L1096 855.1 L1094.5 854.9 L1093 854.9 L1091.5 855.1 L1090 854.3 L1088.5 853.7 L1087 853.7 L1085.5 853.4 L1084 853.7 L1082.5 854.1 L1081 854.4 L1079.5 854.4 L1078 854.6 L1076.5 855 L1075 855 L1073.5 855.3 L1072 855 L1070.5 854.5 L1069 854.8 L1067.5 855.7 L1066 855.8 L1064.5 855.9 L1063 856.4 L1061.5 856.4 L1060 856.5 L1058.5 856.6 L1057 856.8 L1055.5 856.5 L1054 857 L1052.5 856.7 L1051 856.8 L1049.5 856.7 L1048 856.6 L1046.5 856.7 L1045 856.7 L1043.5 856.4 L1042 856.7 L1040.5 856.7 L1039 856 L1037.5 855.3 L1036 855.6 L1034.5 855.1 L1033 855.6 L1031.5 856.2 L1030 856.4 L1028.5 856.2 L1027 857.1 L1025.5 856.9 L1024 856.6 L1022.5 856.4 L1021 856.1 L1019.5 856.3 L1018 856.7 L1016.5 857.2 L1015 857.4 L1013.5 857.3 L1012 857.9 L1010.5 858.5 L1009 858.1 L1007.5 858.5 L1006 858.5 L1004.5 857.6 L1003 857.1 L1001.5 857.2 L1000 856.4 L998.5 856.6 L997 857 L995.5 857.6 L994 857.5 L992.5 858.2 L991 857.4 L989.5 857.4 L988 857.2 L986.5 857.2 L985 856.9 L983.5 857.6 L982 857.9 L980.5 857.9 L979 857.3 L977.5 856.9 L976 856.8 L974.5 856.4 L973 857.3 L971.5 857.1 L970 858.2 L968.5 857.7 L967 858.1 L965.5 858.1 L964 858.6 L962.5 857.9 L961 858.5 L959.5 857.7 L958 858.1 L956.5 857.8 L955 858.5 L953.5 857.5 L952 857.9 L950.5 858.4 L949 859.2 L947.5 858.9 L946 859.4 L944.5 859.9 L943 860 L941.5 859.9 L940 859.9 L938.5 860.1 L937 860.1 L935.5 859.8 L934 859.5 L932.5 859.8 L931 859.4 L929.5 859.1 L928 859.2 L926.5 859.2 L925 859 L923.5 859.5 L922 859.7 L920.5 859.5 L919 859.9 L917.5 860.5 L916 861.4 L914.5 861.7 L913 861 L911.5 860.4 L910 860.5 L908.5 860.4 L907 860.6 L905.5 861 L904 861.9 L902.5 861.8 L901 861.3 L899.5 861 L898 860.5 L896.5 860.4 L895 860 L893.5 859.3 L892 859.6 L890.5 860.1 L889 859.6 L887.5 860.1 L886 860.6 L884.5 861.3 L883 861.7 L881.5 861.8 L880 861.4 L878.5 861.2 L877 861.3 L875.5 861.1 L874 861.1 L872.5 861.4 L871 861.9 L869.5 861.6 L868 862.4 L866.5 863.2 L865 862.6 L863.5 862.8 L862 863.8 L860.5 863.6 L859 863.1 L857.5 863.3 L856 863.2 L854.5 863.3 L853 862.8 L851.5 863.2 L850 863.6 L848.5 863.2 L847 863.3 L845.5 863.6 L844 863.6 L842.5 863.9 L841 864.1 L839.5 863.8 L838 863.9 L836.5 863.5 L835 863.8 L833.5 863.9 L832 863.6 L830.5 864.1 L829 865.1 L827.5 865.2 L826 865.3 L824.5 865.1 L823 865.5 L821.5 865.4 L820 865.2 L818.5 865.7 L817 866.2 L815.5 866.2 L814 866.2 L812.5 865.9 L811 866 L809.5 866.5 L808 866.9 L806.5 866.9 L805 866.6 L803.5 867 L802 867.6 L800.5 867.3 L799 867.8 L797.5 868 L796 867.6 L794.5 867.8 L793 867.8 L791.5 868.2 L790 868.3 L788.5 868.2 L787 868.7 L785.5 868.5 L784 868.1 L782.5 869.1 L781 869 L779.5 869 L778 868.7 L776.5 868.9 L775 869 L773.5 869.5 L772 868.6 L770.5 868.6 L769 868.9 L767.5 868.9 L766 868.6 L764.5 869.4 L763 870.1 L761.5 869.7 L760 869.8 L758.5 869.9 L757 869.4 L755.5 869.2 L754 869.3 L752.5 869.2 L751 870 L749.5 869.6 L748 869.4 L746.5 869.9 L745 869.9 L743.5 869.7 L742 869.8 L740.5 870.4 L739 871.2 L737.5 871.5 L736 872.3 L734.5 873.4 L733 873.6 L731.5 874.1 L730 874.6 L728.5 874.6 L727 874.9 L725.5 875.2 L724 875.3 L722.5 876 L721 875.2 L719.5 874.8 L718 875.5 L716.5 875.8 L715 876.5 L713.5 876.7 L712 877 L710.5 877.3 L709 877.6 L707.5 877.1 L706 877.4 L704.5 877.7 L703 878.9 L701.5 879.6 L700 880.2 L698.5 880 L697 880 L695.5 879.8 L694 879.5 L692.5 879.3 L691 879.8 L689.5 879.9 L688 880.5 L686.5 880 L685 880.8 L683.5 881.5 L682 881.4 L680.5 881.9 L679 882.8 L677.5 882.3 L676 882.6 L674.5 882.5 L673 882.5 L671.5 883.1 L670 883.7 L668.5 883.4 L667 884.1 L665.5 884 L664 884.1 L662.5 883.6 L661 884.2 L659.5 883.8 L658 884.4 L656.5 884.1 L655 885 L653.5 885.2 L652 886.2 L650.5 886.1 L649 886.1 L647.5 886.3 L646 886.7 L644.5 887 L643 886.9 L641.5 887.4 L640 887.5 L638.5 888.6 L637 888.9 L635.5 888.7 L634 888.2 L632.5 888.4 L631 888 L629.5 888.4 L628 888.7 L626.5 889 L625 889.4 L623.5 889.4 L622 888.7 L620.5 889.7 L619 889.9 L617.5 889.9 L616 889.7 L614.5 890.3 L613 890.7 L611.5 890.8 L610 891 L608.5 891.6 L607 891.6 L605.5 891.3 L604 891.5 L602.5 891.2 L601 891.4 L599.5 891.4 L598 891.5 L596.5 891.7 L595 892.5 L593.5 893.3 L592 893.2 L590.5 893 L589 892.8 L587.5 893.1 L586 892.9 L584.5 893.2 L583 893.3 L581.5 893.8 L580 893.2 L578.5 893.1 L577 893.4 L575.5 894.3 L574 894 L572.5 894.3 L571 895.1 L569.5 895.7 L568 895.6 L566.5 896 L565 895.6 L563.5 895.5 L562 895.7 L560.5 896 L559 895.7 L557.5 896.1 L556 895.7 L554.5 896.5 L553 896.9 L551.5 897.1 L550 897 L548.5 897.1 L547 897.5 L545.5 897.2 L544 897.1 L542.5 897.5 L541 897.8 L539.5 897.7 L538 897.8 L536.5 898.2 L535 898.6 L533.5 898.4 L532 898.4 L530.5 899.2 L529 899.3 L527.5 899.7 L526 900.1 L524.5 899.9 L523 900.1 L521.5 900 L520 900.2 L518.5 899.9 L517 900 L515.5 900.1 L514 900.4 L512.5 900.6 L511 901 L509.5 901.1 L508 901.1 L506.5 901.4 L505 901.7 L503.5 902.1 L502 902.2 L500.5 902.2 L499 902.5 L497.5 902.6 L496 902.5 L494.5 902.8 L493 902.7 L491.5 902.8 L490 902.9 L488.5 902.6 L487 902.7 L485.5 902.9 L484 903 L482.5 903.1 L481 903.3 L479.5 903.3 L478 903.5 L476.5 903.7 L475 903.6 L473.5 903.8 L472 903.9 L470.5 904 L469 904 L467.5 904 L466 903.9 L464.5 904 L463 903.9 L461.5 904.1 L460 904.1 L458.5 904.2 L457 904.3 L455.5 904.5 L454 904.2 L452.5 904.2 L451 904.2 L449.5 904.1 L448 904.1 L446.5 904.4 L445 904.6 L443.5 904.7 L442 904.9 L440.5 905.1 L439 905.3 L437.5 905.3 L436 905.2 L434.5 905.2 L433 905.2 L431.5 904.8 L430 904.8 L428.5 905.1 L427 905.1 L425.5 904.9 L424 905.3 L422.5 905.5 L421 905.8 L419.5 905.9 L418 906.1 L416.5 906.2 L415 906.2 L413.5 906.3 L412 906.4 L410.5 906.3 L409 906.1 L407.5 906 L406 905.6 L404.5 905.6 L403 905.6 L401.5 905.6 L400 905.6 L398.5 905.6 L397 905.7 L395.5 906 L394 906 L392.5 906.3 L391 906.2 L389.5 906.1 L388 906.3 L386.5 906.3 L385 906.1 L383.5 906.1 L382 906 L380.5 905.9 L379 905.8 L377.5 905.6 L376 905.3 L374.5 905.3 L373 905.4 L371.5 905.6 L370 905.7 L368.5 905.7 L367 905.8 L365.5 905.9 L364 905.7 L362.5 905.5 L361 905.6 L359.5 905.6 L358 905.4 L356.5 905.2 L355 905.2 L353.5 905 L352 905 L350.5 905.1 L349 905.3 L347.5 905.5 L346 905.9 L344.5 906.1 L343 906.2 L341.5 906.3 L340 906.2 L338.5 906.1 L337 906 L335.5 905.8 L334 905.7 L332.5 905.7 L331 905.6 L329.5 905.5 L328 905.7 L326.5 905.6 L325 905.8 L323.5 905.7 L322 905.6 L320.5 905.4 L319 905.5 L317.5 905.4 L316 905.1 L314.5 905.1 L313 905.1 L311.5 905.2 L310 905.3 L308.5 905.4 L307 905.5 L305.5 905.6 L304 905.3 L302.5 905.5 L301 905.5 L299.5 905.3 L298 905.5 L296.5 905.6 L295 905.6 L293.5 905.7 L292 905.8 L290.5 905.7 L289 905.9 L287.5 905.5 L286 905.5 L284.5 905.5 L283 905.6 L281.5 905.6 L280 905.6 L278.5 905.3 L277 905.3 L275.5 905.3 L274 905.3 L272.5 905.3 L271 905.3 L269.5 905.3 L268 905.5 L266.5 905.3 L265 905.3 L263.5 905.1 L262 905.1 L260.5 904.8 L259 904.8 L257.5 904.9 L256 905.2 L254.5 905.3 L253 905.2 L251.5 905.3 L250 905.4 L248.5 905.5 L247 905.4 L245.5 905.2 L244 905.1 L242.5 905.3 L241 905.4 L239.5 905.3 L238 905.6 L236.5 905.6 L235 905.6 L233.5 905.6 L232 905.5 L230.5 905.3 L229 905.1 L227.5 905 L226 904.9 L224.5 905 L223 905 L221.5 905.1 L220 905.2 L218.5 905.5 L217 905.5 L215.5 905.4 L214 905.3 L212.5 905.2 L211 905.2 L209.5 905 L208 904.9 L206.5 904.7 L205 904.7 L203.5 904.7 L202 904.7 L200.5 905 L199 905.2 L197.5 905 L196 905 L194.5 905.4 L193 905.3 L191.5 905.3 L190 905.2 L188.5 905.1 L187 905.1 L185.5 904.9 L184 904.8 L182.5 904.8 L181 904.7 L179.5 904.7 L178 904.7 L176.5 904.8 L175 905 L173.5 904.9 L172 904.7ZM288.5 897.1 L291.2 894.6 L293.6 894.6 L296.3 897.1 ZM418.1 897.1 L420.8 894.6 L423.2 894.6 L425.9 897.1 ZM490.1 891.1 L492.8 888.6 L495.2 888.6 L497.9 891.1 ZM528.7 887.3 L531.4 884.8 L533.8 884.8 L536.5 887.3 ZM569.1 868.2 L571.8 865.7 L574.2 865.7 L576.9 868.2 ZM575.7 877.5 L578.4 875 L580.8 875 L583.5 877.5 ZM610 871.2 L612.7 868.7 L615.1 868.7 L617.8 871.2 ZM624.9 877.1 L627.5 874.6 L630 874.6 L632.6 877.1 ZM645.7 844.1 L648.4 841.6 L650.8 841.6 L653.5 844.1 ZM654.6 859.3 L657.3 856.8 L659.7 856.8 L662.4 859.3 ZM721 825.7 L723.7 823.2 L726.1 823.2 L728.8 825.7 ZM740.1 815.2 L742.8 812.7 L745.2 812.7 L747.9 815.2 ZM768.1 849.5 L770.8 847 L773.2 847 L775.9 849.5 ZM792.6 813.8 L795.3 811.2 L797.7 811.2 L800.4 813.8 ZM862.6 814.5 L865.3 812 L867.7 812 L870.4 814.5 ZM886.1 848.5 L888.8 846 L891.2 846 L893.9 848.5 ZM914.1 840.5 L916.8 838 L919.2 838 L921.9 840.5 ZM929.1 813.2 L931.8 810.7 L934.2 810.7 L936.9 813.2 ZM980.1 827.1 L982.8 824.6 L985.2 824.6 L987.9 827.1 ZM992.1 821.2 L994.8 818.7 L997.2 818.7 L999.9 821.2 ZM1014.1 835.5 L1016.8 833 L1019.2 833 L1021.9 835.5 ZM1053.1 821.2 L1055.8 818.7 L1058.2 818.7 L1060.9 821.2 ZM1082.8 841.5 L1085.5 839 L1087.9 839 L1090.6 841.5 ZM1112.6 822.7 L1115.3 820.2 L1117.7 820.2 L1120.4 822.7 ZM1123.1 838.5 L1125.8 836 L1128.2 836 L1130.9 838.5 ZM1170.1 821.2 L1172.8 818.7 L1175.2 818.7 L1177.9 821.2 ZM1187.1 835.5 L1189.8 833 L1192.2 833 L1194.9 835.5 ZM1201.1 835.5 L1203.8 833 L1206.2 833 L1208.9 835.5 ZM1223.6 824.2 L1226.3 821.7 L1228.7 821.7 L1231.4 824.2 ZM1242.1 837 L1244.8 834.5 L1247.2 834.5 L1249.9 837 ZM1276.1 824.2 L1278.8 821.7 L1281.2 821.7 L1283.9 824.2 ZM1295.6 833.1 L1298.3 830.6 L1300.7 830.6 L1303.4 833.1 ZM1316.1 830.1 L1318.8 827.6 L1321.2 827.6 L1323.9 830.1 ZM1332.1 816.5 L1334.8 814 L1337.2 814 L1339.9 816.5 ZM1361.1 830 L1363.8 827.5 L1366.2 827.5 L1368.9 830 ZM1368.1 831.5 L1370.8 829 L1373.2 829 L1375.9 831.5 ZM1375.1 830 L1377.8 827.5 L1380.2 827.5 L1382.9 830 ZM1388.1 824.5 L1390.8 822 L1393.2 822 L1395.9 824.5 ZM1409.1 846.5 L1411.8 844 L1414.2 844 L1416.9 846.5 ZM1428.1 828.5 L1430.8 826 L1433.2 826 L1435.9 828.5 ZM1463.1 849.3 L1465.8 846.8 L1468.2 846.8 L1470.9 849.3 ZM1476.1 847.3 L1478.8 844.8 L1481.2 844.8 L1483.9 847.3 ZM1513.6 854.5 L1516.3 852 L1518.7 852 L1521.4 854.5 ZM1558.1 860.5 L1560.8 858 L1563.2 858 L1565.9 860.5 ZM1574.9 661 L1577.6 658.5 L1580 658.5 L1582.7 661 ZM1579.1 785.5 L1581.8 783 L1584.2 783 L1586.9 785.5 ZM1602.9 862.5 L1605.6 860 L1608 860 L1610.7 862.5 ZM1647.1 844.5 L1649.8 842 L1652.2 842 L1654.9 844.5 ZM1651.1 766 L1653.8 763.5 L1656.2 763.5 L1658.9 766 Z" fill="#0202d8"/>
<path d="M292.4 901.6 V896.8M422 901.8 V896.8M494 898.5 V890.8M532.6 894.6 V887M573 890 V867.9M579.6 889 V877.2M613.9 885 V870.9M628.8 883.5 V876.8M649.6 881 V843.8M658.5 879.8 V859M724.9 869.7 V825.4M744 865.8 V814.9M772 863.7 V849.2M796.5 861.9 V813.5M866.5 857.5 V814.2M890 856.2 V848.2M918 854.6 V840.2M933 854.1 V812.9M984 852.4 V826.8M996 852 V820.9M1018 851.3 V835.2M1057 850.1 V820.9M1086.7 849.4 V841.2M1116.5 848.6 V822.4M1127 848.3 V838.2M1174 846.9 V820.9M1191 846.3 V835.2M1205 845.7 V835.2M1227.5 844.8 V823.9M1246 844.1 V836.7M1280 842.4 V823.9M1299.5 841.4 V832.8M1320 840.4 V829.8M1336 839.8 V816.2M1365 845.3 V829.7M1372 846.6 V831.2M1379 847.9 V829.7M1392 850.2 V824.2M1413 852.9 V846.2M1432 855.3 V828.2M1467 858.7 V849M1480 859.7 V847M1517.5 862.5 V854.2M1562 865.7 V860.2M1578.8 866.3 V660.7M1583 866.4 V785.2M1606.8 866.8 V862.2M1651 866 V844.2M1655 865.9 V765.7M573 875.5 H579.6M575.5 889.6 V875.5M578 889.3 V875.5M579.6 889 V875.5M649.6 857.3 H658.5M652.1 880.6 V857.3M654.6 880.3 V857.3M657.1 880 V857.3M658.5 879.8 V857.3M1365 829.5 H1372M1367.5 845.7 V829.5M1370 846.2 V829.5M1372 846.6 V829.5M1372 829.5 H1379M1374.5 847.1 V829.5M1377 847.5 V829.5M1379 847.9 V829.5M1578.8 783.5 H1583M1581.3 866.3 V783.5M1583 866.4 V783.5M1651 842.5 H1655M1653.5 865.9 V842.5M1655 865.9 V842.5" fill="none" stroke="#0202d8" stroke-width="7.8" stroke-linecap="butt"/>
<path d="M172 1379.3 L173.5 1381.4 L175 1383.4 L176.5 1385.4 L178 1387.2 L179.5 1389.2 L181 1390.3 L182.5 1391.3 L184 1392.1 L185.5 1392.7 L187 1393.1 L188.5 1393.1 L190 1393.2 L191.5 1393.4 L193 1393.8 L194.5 1393.9 L196 1394.2 L197.5 1394.7 L199 1395.1 L200.5 1395 L202 1394.9 L203.5 1395 L205 1395.3 L206.5 1395.2 L208 1395.5 L209.5 1395.1 L211 1395.2 L212.5 1395.2 L214 1394.8 L215.5 1395 L217 1395 L218.5 1394.6 L220 1394.3 L221.5 1395.1 L223 1395 L224.5 1394.8 L226 1394.7 L227.5 1395.4 L229 1395.5 L230.5 1395.2 L232 1395.1 L233.5 1395.4 L235 1395.2 L236.5 1395 L238 1394.6 L239.5 1394.5 L241 1394.5 L242.5 1394.7 L244 1394.7 L245.5 1395.1 L247 1395 L248.5 1395.2 L250 1395.4 L251.5 1395.6 L253 1395.3 L254.5 1395.6 L256 1394.9 L257.5 1395 L259 1395.1 L260.5 1395.2 L262 1395.2 L263.5 1395.1 L265 1395.2 L266.5 1395.1 L268 1395.3 L269.5 1395.6 L271 1395.4 L272.5 1395.5 L274 1395.2 L275.5 1395.2 L277 1395.2 L278.5 1395.5 L280 1395.3 L281.5 1395.4 L283 1395.4 L284.5 1395 L286 1395.1 L287.5 1395.4 L289 1395.5 L290.5 1395.1 L292 1395.3 L293.5 1395.1 L295 1395.5 L296.5 1395.2 L298 1394.7 L299.5 1394.8 L301 1395.4 L302.5 1395.5 L304 1395.4 L305.5 1395.1 L307 1395.3 L308.5 1395.3 L310 1395.1 L311.5 1394.8 L313 1394.5 L314.5 1394.7 L316 1394.7 L317.5 1394.9 L319 1394.5 L320.5 1394.7 L322 1395.4 L323.5 1395.8 L325 1395.1 L326.5 1394.9 L328 1395.7 L329.5 1395.7 L331 1395.7 L332.5 1395.7 L334 1395.2 L335.5 1395 L337 1395.3 L338.5 1395.3 L340 1394.9 L341.5 1394.7 L343 1394.7 L344.5 1395 L346 1394.7 L347.5 1394.8 L349 1395.2 L350.5 1395.3 L352 1395.3 L353.5 1395.2 L355 1395.5 L356.5 1395.8 L358 1395.8 L359.5 1395.9 L361 1395.7 L362.5 1395.5 L364 1395.5 L365.5 1395.6 L367 1395.8 L368.5 1395.3 L370 1394.4 L371.5 1395.4 L373 1395.7 L374.5 1395.3 L376 1395.2 L377.5 1395.5 L379 1395 L380.5 1394.7 L382 1394.1 L383.5 1394.5 L385 1395 L386.5 1394.9 L388 1394.5 L389.5 1394.1 L391 1394.1 L392.5 1394.3 L394 1394.9 L395.5 1395.3 L397 1395.1 L398.5 1395.4 L400 1395.9 L401.5 1395.7 L403 1395 L404.5 1395.2 L406 1395.6 L407.5 1395.4 L409 1395.3 L410.5 1394.8 L412 1393.8 L413.5 1394.5 L415 1394.5 L416.5 1393.9 L418 1393.8 L419.5 1394.2 L421 1393.8 L422.5 1393.6 L424 1393.4 L425.5 1393.2 L427 1392.8 L428.5 1393.2 L430 1392.9 L431.5 1392.4 L433 1392.3 L434.5 1392.4 L436 1392.5 L437.5 1392.7 L439 1392.2 L440.5 1391.8 L442 1392 L443.5 1391.5 L445 1391.5 L446.5 1391.8 L448 1392.2 L449.5 1391.9 L451 1391.9 L452.5 1391.6 L454 1390.7 L455.5 1391 L457 1391.3 L458.5 1391.5 L460 1390.8 L461.5 1390.5 L463 1389.6 L464.5 1389.4 L466 1389.6 L467.5 1389.4 L469 1388.9 L470.5 1388.2 L472 1388.8 L473.5 1388.5 L475 1388 L476.5 1388 L478 1388 L479.5 1387.3 L481 1385.9 L482.5 1385.6 L484 1386 L485.5 1385.9 L487 1385.1 L488.5 1384.7 L490 1383.7 L491.5 1383.2 L493 1383.7 L494.5 1384.1 L496 1383.6 L497.5 1382.3 L499 1381.4 L500.5 1381.4 L502 1381.8 L503.5 1380.2 L505 1378.2 L506.5 1377.3 L508 1378.1 L509.5 1379.2 L511 1378 L512.5 1376 L514 1375.6 L515.5 1375.1 L517 1376.1 L518.5 1376.3 L520 1375.3 L521.5 1376.8 L523 1376 L524.5 1374.3 L526 1374.3 L527.5 1373.1 L529 1370.9 L530.5 1370.7 L532 1370.8 L533.5 1368.2 L535 1366.2 L536.5 1366 L538 1366.5 L539.5 1368.7 L541 1367.2 L542.5 1366.2 L544 1365.8 L545.5 1366.7 L547 1366 L548.5 1363.7 L550 1365.2 L551.5 1366 L553 1364.9 L554.5 1361.4 L556 1361.6 L557.5 1362.3 L559 1365.4 L560.5 1365.6 L562 1363.4 L563.5 1362.4 L565 1362.2 L566.5 1361.5 L568 1362 L569.5 1361.3 L571 1358.8 L572.5 1355.2 L574 1354.1 L575.5 1355.8 L577 1357.5 L578.5 1354.6 L580 1349.2 L581.5 1349.7 L583 1351 L584.5 1353.8 L586 1351.2 L587.5 1348.6 L589 1350.3 L590.5 1348.5 L592 1342.9 L593.5 1340.7 L595 1344.5 L596.5 1347.3 L598 1348.9 L599.5 1346.1 L601 1342.7 L602.5 1341.5 L604 1343 L605.5 1343.9 L607 1339.9 L608.5 1337.3 L610 1339.8 L611.5 1339.1 L613 1342 L614.5 1340.3 L616 1336.6 L617.5 1331.2 L619 1331.7 L620.5 1334 L622 1336.4 L623.5 1331.5 L625 1328.2 L626.5 1328.7 L628 1331.6 L629.5 1332.4 L631 1329.1 L632.5 1329.1 L634 1328.5 L635.5 1327.9 L637 1327.6 L638.5 1322.4 L640 1321.5 L641.5 1324.1 L643 1325.5 L644.5 1327.4 L646 1328.3 L647.5 1324.5 L649 1322.3 L650.5 1323.5 L652 1322.2 L653.5 1319.4 L655 1313.8 L656.5 1318.4 L658 1318.9 L659.5 1322.2 L661 1323.7 L662.5 1317.1 L664 1316.6 L665.5 1316.7 L667 1318 L668.5 1312.6 L670 1313.7 L671.5 1317.4 L673 1317.1 L674.5 1315.3 L676 1314.9 L677.5 1317.5 L679 1313.7 L680.5 1310.2 L682 1308 L683.5 1305.6 L685 1308.1 L686.5 1307.3 L688 1303.4 L689.5 1303.8 L691 1306.1 L692.5 1306.3 L694 1302.8 L695.5 1303.4 L697 1306 L698.5 1307.4 L700 1309.9 L701.5 1306 L703 1301.4 L704.5 1301.3 L706 1304.9 L707.5 1301.9 L709 1293 L710.5 1292.1 L712 1294.2 L713.5 1291.2 L715 1291.8 L716.5 1292.1 L718 1293.5 L719.5 1293.7 L721 1291.1 L722.5 1291.9 L724 1290.3 L725.5 1285 L727 1282.6 L728.5 1283.5 L730 1285.5 L731.5 1291 L733 1290.4 L734.5 1289 L736 1286.9 L737.5 1280.1 L739 1284.3 L740.5 1289.2 L742 1289.8 L743.5 1287.7 L745 1288.5 L746.5 1286.2 L748 1286.3 L749.5 1282.8 L751 1277.1 L752.5 1279.6 L754 1279.5 L755.5 1278 L757 1275.3 L758.5 1281.7 L760 1282.5 L761.5 1281.2 L763 1280.3 L764.5 1276.6 L766 1275.9 L767.5 1279 L769 1280.4 L770.5 1277.9 L772 1276.7 L773.5 1273.5 L775 1274.9 L776.5 1276.5 L778 1273.8 L779.5 1271.7 L781 1274.9 L782.5 1276.9 L784 1275.5 L785.5 1269.7 L787 1267.8 L788.5 1271.1 L790 1277 L791.5 1274.1 L793 1271.6 L794.5 1270 L796 1276.6 L797.5 1279.7 L799 1279.9 L800.5 1278.9 L802 1277.2 L803.5 1278.2 L805 1273.2 L806.5 1270 L808 1269.3 L809.5 1276 L811 1274.7 L812.5 1271.8 L814 1269.4 L815.5 1264.9 L817 1267.9 L818.5 1270 L820 1277.4 L821.5 1271.8 L823 1270 L824.5 1270.2 L826 1274.4 L827.5 1272.1 L829 1268.7 L830.5 1266.6 L832 1268.8 L833.5 1269.4 L835 1266.6 L836.5 1269.5 L838 1272.8 L839.5 1270.4 L841 1271.1 L842.5 1269.8 L844 1268.6 L845.5 1263.9 L847 1268.4 L848.5 1268.4 L850 1267 L851.5 1263.2 L853 1266 L854.5 1266.4 L856 1265.1 L857.5 1263.1 L859 1261.2 L860.5 1266 L862 1265.3 L863.5 1264.5 L865 1264.5 L866.5 1264.8 L868 1267.8 L869.5 1265 L871 1263.1 L872.5 1262.4 L874 1262.5 L875.5 1265.4 L877 1265.1 L878.5 1265.5 L880 1264.5 L881.5 1261.7 L883 1262.3 L884.5 1265.1 L886 1263.7 L887.5 1264.1 L889 1263.1 L890.5 1264.3 L892 1266.2 L893.5 1264.7 L895 1263.3 L896.5 1262.8 L898 1263 L899.5 1262.6 L901 1257.5 L902.5 1260.2 L904 1266.1 L905.5 1264.2 L907 1263.4 L908.5 1261.3 L910 1257.4 L911.5 1259.2 L913 1261.5 L914.5 1260.9 L916 1256.2 L917.5 1255.3 L919 1256.6 L920.5 1261.9 L922 1263.3 L923.5 1257.6 L925 1258 L926.5 1259.4 L928 1259.8 L929.5 1260.9 L931 1256.6 L932.5 1251.7 L934 1252.1 L935.5 1253.9 L937 1251.9 L938.5 1253 L940 1251.9 L941.5 1253.5 L943 1255.6 L944.5 1258 L946 1259 L947.5 1254.5 L949 1252.7 L950.5 1258.1 L952 1259.4 L953.5 1257.3 L955 1256.3 L956.5 1252.8 L958 1253.4 L959.5 1256.4 L961 1257 L962.5 1255.3 L964 1253.5 L965.5 1253.4 L967 1247.9 L968.5 1252.7 L970 1252.4 L971.5 1248.5 L973 1252.8 L974.5 1254.9 L976 1252.1 L977.5 1252 L979 1250.4 L980.5 1245.9 L982 1249.7 L983.5 1249.7 L985 1247.1 L986.5 1245.9 L988 1249.2 L989.5 1252.3 L991 1250.6 L992.5 1249.1 L994 1251.7 L995.5 1252.1 L997 1249.6 L998.5 1249.7 L1000 1249 L1001.5 1252.5 L1003 1249.9 L1004.5 1252 L1006 1250 L1007.5 1244.3 L1009 1246.9 L1010.5 1247.9 L1012 1249.1 L1013.5 1247 L1015 1242.6 L1016.5 1239.8 L1018 1238.6 L1019.5 1243.9 L1021 1245.8 L1022.5 1246 L1024 1245.8 L1025.5 1244.1 L1027 1244.8 L1028.5 1249.5 L1030 1245 L1031.5 1244 L1033 1242.3 L1034.5 1246.6 L1036 1247.2 L1037.5 1247.7 L1039 1246.3 L1040.5 1248.1 L1042 1246.5 L1043.5 1245.5 L1045 1245.5 L1046.5 1245.7 L1048 1245.7 L1049.5 1245 L1051 1240.9 L1052.5 1235.5 L1054 1237.3 L1055.5 1241.8 L1057 1245.4 L1058.5 1241.6 L1060 1239.1 L1061.5 1239.3 L1063 1241.1 L1064.5 1242.5 L1066 1241.5 L1067.5 1240.6 L1069 1239.8 L1070.5 1244.7 L1072 1244.4 L1073.5 1243.3 L1075 1239.6 L1076.5 1244.7 L1078 1243.4 L1079.5 1242.6 L1081 1242.1 L1082.5 1237.8 L1084 1235.5 L1085.5 1240.7 L1087 1245.2 L1088.5 1243.5 L1090 1242.2 L1091.5 1241.5 L1093 1239.5 L1094.5 1239.2 L1096 1238.9 L1097.5 1240 L1099 1239.7 L1100.5 1235.6 L1102 1235 L1103.5 1229.7 L1105 1236 L1106.5 1236.5 L1108 1240.1 L1109.5 1238.5 L1111 1235.8 L1112.5 1238.1 L1114 1237.9 L1115.5 1235.3 L1117 1231.2 L1118.5 1232.5 L1120 1235.4 L1121.5 1234.4 L1123 1235.5 L1124.5 1238.5 L1126 1238.5 L1127.5 1239.6 L1129 1238.6 L1130.5 1239.4 L1132 1235.3 L1133.5 1236.2 L1135 1236.6 L1136.5 1237.4 L1138 1234 L1139.5 1229.2 L1141 1231.1 L1142.5 1236.9 L1144 1238.9 L1145.5 1239.2 L1147 1238.3 L1148.5 1232.8 L1150 1236.6 L1151.5 1235.8 L1153 1234.3 L1154.5 1235.4 L1156 1229.6 L1157.5 1233.7 L1159 1234.7 L1160.5 1236.4 L1162 1234.9 L1163.5 1231.6 L1165 1228.6 L1166.5 1229.3 L1168 1231.4 L1169.5 1234.3 L1171 1230.7 L1172.5 1228.7 L1174 1225.8 L1175.5 1227.9 L1177 1228.6 L1178.5 1227.4 L1180 1223.3 L1181.5 1224.2 L1183 1224.5 L1184.5 1225 L1186 1224.1 L1187.5 1224.7 L1189 1228.1 L1190.5 1224.9 L1192 1222.2 L1193.5 1227.2 L1195 1230 L1196.5 1229.8 L1198 1227.2 L1199.5 1227.6 L1201 1220.2 L1202.5 1221.3 L1204 1226.9 L1205.5 1227 L1207 1224.4 L1208.5 1224.1 L1210 1224.2 L1211.5 1228.5 L1213 1230.7 L1214.5 1228.7 L1216 1223.1 L1217.5 1228.2 L1219 1226.1 L1220.5 1228.9 L1222 1221.2 L1223.5 1217.9 L1225 1220.7 L1226.5 1225.6 L1228 1225 L1229.5 1223.2 L1231 1224 L1232.5 1221 L1234 1220.8 L1235.5 1223.2 L1237 1225.1 L1238.5 1224 L1240 1222.6 L1241.5 1220.6 L1243 1215.9 L1244.5 1221.4 L1246 1225.5 L1247.5 1227.3 L1249 1226.4 L1250.5 1222.8 L1252 1221.9 L1253.5 1225.6 L1255 1223.3 L1256.5 1222.3 L1258 1222.9 L1259.5 1220.8 L1261 1222.6 L1262.5 1220.6 L1264 1216.6 L1265.5 1218.9 L1267 1219.4 L1268.5 1222.6 L1270 1222.6 L1271.5 1221.3 L1273 1222.1 L1274.5 1222.8 L1276 1221.7 L1277.5 1219.1 L1279 1219.5 L1280.5 1220.8 L1282 1218.2 L1283.5 1211.7 L1285 1216.1 L1286.5 1216.8 L1288 1220.4 L1289.5 1221.3 L1291 1216.2 L1292.5 1216.6 L1294 1220.4 L1295.5 1219.6 L1297 1216.8 L1298.5 1214.7 L1300 1219 L1301.5 1219.7 L1303 1219.9 L1304.5 1219.3 L1306 1220.9 L1307.5 1220.3 L1309 1222.2 L1310.5 1216.9 L1312 1214.7 L1313.5 1214.8 L1315 1217.9 L1316.5 1222.1 L1318 1222.1 L1319.5 1217.8 L1321 1214.4 L1322.5 1214.7 L1324 1220.9 L1325.5 1215.2 L1327 1212.6 L1328.5 1213.7 L1330 1219.9 L1331.5 1218.5 L1333 1217.3 L1334.5 1221.8 L1336 1219.7 L1337.5 1218.6 L1339 1219.6 L1340.5 1225.3 L1342 1223.7 L1343.5 1221.8 L1345 1221.4 L1346.5 1221.4 L1348 1217.4 L1349.5 1222.2 L1351 1224.8 L1352.5 1226.2 L1354 1225.3 L1355.5 1226.2 L1357 1229 L1358.5 1229.1 L1360 1228.4 L1361.5 1228.8 L1363 1230.4 L1364.5 1232.6 L1366 1235.5 L1367.5 1234.2 L1369 1231.5 L1370.5 1226.6 L1372 1235.3 L1373.5 1232.8 L1375 1229.1 L1376.5 1229.9 L1378 1235.3 L1379.5 1239.6 L1381 1238.7 L1382.5 1236 L1384 1234.9 L1385.5 1235 L1387 1239.4 L1388.5 1239.8 L1390 1236.8 L1391.5 1236.8 L1393 1230.3 L1394.5 1233.6 L1396 1236.2 L1397.5 1234.2 L1399 1237.4 L1400.5 1240.5 L1402 1240.3 L1403.5 1242.1 L1405 1242 L1406.5 1246.2 L1408 1246 L1409.5 1248.2 L1411 1249.4 L1412.5 1251.5 L1414 1253.2 L1415.5 1249.4 L1417 1245.1 L1418.5 1247 L1420 1249.6 L1421.5 1255.8 L1423 1253.5 L1424.5 1251.4 L1426 1250.3 L1427.5 1250.1 L1429 1254.7 L1430.5 1256.1 L1432 1257 L1433.5 1252.8 L1435 1254.7 L1436.5 1256.1 L1438 1256.8 L1439.5 1255.4 L1441 1257 L1442.5 1257.7 L1444 1259.1 L1445.5 1259.7 L1447 1260.7 L1448.5 1259 L1450 1259.7 L1451.5 1263.3 L1453 1260.4 L1454.5 1263.4 L1456 1264.4 L1457.5 1259.6 L1459 1255.9 L1460.5 1260.5 L1462 1265 L1463.5 1264.7 L1465 1260.1 L1466.5 1264.3 L1468 1269.8 L1469.5 1271.2 L1471 1269.8 L1472.5 1267.2 L1474 1267.8 L1475.5 1273.3 L1477 1272.6 L1478.5 1272.2 L1480 1270.3 L1481.5 1267.5 L1483 1271.9 L1484.5 1275.6 L1486 1270.5 L1487.5 1267.5 L1489 1265.3 L1490.5 1269.4 L1492 1275.3 L1493.5 1273.2 L1495 1269.6 L1496.5 1272.2 L1498 1275.3 L1499.5 1277.6 L1501 1279.7 L1502.5 1278 L1504 1278.9 L1505.5 1280.4 L1507 1280.3 L1508.5 1276.6 L1510 1278.4 L1511.5 1280.1 L1513 1280.3 L1514.5 1280.8 L1516 1283.4 L1517.5 1286 L1519 1284.2 L1520.5 1285.7 L1522 1287.8 L1523.5 1287.4 L1525 1288.5 L1526.5 1291.8 L1528 1292.9 L1529.5 1293.8 L1531 1294.4 L1532.5 1293.8 L1534 1292.3 L1535.5 1292.6 L1537 1294.1 L1538.5 1293.9 L1540 1293.8 L1541.5 1292.3 L1543 1293.1 L1544.5 1295.3 L1546 1296.8 L1547.5 1296.8 L1549 1298.7 L1550.5 1297.7 L1552 1297.9 L1553.5 1299.6 L1555 1299.6 L1556.5 1298.9 L1558 1300 L1559.5 1301.5 L1561 1302.7 L1562.5 1302.9 L1564 1304.9 L1565.5 1304.4 L1567 1305.1 L1568.5 1303.9 L1570 1304.1 L1571.5 1304.1 L1573 1304.7 L1574.5 1304.5 L1576 1305.4 L1577.5 1305.6 L1579 1307.1 L1580.5 1307.2 L1582 1307.1 L1583.5 1308.3 L1585 1309.1 L1586.5 1309.7 L1588 1309.1 L1589.5 1310.3 L1591 1311.2 L1592.5 1311.9 L1594 1312 L1595.5 1312.7 L1597 1312.8 L1598.5 1312.9 L1600 1313.4 L1601.5 1313.9 L1603 1313.8 L1604.5 1313.7 L1606 1313.7 L1607.5 1313.9 L1609 1314.5 L1610.5 1315.1 L1612 1314.6 L1613.5 1314.6 L1615 1315.2 L1616.5 1316 L1618 1316.2 L1619.5 1316.2 L1621 1316.1 L1622.5 1316.5 L1624 1316.8 L1625.5 1317.2 L1627 1317.6 L1628.5 1317.3 L1630 1316.8 L1631.5 1317 L1633 1318.1 L1634.5 1317.7 L1636 1318 L1637.5 1318.1 L1639 1318.4 L1640.5 1318.3 L1642 1318.7 L1643.5 1318.7 L1645 1318.8 L1646.5 1319 L1648 1318.5 L1649.5 1318.7 L1651 1319.4 L1652.5 1319.5 L1654 1319.5 L1655.5 1319.2 L1657 1319.7 L1658.5 1320.3 L1660 1320.6 L1661.5 1320.4 L1663 1320.2 L1664.5 1320 L1666 1320.2 L1667.5 1320.4 L1669 1320.2 L1670.5 1319.8 L1672 1319.7 L1673.5 1320.1 L1675 1320.3 L1676.5 1320.1 L1678 1319.8 L1679.5 1319.6 L1681 1319.6 L1682.5 1319.3 L1684 1319.2 L1685.5 1319.2 L1687 1318.9 L1688.5 1318.7 L1690 1318.4 L1691.5 1317.8 L1693 1317.7 L1694.5 1318 L1696 1318 L1697.5 1317.6 L1699 1317.4 L1700.5 1317.3 L1702 1317.3 L1703.5 1317.4 L1705 1317 L1706.5 1316.6 L1708 1316.2 L1709.5 1316.3 L1711 1316.4 L1712.5 1316.3 L1714 1316 L1715.5 1315.6 L1717 1315.2 L1718.5 1315.2 L1720 1315.1 L1721.5 1314.9 L1723 1314.7 L1724.5 1314.6 L1726 1314.3 L1727.5 1314.1 L1729 1314.2 L1730.5 1313.8 L1732 1313.9 L1733.5 1313.9 L1735 1313.9 L1736.5 1314.1 L1738 1313.7 L1739.5 1313.5 L1741 1313.3 L1742.5 1313.2 L1744 1313.3 L1745.5 1313 L1747 1312.7 L1748.5 1312.5 L1750 1312.3 L1751.5 1312.3 L1753 1312.7 L1754.5 1313 L1756 1313.1 L1757.5 1313.7 L1759 1313.7 L1760.5 1313.7 L1762 1314 L1763.5 1314.4 L1765 1314.2 L1766.5 1314.4 L1768 1314.6 L1769.5 1314.8 L1771 1314.7 L1772.5 1314.9 L1774 1315.2 L1775.5 1315.6 L1777 1315.8 L1778.5 1315.4 L1780 1315.7 L1781.5 1315.8 L1783 1315.7 L1784.5 1316 L1786 1316.6 L1787.5 1316.7 L1789 1316.9 L1790.5 1316.8 L1792 1317.4 L1793.5 1317.9 L1795 1317.8 L1796.5 1318.1 L1798 1318.5 L1799.5 1319 L1801 1319 L1802.5 1319.1 L1804 1319 L1805.5 1318.9 L1807 1319.3 L1808.5 1319.6 L1810 1319.8 L1811.5 1319.8 L1813 1320.3 L1814.5 1320.4 L1816 1320.5 L1817.5 1320.4 L1819 1320.6 L1820.5 1320.8 L1822 1320.8 L1823.5 1321 L1825 1321.2 L1826.5 1321.7 L1828 1321.7 L1829.5 1321.8 L1831 1322.1 L1832.5 1322.5 L1834 1322.6 L1835.5 1322.5 L1837 1322.4 L1838.5 1322.4 L1840 1322.6 L1841.5 1322.9 L1843 1323 L1844.5 1323.1 L1846 1323.6 L1847.5 1323.7 L1849 1324.1 L1850.5 1324.1 L1852 1324.2 L1853.5 1324.5 L1855 1324.5 L1856.5 1324.9 L1858 1324.9 L1859.5 1325 L1861 1325 L1862.5 1325.3 L1864 1325.7 L1865.5 1325.7 L1867 1326 L1868.5 1326.4 L1870 1326.2 L1871.5 1326.5 L1873 1326.8 L1874.5 1327 L1876 1326.9 L1877.5 1326.8 L1879 1327.2 L1880.5 1327.8 L1882 1327.9 L1883.5 1327.7 L1885 1327.9 L1886.5 1328.3 L1888 1328.3 L1889.5 1328.5 L1891 1328.4 L1892.5 1328.1 L1894 1328.1 L1895.5 1328.4 L1897 1328.4 L1898.5 1328.4 L1900 1328.5 L1901.5 1328.4 L1903 1328.6 L1904.5 1328.9 L1906 1329 L1907.5 1329 L1909 1328.6 L1910.5 1328.8 L1912 1329 L1913.5 1328.9 L1915 1328.6 L1916.5 1328.7 L1918 1328.8 L1919.5 1329.1 L1921 1329.1 L1922.5 1329 L1924 1328.9 L1925.5 1329.2 L1927 1329.3 L1928.5 1329.3 L1930 1329.1 L1931.5 1329 L1933 1329.6 L1934.5 1329.7 L1936 1329.7 L1937.5 1329.5 L1939 1329.6 L1940.5 1329.8 L1942 1330.1 L1943.5 1329.9 L1945 1330 L1946.5 1329.9 L1948 1329.8 L1949.5 1330 L1951 1330.1 L1952.5 1330 L1954 1329.8 L1955.5 1329.8 L1957 1329.8 L1958.5 1330.2 L1960 1330.1 L1961.5 1330.1 L1963 1330.3 L1964.5 1330.8 L1966 1330.9 L1967.5 1330.9 L1969 1330.7 L1970.5 1330.7 L1972 1330.7 L1973.5 1330.7 L1975 1330.7 L1976.5 1331 L1978 1330.7 L1979.5 1330.7 L1981 1331 L1982.5 1331.1 L1984 1331.4 L1985.5 1331.4 L1987 1331.4 L1988.5 1331.4 L1990 1331.4 L1991.5 1331.6 L1993 1331.6 L1994.5 1331.2 L1996 1331.2 L1997.5 1331 L1999 1331 L2000.5 1331 L2002 1330.8 L2003.5 1331.1 L2005 1331.2 L2006.5 1331.2 L2008 1331.5 L2009.5 1331.7 L2011 1331.7 L2012.5 1331.7 L2014 1331.9 L2015.5 1332.1 L2017 1332 L2018.5 1331.9 L2020 1331.8 L2021.5 1331.8 L2023 1331.8 L2024.5 1331.9 L2026 1332.1 L2027.5 1332.1 L2029 1331.9 L2030.5 1332.1 L2032 1332.1 L2033.5 1332.2 L2035 1332 L2036.5 1332.1 L2038 1332.2 L2039.5 1332.3 L2041 1332.2 L2042.5 1332.1 L2044 1331.9 L2045.5 1332 L2047 1332.3 L2048.5 1332.3 L2050 1332 L2051.5 1332.2 L2053 1332.3 L2054.5 1332.2 L2056 1332.3 L2057.5 1332.3 L2059 1332 L2060.5 1332.2 L2062 1332.1 L2063.5 1332.4 L2065 1332.5 L2066.5 1332.3 L2068 1332.6 L2069.5 1332.7 L2071 1333 L2072.5 1332.9 L2074 1332.6 L2075.5 1332.3 L2077 1332.3 L2078.5 1332.5 L2080 1332.4 L2081.5 1332.2 L2083 1332.4 L2084.5 1332.5 L2086 1332.5 L2087.5 1332.5 L2089 1332.5 L2090.5 1332.7 L2092 1332.7 L2093.5 1332.7 L2095 1332.9 L2096.5 1332.9 L2098 1332.9 L2099.5 1332.9 L2101 1333 L2102.5 1333.1 L2104 1332.9 L2105.5 1332.8 L2107 1332.8 L2108.5 1333.2 L2110 1333.3 L2111.5 1333.5 L2113 1333.6 L2114.5 1333.6 L2116 1333.5 L2117.5 1333.4 L2119 1333.2 L2120.5 1333.4 L2122 1333.5 L2123.5 1333.2 L2125 1333.4 L2126.5 1333.5 L2128 1333.6 L2129.5 1333.6 L2131 1333.3 L2132.5 1333.4 L2134 1333.5 L2135.5 1333.6 L2137 1333.6 L2138.5 1333.6 L2140 1333.6 L2141.5 1333.6 L2143 1333.8 L2144.5 1334 L2146 1334 L2147.5 1333.9 L2149 1334 L2150.5 1334.1 L2152 1334.1 L2153.5 1334 L2155 1333.9 L2156.5 1333.8 L2158 1334.2 L2159.5 1334.2 L2161 1334.2 L2162.5 1334.3 L2164 1334 L2165.5 1333.9 L2167 1334.1 L2168.5 1334 L2170 1333.8 L2171.5 1334 L2173 1334.1 L2173 1341.3 L2171.5 1341.3 L2170 1341.3 L2168.5 1341.2 L2167 1341.3 L2165.5 1341.2 L2164 1341.4 L2162.5 1341.4 L2161 1341.2 L2159.5 1341.2 L2158 1341.2 L2156.5 1340.9 L2155 1340.8 L2153.5 1341 L2152 1341 L2150.5 1341.3 L2149 1341.3 L2147.5 1341.2 L2146 1341.3 L2144.5 1341.3 L2143 1341.1 L2141.5 1341 L2140 1341 L2138.5 1341 L2137 1340.8 L2135.5 1340.8 L2134 1340.8 L2132.5 1340.8 L2131 1340.7 L2129.5 1340.7 L2128 1340.7 L2126.5 1340.7 L2125 1340.7 L2123.5 1340.5 L2122 1340.7 L2120.5 1340.6 L2119 1340.4 L2117.5 1340.6 L2116 1340.7 L2114.5 1340.6 L2113 1340.7 L2111.5 1340.7 L2110 1340.6 L2108.5 1340.5 L2107 1340.3 L2105.5 1340.3 L2104 1340.4 L2102.5 1340.2 L2101 1340.2 L2099.5 1340.4 L2098 1340.3 L2096.5 1340.3 L2095 1340.1 L2093.5 1339.9 L2092 1339.9 L2090.5 1339.9 L2089 1339.7 L2087.5 1339.7 L2086 1339.7 L2084.5 1339.7 L2083 1339.7 L2081.5 1339.8 L2080 1339.8 L2078.5 1339.9 L2077 1340 L2075.5 1339.8 L2074 1339.9 L2072.5 1340.1 L2071 1340.2 L2069.5 1339.9 L2068 1340.1 L2066.5 1339.8 L2065 1339.8 L2063.5 1339.5 L2062 1339.3 L2060.5 1339.2 L2059 1339.2 L2057.5 1339.2 L2056 1339.2 L2054.5 1339.3 L2053 1339.4 L2051.5 1339.4 L2050 1339.3 L2048.5 1339.4 L2047 1339.3 L2045.5 1339.5 L2044 1339.6 L2042.5 1339.5 L2041 1339.4 L2039.5 1339.5 L2038 1339.4 L2036.5 1339.3 L2035 1339.2 L2033.5 1339.3 L2032 1339.2 L2030.5 1339.4 L2029 1339.4 L2027.5 1339.3 L2026 1339 L2024.5 1339.1 L2023 1339 L2021.5 1339.1 L2020 1339.1 L2018.5 1339.1 L2017 1339 L2015.5 1339.1 L2014 1339.1 L2012.5 1338.9 L2011 1338.8 L2009.5 1338.7 L2008 1338.7 L2006.5 1338.5 L2005 1338.5 L2003.5 1338.4 L2002 1338.3 L2000.5 1338.2 L1999 1338.2 L1997.5 1338.1 L1996 1338.3 L1994.5 1338.5 L1993 1338.6 L1991.5 1338.8 L1990 1338.8 L1988.5 1338.6 L1987 1338.4 L1985.5 1338.5 L1984 1338.4 L1982.5 1338.3 L1981 1338.2 L1979.5 1338.3 L1978 1338.3 L1976.5 1338.3 L1975 1338 L1973.5 1337.9 L1972 1337.9 L1970.5 1337.9 L1969 1337.9 L1967.5 1337.9 L1966 1337.8 L1964.5 1337.8 L1963 1337.6 L1961.5 1337.6 L1960 1337.5 L1958.5 1337.4 L1957 1337.2 L1955.5 1337.1 L1954 1337.2 L1952.5 1337.2 L1951 1337.2 L1949.5 1337.1 L1948 1337.1 L1946.5 1337.1 L1945 1337.1 L1943.5 1337.1 L1942 1337.1 L1940.5 1337.1 L1939 1336.9 L1937.5 1336.6 L1936 1336.8 L1934.5 1336.8 L1933 1336.7 L1931.5 1336.5 L1930 1336.5 L1928.5 1336.6 L1927 1336.5 L1925.5 1336.4 L1924 1336.3 L1922.5 1336.2 L1921 1336.3 L1919.5 1336.2 L1918 1336.1 L1916.5 1336 L1915 1335.9 L1913.5 1336.1 L1912 1336.2 L1910.5 1336.1 L1909 1336.1 L1907.5 1336.1 L1906 1336.2 L1904.5 1336.2 L1903 1336.1 L1901.5 1335.9 L1900 1335.7 L1898.5 1335.7 L1897 1335.6 L1895.5 1335.5 L1894 1335.4 L1892.5 1335.5 L1891 1335.6 L1889.5 1335.5 L1888 1335.5 L1886.5 1335.6 L1885 1335.4 L1883.5 1335.3 L1882 1335.2 L1880.5 1334.9 L1879 1334.5 L1877.5 1334.5 L1876 1334.4 L1874.5 1334.2 L1873 1334 L1871.5 1333.7 L1870 1333.6 L1868.5 1333.4 L1867 1333 L1865.5 1332.7 L1864 1332.7 L1862.5 1332.4 L1861 1332.3 L1859.5 1332.1 L1858 1332 L1856.5 1331.9 L1855 1331.8 L1853.5 1331.6 L1852 1331.6 L1850.5 1331.6 L1849 1331.5 L1847.5 1331 L1846 1331 L1844.5 1330.8 L1843 1330.4 L1841.5 1330.3 L1840 1330.1 L1838.5 1329.9 L1837 1329.9 L1835.5 1329.9 L1834 1329.7 L1832.5 1329.7 L1831 1329.4 L1829.5 1329.3 L1828 1329.1 L1826.5 1328.8 L1825 1328.6 L1823.5 1328.3 L1822 1328.1 L1820.5 1327.9 L1819 1327.9 L1817.5 1327.7 L1816 1327.7 L1814.5 1327.6 L1813 1327.4 L1811.5 1327.2 L1810 1327 L1808.5 1326.9 L1807 1326.6 L1805.5 1326.4 L1804 1326.2 L1802.5 1326.3 L1801 1326.1 L1799.5 1326 L1798 1325.8 L1796.5 1325.4 L1795 1325.3 L1793.5 1325.1 L1792 1324.7 L1790.5 1324.4 L1789 1324.2 L1787.5 1323.8 L1786 1323.6 L1784.5 1323.4 L1783 1323.2 L1781.5 1323.2 L1780 1323.1 L1778.5 1323.1 L1777 1323.1 L1775.5 1323.1 L1774 1322.8 L1772.5 1322.5 L1771 1322.2 L1769.5 1322.1 L1768 1322 L1766.5 1321.8 L1765 1321.6 L1763.5 1321.5 L1762 1321.4 L1760.5 1321.3 L1759 1321.3 L1757.5 1321 L1756 1320.7 L1754.5 1320.4 L1753 1320.1 L1751.5 1320 L1750 1319.9 L1748.5 1319.9 L1747 1320 L1745.5 1320.2 L1744 1320.3 L1742.5 1320.4 L1741 1320.7 L1739.5 1320.9 L1738 1321.1 L1736.5 1321.4 L1735 1321.3 L1733.5 1321.3 L1732 1321.4 L1730.5 1321.3 L1729 1321.3 L1727.5 1321.5 L1726 1321.5 L1724.5 1321.6 L1723 1322 L1721.5 1322.4 L1720 1322.6 L1718.5 1322.9 L1717 1323 L1715.5 1323.2 L1714 1323.2 L1712.5 1323.4 L1711 1323.4 L1709.5 1323.8 L1708 1323.8 L1706.5 1324.1 L1705 1324.3 L1703.5 1324.4 L1702 1324.3 L1700.5 1324.6 L1699 1324.9 L1697.5 1325 L1696 1325 L1694.5 1325.2 L1693 1325.4 L1691.5 1325.8 L1690 1326.1 L1688.5 1326.3 L1687 1326.4 L1685.5 1326.7 L1684 1326.7 L1682.5 1327 L1681 1327.1 L1679.5 1327.2 L1678 1327.3 L1676.5 1327.7 L1675 1327.6 L1673.5 1327.8 L1672 1327.7 L1670.5 1327.9 L1669 1328.1 L1667.5 1328.2 L1666 1328 L1664.5 1328 L1663 1327.9 L1661.5 1328.1 L1660 1328.1 L1658.5 1328 L1657 1327.7 L1655.5 1327.8 L1654 1327.5 L1652.5 1327.4 L1651 1327.3 L1649.5 1327 L1648 1326.9 L1646.5 1327 L1645 1326.6 L1643.5 1326.7 L1642 1326.8 L1640.5 1326.5 L1639 1326.5 L1637.5 1326.4 L1636 1326.2 L1634.5 1326 L1633 1325.8 L1631.5 1325.3 L1630 1325.4 L1628.5 1325.3 L1627 1325.5 L1625.5 1324.9 L1624 1325.1 L1622.5 1324.9 L1621 1324.7 L1619.5 1324.5 L1618 1324.4 L1616.5 1323.8 L1615 1323.5 L1613.5 1323.2 L1612 1322.7 L1610.5 1322.7 L1609 1322.5 L1607.5 1322.4 L1606 1322.3 L1604.5 1322.2 L1603 1321.8 L1601.5 1321.8 L1600 1321.3 L1598.5 1321.4 L1597 1321.5 L1595.5 1321.4 L1594 1321.1 L1592.5 1320.8 L1591 1320 L1589.5 1319.7 L1588 1319.5 L1586.5 1318.6 L1585 1317.8 L1583.5 1317.6 L1582 1317.6 L1580.5 1317.1 L1579 1316.4 L1577.5 1315.8 L1576 1315.6 L1574.5 1314.7 L1573 1314.2 L1571.5 1314 L1570 1314.6 L1568.5 1314.9 L1567 1314.8 L1565.5 1314.7 L1564 1314.5 L1562.5 1313.2 L1561 1312.7 L1559.5 1312.1 L1558 1311.6 L1556.5 1311.4 L1555 1310.5 L1553.5 1309.4 L1552 1309.9 L1550.5 1310.3 L1549 1309.7 L1547.5 1308.8 L1546 1309.2 L1544.5 1309.6 L1543 1308.5 L1541.5 1307.8 L1540 1307.7 L1538.5 1307.7 L1537 1307 L1535.5 1307.8 L1534 1306.9 L1532.5 1307 L1531 1306.8 L1529.5 1306.2 L1528 1305.5 L1526.5 1305.3 L1525 1304.8 L1523.5 1303.4 L1522 1302.3 L1520.5 1300.4 L1519 1299.1 L1517.5 1298.1 L1516 1297.5 L1514.5 1297.7 L1513 1296.1 L1511.5 1296.5 L1510 1296 L1508.5 1296.2 L1507 1296 L1505.5 1297 L1504 1296 L1502.5 1296.1 L1501 1296.1 L1499.5 1295.9 L1498 1294.2 L1496.5 1291.8 L1495 1290.5 L1493.5 1290.1 L1492 1291.3 L1490.5 1289.8 L1489 1289.8 L1487.5 1291.2 L1486 1292.8 L1484.5 1292.4 L1483 1290 L1481.5 1288.2 L1480 1287.5 L1478.5 1288.7 L1477 1289.3 L1475.5 1288.8 L1474 1286.7 L1472.5 1288.1 L1471 1288.4 L1469.5 1289.1 L1468 1288.7 L1466.5 1286.5 L1465 1285.6 L1463.5 1284.3 L1462 1282.5 L1460.5 1281.8 L1459 1281.4 L1457.5 1279.5 L1456 1280.4 L1454.5 1282 L1453 1282.8 L1451.5 1284.4 L1450 1283.9 L1448.5 1282.8 L1447 1282.5 L1445.5 1280.1 L1444 1277.9 L1442.5 1276.2 L1441 1274 L1439.5 1273.5 L1438 1275 L1436.5 1276.5 L1435 1276.9 L1433.5 1278.8 L1432 1278.5 L1430.5 1279.7 L1429 1277.9 L1427.5 1278.9 L1426 1277.3 L1424.5 1275.9 L1423 1273.9 L1421.5 1274.9 L1420 1271.4 L1418.5 1271.8 L1417 1269.7 L1415.5 1268.7 L1414 1269.3 L1412.5 1269.5 L1411 1268.2 L1409.5 1268 L1408 1267.7 L1406.5 1266.7 L1405 1266.3 L1403.5 1265.4 L1402 1264.2 L1400.5 1262.6 L1399 1260.2 L1397.5 1257.8 L1396 1257 L1394.5 1255.6 L1393 1257 L1391.5 1259.2 L1390 1258.3 L1388.5 1259.8 L1387 1260.5 L1385.5 1259.7 L1384 1259.5 L1382.5 1257 L1381 1257 L1379.5 1257.1 L1378 1253.7 L1376.5 1253.2 L1375 1255.1 L1373.5 1253.4 L1372 1255.7 L1370.5 1254 L1369 1254 L1367.5 1253.4 L1366 1253.5 L1364.5 1252.8 L1363 1252.7 L1361.5 1250.8 L1360 1250.5 L1358.5 1249.4 L1357 1248.3 L1355.5 1248.2 L1354 1247.7 L1352.5 1245 L1351 1246.6 L1349.5 1246.9 L1348 1244.7 L1346.5 1244.3 L1345 1244.2 L1343.5 1244 L1342 1243.9 L1340.5 1243.2 L1339 1241.2 L1337.5 1241.2 L1336 1240.9 L1334.5 1239.8 L1333 1240 L1331.5 1240.4 L1330 1239.3 L1328.5 1238.4 L1327 1238.5 L1325.5 1237.1 L1324 1239.2 L1322.5 1239.7 L1321 1239 L1319.5 1239.2 L1318 1239.5 L1316.5 1239.7 L1315 1240.7 L1313.5 1239.8 L1312 1240.7 L1310.5 1240.7 L1309 1240.8 L1307.5 1238.8 L1306 1240.5 L1304.5 1240.2 L1303 1240.6 L1301.5 1241.4 L1300 1241.3 L1298.5 1240.3 L1297 1238.6 L1295.5 1237.6 L1294 1237.4 L1292.5 1237.3 L1291 1237.5 L1289.5 1238.4 L1288 1239.3 L1286.5 1238.2 L1285 1239.2 L1283.5 1240.2 L1282 1242.6 L1280.5 1243.2 L1279 1242.3 L1277.5 1239.9 L1276 1239.4 L1274.5 1239.8 L1273 1239.2 L1271.5 1238.6 L1270 1240.7 L1268.5 1242.8 L1267 1242 L1265.5 1241.7 L1264 1241.8 L1262.5 1241.8 L1261 1240.5 L1259.5 1241.5 L1258 1242.7 L1256.5 1243 L1255 1243.6 L1253.5 1245.2 L1252 1244.6 L1250.5 1245.8 L1249 1246.7 L1247.5 1246.6 L1246 1246.8 L1244.5 1245.5 L1243 1244 L1241.5 1243.6 L1240 1243.2 L1238.5 1242.9 L1237 1242.6 L1235.5 1243.6 L1234 1242.2 L1232.5 1240.7 L1231 1240.6 L1229.5 1242.4 L1228 1241.5 L1226.5 1242.5 L1225 1242.1 L1223.5 1244.9 L1222 1245 L1220.5 1245.6 L1219 1246.5 L1217.5 1248.9 L1216 1249.2 L1214.5 1248.8 L1213 1248.6 L1211.5 1250 L1210 1247.3 L1208.5 1246.1 L1207 1247.1 L1205.5 1245.2 L1204 1244.7 L1202.5 1246.1 L1201 1247.2 L1199.5 1246.2 L1198 1248.6 L1196.5 1249.8 L1195 1250.6 L1193.5 1250.1 L1192 1249.6 L1190.5 1248.5 L1189 1247.9 L1187.5 1246.4 L1186 1245.4 L1184.5 1245.9 L1183 1247.9 L1181.5 1249.2 L1180 1248.8 L1178.5 1251.2 L1177 1252.4 L1175.5 1252.7 L1174 1252.1 L1172.5 1252.5 L1171 1252.3 L1169.5 1252 L1168 1251.9 L1166.5 1251.8 L1165 1252.6 L1163.5 1254.3 L1162 1254.2 L1160.5 1254.9 L1159 1255.3 L1157.5 1254.5 L1156 1253.6 L1154.5 1252.6 L1153 1250.9 L1151.5 1251.7 L1150 1251.9 L1148.5 1253.9 L1147 1256.2 L1145.5 1256.4 L1144 1255.7 L1142.5 1256.5 L1141 1254 L1139.5 1253.2 L1138 1254.5 L1136.5 1254.5 L1135 1256.7 L1133.5 1258.1 L1132 1257.6 L1130.5 1258.3 L1129 1258.3 L1127.5 1257.9 L1126 1256.5 L1124.5 1258.5 L1123 1260 L1121.5 1260.6 L1120 1260.7 L1118.5 1259 L1117 1257.4 L1115.5 1257 L1114 1256.7 L1112.5 1257.9 L1111 1258.5 L1109.5 1259.7 L1108 1262.5 L1106.5 1261 L1105 1258.8 L1103.5 1258 L1102 1257.6 L1100.5 1257.4 L1099 1258.2 L1097.5 1259.8 L1096 1260.5 L1094.5 1259.9 L1093 1259.8 L1091.5 1260.3 L1090 1259.8 L1088.5 1259.8 L1087 1261.5 L1085.5 1261.7 L1084 1262.9 L1082.5 1263.4 L1081 1263.2 L1079.5 1263.2 L1078 1265.7 L1076.5 1264.4 L1075 1263.8 L1073.5 1264.6 L1072 1263.6 L1070.5 1263.6 L1069 1262.8 L1067.5 1260.5 L1066 1261.2 L1064.5 1261.8 L1063 1261.2 L1061.5 1262 L1060 1263 L1058.5 1263.8 L1057 1264.3 L1055.5 1262.9 L1054 1260.9 L1052.5 1259.6 L1051 1259.9 L1049.5 1260.1 L1048 1260 L1046.5 1260.7 L1045 1261.8 L1043.5 1264.4 L1042 1264.1 L1040.5 1264.8 L1039 1264.3 L1037.5 1265.6 L1036 1265.1 L1034.5 1267 L1033 1267 L1031.5 1267.5 L1030 1268.3 L1028.5 1269.4 L1027 1266.7 L1025.5 1268.5 L1024 1268.8 L1022.5 1267.9 L1021 1267.3 L1019.5 1266.2 L1018 1264.7 L1016.5 1265.4 L1015 1265.2 L1013.5 1266.5 L1012 1266.3 L1010.5 1267.3 L1009 1267.6 L1007.5 1266.9 L1006 1267.8 L1004.5 1268.8 L1003 1269.4 L1001.5 1270.4 L1000 1271.3 L998.5 1273 L997 1272.6 L995.5 1272.4 L994 1270.1 L992.5 1270.4 L991 1267.6 L989.5 1267.7 L988 1269 L986.5 1270.5 L985 1269.6 L983.5 1270.2 L982 1270.7 L980.5 1269.6 L979 1268.9 L977.5 1270 L976 1270.4 L974.5 1270.5 L973 1272 L971.5 1271.4 L970 1272.9 L968.5 1274.1 L967 1274.3 L965.5 1273.8 L964 1273.3 L962.5 1273.3 L961 1273.8 L959.5 1274.2 L958 1273.6 L956.5 1274.2 L955 1274.7 L953.5 1277.7 L952 1279.6 L950.5 1278.9 L949 1279.1 L947.5 1280.3 L946 1278.5 L944.5 1276.6 L943 1274.4 L941.5 1273.2 L940 1273 L938.5 1274.4 L937 1276.5 L935.5 1280.3 L934 1279 L932.5 1278.4 L931 1280.6 L929.5 1280.7 L928 1278.6 L926.5 1279.4 L925 1279.9 L923.5 1281.6 L922 1283.8 L920.5 1284.4 L919 1283.3 L917.5 1283.1 L916 1282 L914.5 1281.3 L913 1281.2 L911.5 1278.7 L910 1276.2 L908.5 1277 L907 1278.2 L905.5 1278.8 L904 1279.8 L902.5 1279.6 L901 1280.5 L899.5 1281.9 L898 1282.3 L896.5 1283 L895 1282.9 L893.5 1282.5 L892 1282.7 L890.5 1282.3 L889 1283.4 L887.5 1283.9 L886 1284.7 L884.5 1283.3 L883 1284.6 L881.5 1283.2 L880 1285.6 L878.5 1285.2 L877 1286.3 L875.5 1283.9 L874 1285.5 L872.5 1283.5 L871 1283.1 L869.5 1281.8 L868 1281.9 L866.5 1282.1 L865 1283.4 L863.5 1283.6 L862 1283.3 L860.5 1284.3 L859 1285.2 L857.5 1286.7 L856 1287.5 L854.5 1286.2 L853 1287.1 L851.5 1287.6 L850 1287.2 L848.5 1288.2 L847 1288.6 L845.5 1289.2 L844 1289.7 L842.5 1290.4 L841 1289.7 L839.5 1290.4 L838 1293.6 L836.5 1291.6 L835 1291 L833.5 1290.8 L832 1289.9 L830.5 1289.7 L829 1293.4 L827.5 1294.2 L826 1295 L824.5 1294.1 L823 1294.7 L821.5 1294 L820 1293.5 L818.5 1292.9 L817 1292.2 L815.5 1291.8 L814 1293.2 L812.5 1292.7 L811 1293 L809.5 1292.8 L808 1292.6 L806.5 1294.7 L805 1294.8 L803.5 1295.3 L802 1295.6 L800.5 1296.1 L799 1296.4 L797.5 1297.2 L796 1297.8 L794.5 1298.3 L793 1297.6 L791.5 1297.4 L790 1297.3 L788.5 1296.3 L787 1295.8 L785.5 1295.4 L784 1294.3 L782.5 1292.8 L781 1294.3 L779.5 1294.2 L778 1294.8 L776.5 1298 L775 1300.3 L773.5 1300 L772 1299.4 L770.5 1299 L769 1300.9 L767.5 1301.5 L766 1301.9 L764.5 1301.5 L763 1302.7 L761.5 1301.5 L760 1301.1 L758.5 1299.2 L757 1299.2 L755.5 1300.2 L754 1299.9 L752.5 1303.1 L751 1304.6 L749.5 1306.1 L748 1306.3 L746.5 1306.4 L745 1304.9 L743.5 1306.3 L742 1305.6 L740.5 1307.8 L739 1305.8 L737.5 1306.6 L736 1307.3 L734.5 1307.1 L733 1308.5 L731.5 1310.7 L730 1310.2 L728.5 1312.3 L727 1313 L725.5 1311.8 L724 1312.4 L722.5 1312.5 L721 1313.6 L719.5 1313.7 L718 1315 L716.5 1317.3 L715 1317.5 L713.5 1318.4 L712 1319.5 L710.5 1318.5 L709 1319.1 L707.5 1322.7 L706 1323 L704.5 1323.2 L703 1323.4 L701.5 1324.8 L700 1326.7 L698.5 1324.8 L697 1322.8 L695.5 1323 L694 1322.7 L692.5 1323.6 L691 1323.7 L689.5 1325.2 L688 1326.4 L686.5 1328.3 L685 1330.4 L683.5 1332.2 L682 1333.4 L680.5 1334.3 L679 1335.9 L677.5 1336 L676 1337.1 L674.5 1337.5 L673 1337 L671.5 1335.4 L670 1335.7 L668.5 1336.2 L667 1338.7 L665.5 1338.4 L664 1338.4 L662.5 1339.5 L661 1341.7 L659.5 1342 L658 1342.7 L656.5 1343.8 L655 1343.3 L653.5 1342.7 L652 1343.3 L650.5 1343.6 L649 1345.1 L647.5 1347.9 L646 1348.5 L644.5 1348.4 L643 1348.1 L641.5 1348.7 L640 1348.8 L638.5 1349.8 L637 1349.6 L635.5 1349.6 L634 1350.8 L632.5 1352.7 L631 1350.8 L629.5 1352.3 L628 1353.8 L626.5 1354.2 L625 1353.9 L623.5 1352.8 L622 1351.6 L620.5 1352.4 L619 1352.3 L617.5 1353 L616 1355.3 L614.5 1355.8 L613 1356 L611.5 1357.5 L610 1358.4 L608.5 1358.3 L607 1359.7 L605.5 1359.9 L604 1359.7 L602.5 1362.9 L601 1362.8 L599.5 1362.7 L598 1364 L596.5 1364.5 L595 1364.1 L593.5 1365.3 L592 1364.3 L590.5 1365.9 L589 1368.3 L587.5 1368.5 L586 1370.8 L584.5 1371.6 L583 1373 L581.5 1372.2 L580 1373.3 L578.5 1373 L577 1374.7 L575.5 1373.7 L574 1373.6 L572.5 1373.6 L571 1374 L569.5 1374.3 L568 1375.3 L566.5 1376.2 L565 1377.5 L563.5 1378.2 L562 1379.6 L560.5 1379.1 L559 1380.3 L557.5 1379.1 L556 1378.6 L554.5 1377.7 L553 1378.2 L551.5 1378 L550 1378.2 L548.5 1379.5 L547 1379.6 L545.5 1380 L544 1380 L542.5 1381.1 L541 1381.3 L539.5 1381.5 L538 1381.6 L536.5 1382.8 L535 1383.5 L533.5 1384.2 L532 1384.9 L530.5 1385.9 L529 1386 L527.5 1386.6 L526 1387 L524.5 1386.8 L523 1386.5 L521.5 1387.3 L520 1386.7 L518.5 1387.4 L517 1387.8 L515.5 1387.6 L514 1387.8 L512.5 1388.8 L511 1389.1 L509.5 1389.8 L508 1390.6 L506.5 1390.6 L505 1391.1 L503.5 1391.9 L502 1392 L500.5 1392 L499 1392.8 L497.5 1393.5 L496 1393.5 L494.5 1393.6 L493 1393.7 L491.5 1393.9 L490 1393.9 L488.5 1394.6 L487 1394.6 L485.5 1395.1 L484 1395.1 L482.5 1395.2 L481 1395.6 L479.5 1396.3 L478 1396.5 L476.5 1396.9 L475 1397.5 L473.5 1397.5 L472 1397.5 L470.5 1397.4 L469 1397.3 L467.5 1397.4 L466 1397.6 L464.5 1397.6 L463 1397.9 L461.5 1398.6 L460 1398.9 L458.5 1399.4 L457 1399.5 L455.5 1399.7 L454 1399.9 L452.5 1399.6 L451 1399.6 L449.5 1399.8 L448 1399.9 L446.5 1399.9 L445 1399.8 L443.5 1399.5 L442 1399.4 L440.5 1399.7 L439 1400.1 L437.5 1400.2 L436 1400.2 L434.5 1400.8 L433 1400.9 L431.5 1401.3 L430 1401.3 L428.5 1401.4 L427 1401.2 L425.5 1401.5 L424 1401.3 L422.5 1401.8 L421 1402.1 L419.5 1402.2 L418 1402 L416.5 1402.3 L415 1402.3 L413.5 1402.7 L412 1402.5 L410.5 1402.9 L409 1403.2 L407.5 1403.2 L406 1403.4 L404.5 1403.8 L403 1403.7 L401.5 1403.8 L400 1403.6 L398.5 1403.6 L397 1403.5 L395.5 1403.4 L394 1403.3 L392.5 1402.8 L391 1402.6 L389.5 1402.6 L388 1402.8 L386.5 1402.7 L385 1402.7 L383.5 1402.6 L382 1402.6 L380.5 1402.8 L379 1402.8 L377.5 1403.1 L376 1403.1 L374.5 1403.3 L373 1403.3 L371.5 1403.6 L370 1403.3 L368.5 1403.6 L367 1403.7 L365.5 1403.6 L364 1403.4 L362.5 1403.7 L361 1403.6 L359.5 1403.6 L358 1403.7 L356.5 1403.7 L355 1403.7 L353.5 1403.7 L352 1403.2 L350.5 1403.1 L349 1403.1 L347.5 1403.2 L346 1402.9 L344.5 1402.8 L343 1403 L341.5 1403.2 L340 1403.2 L338.5 1403.4 L337 1403.5 L335.5 1403.4 L334 1403.6 L332.5 1403.6 L331 1403.4 L329.5 1403.3 L328 1403 L326.5 1403 L325 1403.2 L323.5 1403.3 L322 1403.3 L320.5 1403.2 L319 1403.1 L317.5 1403.1 L316 1403.1 L314.5 1403.2 L313 1403.1 L311.5 1403.1 L310 1403.4 L308.5 1403.8 L307 1403.6 L305.5 1403.7 L304 1403.5 L302.5 1403.3 L301 1403.1 L299.5 1403 L298 1402.9 L296.5 1403.3 L295 1403.3 L293.5 1403.2 L292 1403.3 L290.5 1403.4 L289 1403.5 L287.5 1403.4 L286 1403.2 L284.5 1403.1 L283 1403.1 L281.5 1403.3 L280 1403.1 L278.5 1403.2 L277 1403 L275.5 1403.2 L274 1403.3 L272.5 1403.6 L271 1403.3 L269.5 1403.4 L268 1403.1 L266.5 1403.2 L265 1402.9 L263.5 1402.8 L262 1402.6 L260.5 1402.8 L259 1402.9 L257.5 1402.9 L256 1403.1 L254.5 1403.3 L253 1403.3 L251.5 1403.5 L250 1403.3 L248.5 1403.2 L247 1403.1 L245.5 1402.9 L244 1402.4 L242.5 1402.7 L241 1402.6 L239.5 1402.4 L238 1402.4 L236.5 1402.7 L235 1402.7 L233.5 1402.9 L232 1403 L230.5 1403.1 L229 1403 L227.5 1403.1 L226 1403 L224.5 1402.9 L223 1402.6 L221.5 1402.6 L220 1402.4 L218.5 1402.4 L217 1402.5 L215.5 1402.8 L214 1402.7 L212.5 1402.7 L211 1402.7 L209.5 1403 L208 1403.2 L206.5 1403.2 L205 1403.1 L203.5 1402.9 L202 1402.8 L200.5 1403 L199 1403 L197.5 1402.5 L196 1402 L194.5 1401.8 L193 1401.5 L191.5 1401.1 L190 1401 L188.5 1401 L187 1400.9 L185.5 1400.6 L184 1399.9 L182.5 1399 L181 1398 L179.5 1396.8 L178 1395 L176.5 1393.1 L175 1391.1 L173.5 1389.1 L172 1386.8ZM191.8 1394.5 L194.5 1392 L196.9 1392 L199.6 1394.5 ZM257.1 1396 L259.8 1393.5 L262.2 1393.5 L264.9 1396 ZM288.5 1388.5 L291.2 1386 L293.6 1386 L296.3 1388.5 ZM415.1 1389.5 L417.8 1387 L420.2 1387 L422.9 1389.5 ZM444.8 1388.5 L447.5 1386 L449.9 1386 L452.6 1388.5 ZM490.9 1348.3 L493.6 1345.8 L496 1345.8 L498.7 1348.3 ZM529.6 1355.8 L532.3 1353.3 L534.7 1353.3 L537.4 1355.8 ZM569.8 1285.2 L572.5 1282.7 L574.9 1282.7 L577.6 1285.2 ZM577.1 1321.5 L579.8 1319 L582.2 1319 L584.9 1321.5 ZM611.5 1303.7 L614.2 1301.2 L616.6 1301.2 L619.3 1303.7 ZM624.9 1329 L627.5 1326.5 L630 1326.5 L632.6 1329 ZM647.1 1227.8 L649.8 1225.3 L652.2 1225.3 L654.9 1227.8 ZM656.1 1285.5 L658.8 1283 L661.2 1283 L663.9 1285.5 ZM666.5 1311.1 L669.2 1308.6 L671.6 1308.6 L674.3 1311.1 ZM723.9 1198.1 L726.6 1195.6 L729 1195.6 L731.7 1198.1 ZM737.8 1061.2 L740.5 1058.7 L742.9 1058.7 L745.6 1061.2 ZM741.7 1039.4 L744.4 1036.9 L746.8 1036.9 L749.5 1039.4 ZM744.7 1230.5 L747.4 1228 L749.8 1228 L752.5 1230.5 ZM770.5 1257.5 L773.2 1255 L775.6 1255 L778.3 1257.5 ZM795.3 1166.4 L798 1163.9 L800.4 1163.9 L803.1 1166.4 ZM799.1 1257.5 L801.8 1255 L804.2 1255 L806.9 1257.5 ZM863.8 1138.5 L866.5 1136 L868.9 1136 L871.6 1138.5 ZM886.6 1237.8 L889.3 1235.3 L891.7 1235.3 L894.4 1237.8 ZM915.3 1232.8 L918 1230.3 L920.4 1230.3 L923.1 1232.8 ZM930.2 1154.5 L932.9 1152 L935.3 1152 L938 1154.5 ZM956.1 1248.5 L958.8 1246 L961.2 1246 L963.9 1248.5 ZM981.8 1200.1 L984.5 1197.6 L986.9 1197.6 L989.6 1200.1 ZM993.7 1170.3 L996.4 1167.8 L998.8 1167.8 L1001.5 1170.3 ZM1015.5 1211 L1018.2 1208.5 L1020.6 1208.5 L1023.3 1211 ZM1055.1 1171.3 L1057.8 1168.8 L1060.2 1168.8 L1062.9 1171.3 ZM1084 1226.9 L1086.7 1224.4 L1089.1 1224.4 L1091.8 1226.9 ZM1114.9 1168.1 L1117.6 1165.6 L1120 1165.6 L1122.7 1168.1 ZM1124.9 1225.5 L1127.6 1223 L1130 1223 L1132.7 1225.5 ZM1138.8 1220.5 L1141.5 1218 L1143.9 1218 L1146.6 1220.5 ZM1149.7 1227.5 L1152.4 1225 L1154.8 1225 L1157.5 1227.5 ZM1172.5 1162.2 L1175.2 1159.7 L1177.6 1159.7 L1180.3 1162.2 ZM1188.4 1210.8 L1191.1 1208.3 L1193.5 1208.3 L1196.2 1210.8 ZM1203.1 1216.7 L1205.8 1214.2 L1208.2 1214.2 L1210.9 1216.7 ZM1226.7 1177.1 L1229.4 1174.6 L1231.8 1174.6 L1234.5 1177.1 ZM1244.9 1216.7 L1247.6 1214.2 L1250 1214.2 L1252.7 1216.7 ZM1264.4 1184 L1267.1 1181.5 L1269.5 1181.5 L1272.2 1184 ZM1279.6 1179 L1282.3 1176.5 L1284.7 1176.5 L1287.4 1179 ZM1294.5 1208.8 L1297.2 1206.3 L1299.6 1206.3 L1302.3 1208.8 ZM1302.4 1210.8 L1305.1 1208.3 L1307.5 1208.3 L1310.2 1210.8 ZM1321.3 1202.9 L1324 1200.4 L1326.4 1200.4 L1329.1 1202.9 ZM1335.1 1160.2 L1337.8 1157.7 L1340.2 1157.7 L1342.9 1160.2 ZM1362 1205.8 L1364.7 1203.3 L1367.1 1203.3 L1369.8 1205.8 ZM1376.9 1202.9 L1379.6 1200.4 L1382 1200.4 L1384.7 1202.9 ZM1389.8 1173.1 L1392.5 1170.6 L1394.9 1170.6 L1397.6 1173.1 ZM1410.6 1252.5 L1413.3 1250 L1415.7 1250 L1418.4 1252.5 ZM1431.1 1205.8 L1433.8 1203.3 L1436.2 1203.3 L1438.9 1205.8 ZM1442.1 1252.5 L1444.8 1250 L1447.2 1250 L1449.9 1252.5 ZM1464.1 1263.4 L1466.8 1260.9 L1469.2 1260.9 L1471.9 1263.4 ZM1479.1 1263.4 L1481.8 1260.9 L1484.2 1260.9 L1486.9 1263.4 ZM1516.9 1281.8 L1519.6 1279.3 L1522 1279.3 L1524.7 1281.8 ZM1559.1 1298.2 L1561.8 1295.7 L1564.2 1295.7 L1566.9 1298.2 ZM1572.8 1254.5 L1575.5 1252 L1577.9 1252 L1580.6 1254.5 ZM1577.7 880.2 L1580.4 877.7 L1582.8 877.7 L1585.5 880.2 ZM1604.1 1306.3 L1606.8 1303.8 L1609.2 1303.8 L1611.9 1306.3 ZM1649.1 1208.3 L1651.8 1205.8 L1654.2 1205.8 L1656.9 1208.3 ZM1653.1 1096.7 L1655.8 1094.2 L1658.2 1094.2 L1660.9 1096.7 Z" fill="#efb028"/>
<path d="M195.7 1398.5 V1394.2M261 1399.2 V1395.7M292.4 1399.2 V1388.2M419 1398.4 V1389.2M448.7 1395.9 V1388.2M494.8 1388.7 V1348M533.5 1378.2 V1355.5M573.7 1366.2 V1284.9M581 1363.6 V1321.2M615.4 1349.8 V1303.4M628.8 1344.5 V1328.7M651 1335.6 V1227.5M660 1332 V1285.2M670.4 1327.8 V1310.8M727.8 1302.9 V1197.8M741.7 1298.1 V1060.9M745.6 1296.9 V1039.1M748.6 1296 V1230.2M774.4 1288.3 V1257.2M799.2 1286.1 V1166.1M803 1286 V1257.2M867.7 1278.1 V1138.2M890.5 1275 V1237.5M919.2 1270.7 V1232.5M934.1 1268.8 V1154.2M960 1265.6 V1248.2M985.7 1262.4 V1199.8M997.6 1260.9 V1170M1019.4 1258.7 V1210.7M1059 1254.7 V1171M1087.9 1251.8 V1226.6M1118.8 1248.7 V1167.8M1128.8 1247.7 V1225.2M1142.7 1246.2 V1220.2M1153.6 1244.6 V1227.2M1176.4 1241.1 V1161.9M1192.3 1239.3 V1210.5M1207 1237.8 V1216.4M1230.6 1235.4 V1176.8M1248.8 1233.6 V1216.4M1268.3 1231.9 V1183.7M1283.5 1230.7 V1178.7M1298.4 1229.6 V1208.5M1306.3 1230.2 V1210.5M1325.2 1231.6 V1202.6M1339 1233 V1159.9M1365.9 1243 V1205.5M1380.8 1247.2 V1202.6M1393.7 1249.7 V1172.8M1414.5 1258.8 V1252.2M1435 1267.8 V1205.5M1446 1272.2 V1252.2M1468 1279.5 V1263.1M1483 1283.4 V1263.1M1520.8 1294.8 V1281.5M1563 1308.5 V1297.9M1576.7 1311.9 V1254.2M1581.6 1313.2 V879.9M1608 1318.8 V1306M1653 1323.6 V1208M1657 1323.8 V1096.4M573.7 1319.5 H581M576.2 1365.4 V1319.5M578.7 1364.5 V1319.5M581 1363.6 V1319.5M651 1283.5 H660M653.5 1334.6 V1283.5M656 1333.6 V1283.5M658.5 1332.6 V1283.5M660 1332 V1283.5M741.7 1059.2 H745.6M744.2 1297.3 V1059.2M745.6 1296.9 V1059.2M745.6 1228.5 H748.6M748.1 1296.2 V1228.5M748.6 1296 V1228.5M799.2 1255.5 H803M801.7 1286.1 V1255.5M803 1286 V1255.5M1298.4 1208.8 H1306.3M1300.9 1229.8 V1208.8M1303.4 1230 V1208.8M1305.9 1230.2 V1208.8M1306.3 1230.2 V1208.8M1576.7 1252.5 H1581.6M1579.2 1312.6 V1252.5M1581.6 1313.2 V1252.5M1653 1206.3 H1657M1655.5 1323.7 V1206.3M1657 1323.8 V1206.3" fill="none" stroke="#efb028" stroke-width="7.8" stroke-linecap="butt"/>
<path d="M172 1576.3 L173.5 1575.9 L175 1575.7 L176.5 1576.1 L178 1576 L179.5 1576.2 L181 1576.1 L182.5 1575.7 L184 1575.8 L185.5 1576.1 L187 1576 L188.5 1576.2 L190 1575.7 L191.5 1575.6 L193 1575.9 L194.5 1576.3 L196 1576.3 L197.5 1576.4 L199 1576.2 L200.5 1576.4 L202 1576.7 L203.5 1576.5 L205 1576.6 L206.5 1576.1 L208 1575.9 L209.5 1576 L211 1576 L212.5 1576.1 L214 1576.1 L215.5 1576 L217 1576.6 L218.5 1576.4 L220 1576.1 L221.5 1576.1 L223 1576.3 L224.5 1576.5 L226 1576.4 L227.5 1576.6 L229 1576.2 L230.5 1576 L232 1576.4 L233.5 1576.4 L235 1576.4 L236.5 1576.4 L238 1576.1 L239.5 1576.2 L241 1576.1 L242.5 1576.1 L244 1575.6 L245.5 1576 L247 1576.1 L248.5 1576.6 L250 1576.4 L251.5 1576.4 L253 1576.4 L254.5 1576.3 L256 1576.2 L257.5 1576.5 L259 1576.4 L260.5 1576.2 L262 1576 L263.5 1576.2 L265 1576.2 L266.5 1576.5 L268 1576.1 L269.5 1575.9 L271 1575.7 L272.5 1576 L274 1575.8 L275.5 1575.8 L277 1575.9 L278.5 1576.1 L280 1576 L281.5 1576.1 L283 1576.5 L284.5 1576.2 L286 1576.1 L287.5 1576.1 L289 1576.4 L290.5 1576.1 L292 1575.7 L293.5 1575.9 L295 1575.9 L296.5 1575.7 L298 1575.7 L299.5 1575.8 L301 1576.1 L302.5 1576 L304 1576.2 L305.5 1576.3 L307 1576 L308.5 1575.7 L310 1575.8 L311.5 1575.8 L313 1576.1 L314.5 1575.9 L316 1575.4 L317.5 1575.7 L319 1576.1 L320.5 1575.8 L322 1575.4 L323.5 1575.7 L325 1576.2 L326.5 1576.2 L328 1575.9 L329.5 1576.2 L331 1576 L332.5 1576.4 L334 1576 L335.5 1576 L337 1575.7 L338.5 1576 L340 1576.4 L341.5 1576.3 L343 1576.2 L344.5 1576.2 L346 1576.5 L347.5 1576.8 L349 1576.5 L350.5 1576.6 L352 1576.1 L353.5 1576 L355 1576.4 L356.5 1576.4 L358 1576.8 L359.5 1576.2 L361 1576.5 L362.5 1576.8 L364 1576.6 L365.5 1576.5 L367 1576.4 L368.5 1575.8 L370 1576 L371.5 1576.3 L373 1575.9 L374.5 1576.2 L376 1576.2 L377.5 1576.4 L379 1576.4 L380.5 1576.3 L382 1576.4 L383.5 1576.3 L385 1576.3 L386.5 1576.1 L388 1576.1 L389.5 1576.5 L391 1576.3 L392.5 1576.1 L394 1575.9 L395.5 1575.6 L397 1575.7 L398.5 1575.3 L400 1575.6 L401.5 1575.8 L403 1576.1 L404.5 1576.1 L406 1575.7 L407.5 1575.8 L409 1575.8 L410.5 1576.2 L412 1576.3 L413.5 1576.2 L415 1576 L416.5 1575.8 L418 1575.8 L419.5 1576.3 L421 1576.3 L422.5 1576.2 L424 1576.1 L425.5 1575.9 L427 1576 L428.5 1576 L430 1575.7 L431.5 1575.6 L433 1575.3 L434.5 1575.7 L436 1575.8 L437.5 1576 L439 1576.3 L440.5 1576.3 L442 1575.8 L443.5 1576 L445 1575.9 L446.5 1576 L448 1576.3 L449.5 1576 L451 1576.1 L452.5 1576.4 L454 1576.5 L455.5 1576.4 L457 1576.5 L458.5 1575.9 L460 1575.6 L461.5 1575.8 L463 1576.1 L464.5 1576.3 L466 1575.9 L467.5 1575.3 L469 1575.7 L470.5 1576 L472 1575.7 L473.5 1575.9 L475 1576 L476.5 1576.2 L478 1576.6 L479.5 1576.5 L481 1576.1 L482.5 1575.4 L484 1575.9 L485.5 1575.6 L487 1575.5 L488.5 1575.9 L490 1575.7 L491.5 1575.9 L493 1575.6 L494.5 1575.5 L496 1575.3 L497.5 1575.1 L499 1574.2 L500.5 1574.2 L502 1574.7 L503.5 1574.4 L505 1573.8 L506.5 1573.5 L508 1573.9 L509.5 1574.2 L511 1574.4 L512.5 1574.2 L514 1574.1 L515.5 1573.2 L517 1572.8 L518.5 1573.5 L520 1573.4 L521.5 1573.2 L523 1572.7 L524.5 1572.5 L526 1571.7 L527.5 1572.6 L529 1572.9 L530.5 1572.9 L532 1571.6 L533.5 1571.7 L535 1572.8 L536.5 1572.7 L538 1572.3 L539.5 1572 L541 1570.8 L542.5 1571.3 L544 1572.6 L545.5 1572.4 L547 1571.2 L548.5 1570.4 L550 1570.6 L551.5 1570.3 L553 1569.4 L554.5 1568.6 L556 1569.1 L557.5 1569.6 L559 1569.9 L560.5 1569.3 L562 1568.9 L563.5 1568.8 L565 1568.8 L566.5 1568.3 L568 1568.4 L569.5 1568.4 L571 1568.8 L572.5 1566.2 L574 1566.2 L575.5 1566.5 L577 1565.7 L578.5 1564.8 L580 1563.7 L581.5 1564.7 L583 1565.7 L584.5 1566.8 L586 1566.2 L587.5 1564.9 L589 1563.7 L590.5 1565 L592 1563.8 L593.5 1562.7 L595 1562.3 L596.5 1563.2 L598 1561.1 L599.5 1562.2 L601 1562.6 L602.5 1563 L604 1561.7 L605.5 1561 L607 1561.4 L608.5 1562.9 L610 1562.2 L611.5 1563 L613 1561.8 L614.5 1560.3 L616 1561.3 L617.5 1562 L619 1561.8 L620.5 1560.5 L622 1559.5 L623.5 1560.7 L625 1561 L626.5 1561.7 L628 1560.6 L629.5 1561.7 L631 1561 L632.5 1559.6 L634 1558 L635.5 1558.8 L637 1559 L638.5 1559 L640 1559.5 L641.5 1558.8 L643 1558.4 L644.5 1558.2 L646 1558.8 L647.5 1559.5 L649 1559.5 L650.5 1558.6 L652 1559 L653.5 1557.9 L655 1558 L656.5 1557.7 L658 1556.5 L659.5 1555.7 L661 1555.9 L662.5 1555.9 L664 1555.3 L665.5 1554.2 L667 1553.8 L668.5 1554.4 L670 1553.6 L671.5 1552.9 L673 1553.4 L674.5 1554.5 L676 1554.6 L677.5 1554.5 L679 1553.5 L680.5 1553 L682 1551 L683.5 1549.5 L685 1550.4 L686.5 1550.7 L688 1550.8 L689.5 1548.9 L691 1549.4 L692.5 1550.1 L694 1550.8 L695.5 1550.2 L697 1550.6 L698.5 1549.9 L700 1548.7 L701.5 1548.6 L703 1548.6 L704.5 1549.4 L706 1548.5 L707.5 1547.2 L709 1546.9 L710.5 1548.1 L712 1548.3 L713.5 1547.3 L715 1546.7 L716.5 1545.4 L718 1544.4 L719.5 1544.5 L721 1545.3 L722.5 1545.7 L724 1544.8 L725.5 1543.9 L727 1543.5 L728.5 1544.6 L730 1544.1 L731.5 1545.1 L733 1543.4 L734.5 1543 L736 1543.7 L737.5 1541.8 L739 1539.4 L740.5 1540.1 L742 1540.5 L743.5 1541.1 L745 1540.9 L746.5 1539.6 L748 1538.3 L749.5 1538.2 L751 1539.7 L752.5 1538.8 L754 1539.7 L755.5 1540.7 L757 1540.3 L758.5 1540.8 L760 1540.1 L761.5 1538.9 L763 1538.3 L764.5 1539 L766 1540 L767.5 1539.8 L769 1539.2 L770.5 1539.5 L772 1540.2 L773.5 1539.4 L775 1539.5 L776.5 1539.1 L778 1539.3 L779.5 1539.4 L781 1537.3 L782.5 1538.8 L784 1539.3 L785.5 1539 L787 1538.5 L788.5 1537.7 L790 1536.6 L791.5 1537.3 L793 1537.6 L794.5 1539 L796 1537.9 L797.5 1537.2 L799 1538 L800.5 1538.3 L802 1538.2 L803.5 1537.8 L805 1537.2 L806.5 1534.5 L808 1534.4 L809.5 1536.1 L811 1535.5 L812.5 1535.1 L814 1535.2 L815.5 1535.7 L817 1534.7 L818.5 1534.4 L820 1535.3 L821.5 1534.9 L823 1532.3 L824.5 1534.5 L826 1536.3 L827.5 1535.6 L829 1535 L830.5 1535.2 L832 1534.3 L833.5 1534.3 L835 1535.1 L836.5 1534.6 L838 1534.5 L839.5 1533.7 L841 1532.3 L842.5 1533.9 L844 1535.2 L845.5 1534.3 L847 1534 L848.5 1532.4 L850 1531 L851.5 1533.2 L853 1533.1 L854.5 1533.4 L856 1533.1 L857.5 1532.9 L859 1531.9 L860.5 1531.7 L862 1532.7 L863.5 1532.2 L865 1532.3 L866.5 1530.9 L868 1530.1 L869.5 1531.8 L871 1532.9 L872.5 1530.7 L874 1529.7 L875.5 1531.4 L877 1532.7 L878.5 1531.2 L880 1529.8 L881.5 1530.1 L883 1530.1 L884.5 1530.3 L886 1529.9 L887.5 1529.5 L889 1527.8 L890.5 1526.9 L892 1528.5 L893.5 1529.4 L895 1529.1 L896.5 1527.6 L898 1528 L899.5 1528.1 L901 1528.5 L902.5 1526.3 L904 1525.7 L905.5 1527.4 L907 1527.7 L908.5 1528.3 L910 1528.4 L911.5 1526.7 L913 1526.2 L914.5 1526.8 L916 1526.5 L917.5 1526.2 L919 1525 L920.5 1523.8 L922 1525.4 L923.5 1525.9 L925 1524.2 L926.5 1523.7 L928 1524.4 L929.5 1525.4 L931 1525.2 L932.5 1526.6 L934 1526.7 L935.5 1527.2 L937 1526.5 L938.5 1526.4 L940 1525.7 L941.5 1526 L943 1526.2 L944.5 1525.8 L946 1525.4 L947.5 1524.3 L949 1524.6 L950.5 1525.3 L952 1525.1 L953.5 1524.9 L955 1525.2 L956.5 1526.3 L958 1525.1 L959.5 1523.7 L961 1524.6 L962.5 1525.8 L964 1526.4 L965.5 1525.6 L967 1525.1 L968.5 1524.2 L970 1524.4 L971.5 1525.2 L973 1523.8 L974.5 1524.1 L976 1525.2 L977.5 1523.7 L979 1523.4 L980.5 1525.1 L982 1525.7 L983.5 1524 L985 1522.4 L986.5 1523.8 L988 1524.6 L989.5 1523.7 L991 1523.4 L992.5 1524.4 L994 1524.6 L995.5 1524.4 L997 1523.2 L998.5 1523 L1000 1523.8 L1001.5 1523.9 L1003 1525.2 L1004.5 1524.2 L1006 1523.7 L1007.5 1524.6 L1009 1524.4 L1010.5 1524.2 L1012 1523 L1013.5 1521.5 L1015 1520.3 L1016.5 1521.6 L1018 1522.5 L1019.5 1522.4 L1021 1521.2 L1022.5 1520.2 L1024 1521.6 L1025.5 1521.6 L1027 1519.7 L1028.5 1522 L1030 1522.6 L1031.5 1520.5 L1033 1521.9 L1034.5 1523 L1036 1522.4 L1037.5 1522.5 L1039 1522.4 L1040.5 1521.4 L1042 1521.1 L1043.5 1522.7 L1045 1523.3 L1046.5 1523 L1048 1522.2 L1049.5 1521 L1051 1520.8 L1052.5 1521.4 L1054 1522.2 L1055.5 1521.5 L1057 1521.3 L1058.5 1521.8 L1060 1518.8 L1061.5 1520.2 L1063 1521.6 L1064.5 1521.4 L1066 1521.3 L1067.5 1520.2 L1069 1521 L1070.5 1522.4 L1072 1522.1 L1073.5 1522 L1075 1520.8 L1076.5 1520.3 L1078 1520.6 L1079.5 1521.2 L1081 1521.9 L1082.5 1521.2 L1084 1520.1 L1085.5 1519.5 L1087 1519.5 L1088.5 1520.2 L1090 1520.9 L1091.5 1519.7 L1093 1518 L1094.5 1518.6 L1096 1520.5 L1097.5 1521 L1099 1519.9 L1100.5 1519.3 L1102 1517.8 L1103.5 1518.7 L1105 1519 L1106.5 1520.3 L1108 1519.3 L1109.5 1518.5 L1111 1517.5 L1112.5 1518.8 L1114 1519.8 L1115.5 1520.5 L1117 1519.8 L1118.5 1518.5 L1120 1518.9 L1121.5 1519.6 L1123 1519.4 L1124.5 1519.1 L1126 1518.9 L1127.5 1519.3 L1129 1519.1 L1130.5 1518.7 L1132 1518.4 L1133.5 1518.8 L1135 1518.7 L1136.5 1517.7 L1138 1517.5 L1139.5 1519.2 L1141 1519.5 L1142.5 1519 L1144 1518.1 L1145.5 1517.2 L1147 1518.3 L1148.5 1518.7 L1150 1519.8 L1151.5 1519.1 L1153 1519.3 L1154.5 1518.9 L1156 1518.3 L1157.5 1517.4 L1159 1516.9 L1160.5 1517.4 L1162 1517.3 L1163.5 1517.8 L1165 1517.9 L1166.5 1518 L1168 1517.5 L1169.5 1516 L1171 1515.3 L1172.5 1516.6 L1174 1518.6 L1175.5 1518.1 L1177 1517.7 L1178.5 1517.3 L1180 1517.9 L1181.5 1517.5 L1183 1515 L1184.5 1516.2 L1186 1518.2 L1187.5 1517.3 L1189 1516.8 L1190.5 1515.9 L1192 1516.1 L1193.5 1517.3 L1195 1516.6 L1196.5 1516.5 L1198 1515.9 L1199.5 1515.9 L1201 1515.9 L1202.5 1515.8 L1204 1516.4 L1205.5 1516 L1207 1515.8 L1208.5 1516.7 L1210 1517.5 L1211.5 1517.6 L1213 1515.7 L1214.5 1515.3 L1216 1516.9 L1217.5 1517.5 L1219 1516.9 L1220.5 1515.4 L1222 1516.1 L1223.5 1516.3 L1225 1515.5 L1226.5 1515.7 L1228 1514.9 L1229.5 1515.3 L1231 1515.5 L1232.5 1514.9 L1234 1515.9 L1235.5 1514.7 L1237 1514.3 L1238.5 1515.1 L1240 1515.7 L1241.5 1516 L1243 1516.1 L1244.5 1516.7 L1246 1514.4 L1247.5 1514.2 L1249 1515.5 L1250.5 1514.8 L1252 1515.4 L1253.5 1514.5 L1255 1515.9 L1256.5 1514.7 L1258 1513.7 L1259.5 1515.2 L1261 1515.3 L1262.5 1514 L1264 1511.8 L1265.5 1513.8 L1267 1514.1 L1268.5 1514.1 L1270 1514.2 L1271.5 1513.8 L1273 1512.4 L1274.5 1513.2 L1276 1513.7 L1277.5 1513.5 L1279 1512.6 L1280.5 1510.7 L1282 1510.6 L1283.5 1512.2 L1285 1512.6 L1286.5 1512.5 L1288 1511.5 L1289.5 1512.1 L1291 1512.5 L1292.5 1512.4 L1294 1511 L1295.5 1511.8 L1297 1512.7 L1298.5 1513.2 L1300 1513.6 L1301.5 1512.2 L1303 1510.6 L1304.5 1510.6 L1306 1512.1 L1307.5 1513.5 L1309 1514.3 L1310.5 1512.2 L1312 1510.6 L1313.5 1511.4 L1315 1513.7 L1316.5 1513.6 L1318 1512.3 L1319.5 1511.1 L1321 1511.5 L1322.5 1512.3 L1324 1513.1 L1325.5 1512.6 L1327 1511.3 L1328.5 1511.2 L1330 1512.1 L1331.5 1512.9 L1333 1512.6 L1334.5 1511 L1336 1509.8 L1337.5 1510.2 L1339 1512.6 L1340.5 1513.1 L1342 1512 L1343.5 1512.5 L1345 1511.3 L1346.5 1511.6 L1348 1511.6 L1349.5 1512.4 L1351 1513.8 L1352.5 1513 L1354 1512.8 L1355.5 1512.3 L1357 1514.1 L1358.5 1514.2 L1360 1512.5 L1361.5 1513.4 L1363 1515.1 L1364.5 1516.8 L1366 1516.1 L1367.5 1515 L1369 1516.7 L1370.5 1517 L1372 1516.1 L1373.5 1515.6 L1375 1516 L1376.5 1516.6 L1378 1517.2 L1379.5 1518.5 L1381 1517.7 L1382.5 1517.5 L1384 1517.6 L1385.5 1518.6 L1387 1518.7 L1388.5 1519 L1390 1518.4 L1391.5 1517.2 L1393 1517.4 L1394.5 1519.6 L1396 1520.7 L1397.5 1521.6 L1399 1521.3 L1400.5 1521.7 L1402 1521.1 L1403.5 1521.7 L1405 1523 L1406.5 1522 L1408 1521.6 L1409.5 1520.8 L1411 1520.5 L1412.5 1520.4 L1414 1521.7 L1415.5 1521.7 L1417 1520.4 L1418.5 1521 L1420 1523.2 L1421.5 1522.9 L1423 1522.3 L1424.5 1523.4 L1426 1524.4 L1427.5 1525.1 L1429 1525.6 L1430.5 1525.8 L1432 1525.1 L1433.5 1526.6 L1435 1526.5 L1436.5 1526.6 L1438 1527.2 L1439.5 1527.1 L1441 1527.1 L1442.5 1527.7 L1444 1527.3 L1445.5 1526.1 L1447 1526.1 L1448.5 1528.1 L1450 1529.1 L1451.5 1528.7 L1453 1528.6 L1454.5 1528.3 L1456 1528.1 L1457.5 1527 L1459 1528.8 L1460.5 1529 L1462 1529.1 L1463.5 1528.2 L1465 1526.4 L1466.5 1527.6 L1468 1528.8 L1469.5 1529.7 L1471 1529.4 L1472.5 1528.2 L1474 1528.9 L1475.5 1530.5 L1477 1530.8 L1478.5 1530.8 L1480 1530.2 L1481.5 1529.1 L1483 1530.8 L1484.5 1530.3 L1486 1528.9 L1487.5 1530 L1489 1530.8 L1490.5 1531.7 L1492 1531.1 L1493.5 1530.4 L1495 1530.3 L1496.5 1531.8 L1498 1532.9 L1499.5 1533.9 L1501 1532.7 L1502.5 1532.3 L1504 1530.9 L1505.5 1531 L1507 1531.6 L1508.5 1532.4 L1510 1531.8 L1511.5 1531.2 L1513 1532.7 L1514.5 1533.1 L1516 1533.6 L1517.5 1533.3 L1519 1532.9 L1520.5 1533.5 L1522 1535.3 L1523.5 1535.6 L1525 1535.2 L1526.5 1533.7 L1528 1534.7 L1529.5 1536.1 L1531 1535.2 L1532.5 1534.7 L1534 1535 L1535.5 1536.6 L1537 1536.5 L1538.5 1536.3 L1540 1536.4 L1541.5 1536.9 L1543 1537.1 L1544.5 1537.4 L1546 1537 L1547.5 1537.2 L1549 1537.8 L1550.5 1538 L1552 1537.6 L1553.5 1537.3 L1555 1538.1 L1556.5 1538.6 L1558 1539.1 L1559.5 1539 L1561 1539.2 L1562.5 1539 L1564 1539.1 L1565.5 1539.2 L1567 1539.1 L1568.5 1538.8 L1570 1539.3 L1571.5 1539.6 L1573 1539.3 L1574.5 1538.8 L1576 1538.8 L1577.5 1538.4 L1579 1538.7 L1580.5 1539.3 L1582 1538.8 L1583.5 1539.4 L1585 1539.8 L1586.5 1539.8 L1588 1540 L1589.5 1539.7 L1591 1539.3 L1592.5 1539.2 L1594 1539.4 L1595.5 1539.8 L1597 1539.4 L1598.5 1539.2 L1600 1539.5 L1601.5 1539.3 L1603 1539.2 L1604.5 1539.6 L1606 1539.4 L1607.5 1539.2 L1609 1539.8 L1610.5 1540.4 L1612 1540.1 L1613.5 1539.6 L1615 1538.8 L1616.5 1539.3 L1618 1540 L1619.5 1540.1 L1621 1539.5 L1622.5 1539.3 L1624 1539.7 L1625.5 1540.1 L1627 1540.3 L1628.5 1540.4 L1630 1540.1 L1631.5 1540.1 L1633 1540.3 L1634.5 1540.4 L1636 1540.4 L1637.5 1540.3 L1639 1540 L1640.5 1540.1 L1642 1540.1 L1643.5 1539.7 L1645 1539.3 L1646.5 1539.8 L1648 1539.8 L1649.5 1539.6 L1651 1539.6 L1652.5 1539.7 L1654 1539.8 L1655.5 1539.3 L1657 1539.3 L1658.5 1538.9 L1660 1538.8 L1661.5 1538.6 L1663 1538.6 L1664.5 1538.6 L1666 1538.3 L1667.5 1538.8 L1669 1538.8 L1670.5 1538.6 L1672 1538.6 L1673.5 1538.3 L1675 1537.9 L1676.5 1537.8 L1678 1537.7 L1679.5 1537.2 L1681 1537 L1682.5 1536.9 L1684 1536.8 L1685.5 1536.9 L1687 1536.5 L1688.5 1535.9 L1690 1535.5 L1691.5 1535.7 L1693 1535.8 L1694.5 1535.2 L1696 1535 L1697.5 1534.7 L1699 1534.6 L1700.5 1534.6 L1702 1534.4 L1703.5 1534.3 L1705 1534 L1706.5 1533.7 L1708 1533.7 L1709.5 1533.6 L1711 1533.3 L1712.5 1532.7 L1714 1532.4 L1715.5 1532.1 L1717 1532.1 L1718.5 1531.8 L1720 1531.6 L1721.5 1531.5 L1723 1531 L1724.5 1530.8 L1726 1530.8 L1727.5 1530.7 L1729 1530.5 L1730.5 1530.3 L1732 1530 L1733.5 1529.9 L1735 1529.9 L1736.5 1529.8 L1738 1529.4 L1739.5 1529.4 L1741 1529.3 L1742.5 1529.1 L1744 1529.3 L1745.5 1528.6 L1747 1528.3 L1748.5 1528.6 L1750 1528.1 L1751.5 1527.9 L1753 1527.5 L1754.5 1527.5 L1756 1527.4 L1757.5 1527.5 L1759 1527.2 L1760.5 1526.9 L1762 1526.6 L1763.5 1526.5 L1765 1526.5 L1766.5 1526.9 L1768 1526.9 L1769.5 1526.9 L1771 1526.7 L1772.5 1526.9 L1774 1526.8 L1775.5 1526.8 L1777 1526.8 L1778.5 1526.8 L1780 1526.4 L1781.5 1526.2 L1783 1526.5 L1784.5 1526.8 L1786 1526.7 L1787.5 1526.7 L1789 1526.9 L1790.5 1526.7 L1792 1526.9 L1793.5 1527.2 L1795 1527.4 L1796.5 1527.6 L1798 1527.2 L1799.5 1527.4 L1801 1527.8 L1802.5 1527.6 L1804 1527.5 L1805.5 1527.5 L1807 1527.8 L1808.5 1527.7 L1810 1527.8 L1811.5 1528 L1813 1528.3 L1814.5 1527.9 L1816 1527.8 L1817.5 1527.7 L1819 1528.1 L1820.5 1528.2 L1822 1528.3 L1823.5 1528.6 L1825 1528.5 L1826.5 1528.5 L1828 1528.7 L1829.5 1528.8 L1831 1528.9 L1832.5 1528.8 L1834 1528.6 L1835.5 1528.5 L1837 1528.7 L1838.5 1528.8 L1840 1528.8 L1841.5 1529 L1843 1529.1 L1844.5 1529.3 L1846 1529.3 L1847.5 1529.5 L1849 1529.7 L1850.5 1529.6 L1852 1529.8 L1853.5 1529.7 L1855 1529.5 L1856.5 1529.5 L1858 1529.7 L1859.5 1529.6 L1861 1529.6 L1862.5 1529.6 L1864 1530 L1865.5 1530.2 L1867 1530.3 L1868.5 1530 L1870 1530.1 L1871.5 1530.3 L1873 1530.8 L1874.5 1530.7 L1876 1530.8 L1877.5 1530.4 L1879 1530.5 L1880.5 1530.9 L1882 1530.8 L1883.5 1530.9 L1885 1530.6 L1886.5 1530.5 L1888 1530.9 L1889.5 1531 L1891 1530.7 L1892.5 1531.1 L1894 1531.4 L1895.5 1531.2 L1897 1531.2 L1898.5 1531 L1900 1531.3 L1901.5 1531.2 L1903 1531.1 L1904.5 1531.1 L1906 1531 L1907.5 1531.2 L1909 1531.1 L1910.5 1531.2 L1912 1531.1 L1913.5 1531.2 L1915 1531.4 L1916.5 1531.7 L1918 1531.6 L1919.5 1531.5 L1921 1531.9 L1922.5 1532.2 L1924 1532.1 L1925.5 1532.4 L1927 1532.1 L1928.5 1532.4 L1930 1532.4 L1931.5 1532.3 L1933 1532.1 L1934.5 1531.9 L1936 1531.9 L1937.5 1532.1 L1939 1532.3 L1940.5 1532.3 L1942 1532.2 L1943.5 1532.1 L1945 1532.4 L1946.5 1532.5 L1948 1532.6 L1949.5 1532.3 L1951 1532.3 L1952.5 1532.1 L1954 1532.1 L1955.5 1532.6 L1957 1532.6 L1958.5 1532.3 L1960 1532.8 L1961.5 1532.5 L1963 1532.4 L1964.5 1532.4 L1966 1532.4 L1967.5 1532.4 L1969 1532.2 L1970.5 1532.2 L1972 1532.4 L1973.5 1532.3 L1975 1532.3 L1976.5 1531.9 L1978 1532.2 L1979.5 1532.4 L1981 1532.4 L1982.5 1532.5 L1984 1532.7 L1985.5 1532.8 L1987 1532.6 L1988.5 1532.7 L1990 1532.9 L1991.5 1532.8 L1993 1532.9 L1994.5 1532.9 L1996 1532.7 L1997.5 1532.9 L1999 1532.8 L2000.5 1532.9 L2002 1532.9 L2003.5 1533.1 L2005 1532.9 L2006.5 1532.8 L2008 1532.9 L2009.5 1533.1 L2011 1533.1 L2012.5 1532.8 L2014 1532.8 L2015.5 1533 L2017 1533.2 L2018.5 1533.1 L2020 1533.1 L2021.5 1533 L2023 1533.2 L2024.5 1533.2 L2026 1533.4 L2027.5 1533.3 L2029 1533.3 L2030.5 1533.4 L2032 1533.2 L2033.5 1533.4 L2035 1533.6 L2036.5 1533.6 L2038 1533.6 L2039.5 1533.3 L2041 1533.2 L2042.5 1533.4 L2044 1533.3 L2045.5 1533.3 L2047 1533.2 L2048.5 1533.1 L2050 1533.1 L2051.5 1533.1 L2053 1533 L2054.5 1532.9 L2056 1533.2 L2057.5 1533.1 L2059 1533 L2060.5 1533.5 L2062 1533.6 L2063.5 1533.5 L2065 1533.5 L2066.5 1533.4 L2068 1533.5 L2069.5 1533.3 L2071 1533.1 L2072.5 1533.5 L2074 1533.3 L2075.5 1533.4 L2077 1533.5 L2078.5 1533.4 L2080 1533.4 L2081.5 1533.3 L2083 1533.2 L2084.5 1533.3 L2086 1533.3 L2087.5 1533.4 L2089 1533.4 L2090.5 1533.7 L2092 1533.6 L2093.5 1533.6 L2095 1533.8 L2096.5 1533.7 L2098 1533.6 L2099.5 1533.5 L2101 1533.4 L2102.5 1533.6 L2104 1533.4 L2105.5 1533.5 L2107 1533.6 L2108.5 1533.9 L2110 1534 L2111.5 1534 L2113 1534.1 L2114.5 1534.1 L2116 1534.2 L2117.5 1534.2 L2119 1534.3 L2120.5 1534.1 L2122 1534.2 L2123.5 1534 L2125 1534 L2126.5 1534.3 L2128 1534.2 L2129.5 1534 L2131 1533.9 L2132.5 1534.1 L2134 1534.1 L2135.5 1534 L2137 1534.1 L2138.5 1534.1 L2140 1534.1 L2141.5 1534.2 L2143 1534 L2144.5 1533.9 L2146 1534 L2147.5 1534 L2149 1534.1 L2150.5 1534.1 L2152 1534 L2153.5 1534.3 L2155 1534.2 L2156.5 1534.3 L2158 1534.2 L2159.5 1534 L2161 1534.1 L2162.5 1534.1 L2164 1534 L2165.5 1534.1 L2167 1534.2 L2168.5 1534.3 L2170 1534.3 L2171.5 1534.3 L2173 1534.4 L2173 1541.5 L2171.5 1541.4 L2170 1541.5 L2168.5 1541.4 L2167 1541.2 L2165.5 1541.1 L2164 1541.2 L2162.5 1541.2 L2161 1541.1 L2159.5 1541.1 L2158 1541.1 L2156.5 1541.2 L2155 1541.2 L2153.5 1541.4 L2152 1541.3 L2150.5 1541.2 L2149 1541.1 L2147.5 1541 L2146 1541.1 L2144.5 1541.1 L2143 1541.2 L2141.5 1541.4 L2140 1541.4 L2138.5 1541.4 L2137 1541.4 L2135.5 1541.4 L2134 1541.2 L2132.5 1541.2 L2131 1541.1 L2129.5 1541.2 L2128 1541.1 L2126.5 1541.2 L2125 1541.2 L2123.5 1541.3 L2122 1541.3 L2120.5 1541.2 L2119 1541.3 L2117.5 1541.2 L2116 1541.2 L2114.5 1541.1 L2113 1541 L2111.5 1541 L2110 1540.9 L2108.5 1540.8 L2107 1540.7 L2105.5 1540.7 L2104 1540.7 L2102.5 1540.7 L2101 1540.5 L2099.5 1540.6 L2098 1540.7 L2096.5 1540.7 L2095 1540.7 L2093.5 1540.6 L2092 1540.7 L2090.5 1540.8 L2089 1540.7 L2087.5 1540.6 L2086 1540.6 L2084.5 1540.7 L2083 1540.7 L2081.5 1540.7 L2080 1540.7 L2078.5 1540.6 L2077 1540.7 L2075.5 1540.6 L2074 1540.4 L2072.5 1540.5 L2071 1540.5 L2069.5 1540.6 L2068 1540.6 L2066.5 1540.5 L2065 1540.7 L2063.5 1540.7 L2062 1540.7 L2060.5 1540.6 L2059 1540.4 L2057.5 1540.3 L2056 1540.4 L2054.5 1540.2 L2053 1540.2 L2051.5 1540.1 L2050 1540.2 L2048.5 1540.2 L2047 1540.2 L2045.5 1540.3 L2044 1540.3 L2042.5 1540.4 L2041 1540.4 L2039.5 1540.6 L2038 1540.6 L2036.5 1540.6 L2035 1540.6 L2033.5 1540.5 L2032 1540.5 L2030.5 1540.4 L2029 1540.5 L2027.5 1540.4 L2026 1540.5 L2024.5 1540.3 L2023 1540.3 L2021.5 1540.3 L2020 1540.3 L2018.5 1540.3 L2017 1540.3 L2015.5 1540.3 L2014 1540.1 L2012.5 1540.1 L2011 1540.2 L2009.5 1540.1 L2008 1540.2 L2006.5 1540 L2005 1540.1 L2003.5 1540.1 L2002 1540 L2000.5 1540 L1999 1540.1 L1997.5 1540.1 L1996 1540 L1994.5 1540 L1993 1539.9 L1991.5 1539.9 L1990 1539.8 L1988.5 1539.8 L1987 1539.9 L1985.5 1539.8 L1984 1539.8 L1982.5 1539.9 L1981 1540 L1979.5 1539.8 L1978 1539.6 L1976.5 1539.6 L1975 1539.7 L1973.5 1539.5 L1972 1539.4 L1970.5 1539.4 L1969 1539.6 L1967.5 1539.7 L1966 1539.8 L1964.5 1539.8 L1963 1539.8 L1961.5 1539.8 L1960 1539.9 L1958.5 1539.9 L1957 1540 L1955.5 1539.8 L1954 1539.6 L1952.5 1539.7 L1951 1539.7 L1949.5 1539.6 L1948 1539.8 L1946.5 1539.7 L1945 1539.7 L1943.5 1539.7 L1942 1539.6 L1940.5 1539.5 L1939 1539.4 L1937.5 1539.4 L1936 1539.2 L1934.5 1539.2 L1933 1539.3 L1931.5 1539.4 L1930 1539.6 L1928.5 1539.7 L1927 1539.5 L1925.5 1539.6 L1924 1539.4 L1922.5 1539.5 L1921 1539.1 L1919.5 1538.8 L1918 1538.8 L1916.5 1538.7 L1915 1538.5 L1913.5 1538.5 L1912 1538.4 L1910.5 1538.3 L1909 1538.3 L1907.5 1538.2 L1906 1538.2 L1904.5 1538.2 L1903 1538.4 L1901.5 1538.5 L1900 1538.5 L1898.5 1538.5 L1897 1538.4 L1895.5 1538.4 L1894 1538.4 L1892.5 1538.4 L1891 1538.2 L1889.5 1538.2 L1888 1538 L1886.5 1537.8 L1885 1537.8 L1883.5 1537.9 L1882 1537.8 L1880.5 1537.9 L1879 1537.8 L1877.5 1537.8 L1876 1538 L1874.5 1538 L1873 1537.9 L1871.5 1537.7 L1870 1537.6 L1868.5 1537.5 L1867 1537.6 L1865.5 1537.4 L1864 1537.2 L1862.5 1537.1 L1861 1537.2 L1859.5 1537 L1858 1536.9 L1856.5 1537 L1855 1537.1 L1853.5 1537.2 L1852 1537 L1850.5 1536.8 L1849 1537 L1847.5 1537.1 L1846 1536.9 L1844.5 1536.8 L1843 1536.6 L1841.5 1536.6 L1840 1536.5 L1838.5 1536.5 L1837 1536.3 L1835.5 1536.2 L1834 1536.1 L1832.5 1536 L1831 1535.9 L1829.5 1535.8 L1828 1535.8 L1826.5 1535.9 L1825 1536 L1823.5 1535.9 L1822 1535.9 L1820.5 1535.8 L1819 1535.6 L1817.5 1535.3 L1816 1535.2 L1814.5 1535.2 L1813 1535.2 L1811.5 1535.2 L1810 1535.3 L1808.5 1535.2 L1807 1535.2 L1805.5 1535 L1804 1534.9 L1802.5 1534.8 L1801 1534.8 L1799.5 1534.7 L1798 1534.7 L1796.5 1534.8 L1795 1534.7 L1793.5 1534.5 L1792 1534.3 L1790.5 1534.2 L1789 1534.2 L1787.5 1534 L1786 1534 L1784.5 1534 L1783 1533.9 L1781.5 1533.8 L1780 1533.7 L1778.5 1533.8 L1777 1533.9 L1775.5 1534 L1774 1534.1 L1772.5 1534.2 L1771 1534.2 L1769.5 1534.2 L1768 1533.9 L1766.5 1533.9 L1765 1533.8 L1763.5 1534 L1762 1534.1 L1760.5 1534.3 L1759 1534.5 L1757.5 1534.7 L1756 1534.7 L1754.5 1534.9 L1753 1535.1 L1751.5 1535.2 L1750 1535.2 L1748.5 1535.5 L1747 1535.6 L1745.5 1536 L1744 1536.2 L1742.5 1536.4 L1741 1536.6 L1739.5 1536.8 L1738 1536.8 L1736.5 1537 L1735 1537.1 L1733.5 1537.5 L1732 1537.6 L1730.5 1537.8 L1729 1537.9 L1727.5 1537.9 L1726 1538.2 L1724.5 1538.3 L1723 1538.5 L1721.5 1538.5 L1720 1538.8 L1718.5 1539.1 L1717 1539.3 L1715.5 1539.7 L1714 1540 L1712.5 1540.3 L1711 1540.5 L1709.5 1540.7 L1708 1540.9 L1706.5 1541.2 L1705 1541.4 L1703.5 1541.5 L1702 1541.7 L1700.5 1542 L1699 1542.1 L1697.5 1542.3 L1696 1542.5 L1694.5 1542.9 L1693 1543.1 L1691.5 1543.2 L1690 1543.4 L1688.5 1543.6 L1687 1543.9 L1685.5 1544.1 L1684 1544.2 L1682.5 1544.4 L1681 1544.7 L1679.5 1545 L1678 1545.1 L1676.5 1545.2 L1675 1545.4 L1673.5 1545.6 L1672 1545.7 L1670.5 1545.8 L1669 1545.9 L1667.5 1546 L1666 1545.9 L1664.5 1545.9 L1663 1546 L1661.5 1546.1 L1660 1546.2 L1658.5 1546.4 L1657 1546.7 L1655.5 1547.1 L1654 1547.3 L1652.5 1547.4 L1651 1547.3 L1649.5 1547.4 L1648 1547.3 L1646.5 1547.2 L1645 1547.2 L1643.5 1547.4 L1642 1547.4 L1640.5 1547.5 L1639 1547.6 L1637.5 1547.9 L1636 1548 L1634.5 1548.1 L1633 1548.1 L1631.5 1548 L1630 1547.9 L1628.5 1548 L1627 1548 L1625.5 1548 L1624 1548 L1622.5 1547.9 L1621 1547.7 L1619.5 1547.6 L1618 1547.5 L1616.5 1547.5 L1615 1547.3 L1613.5 1547.4 L1612 1547.8 L1610.5 1547.9 L1609 1547.6 L1607.5 1547.7 L1606 1547.7 L1604.5 1547.6 L1603 1547.3 L1601.5 1547.3 L1600 1547.5 L1598.5 1547.4 L1597 1547.4 L1595.5 1547.5 L1594 1547.7 L1592.5 1547.6 L1591 1547.9 L1589.5 1547.7 L1588 1547.7 L1586.5 1547.4 L1585 1547.5 L1583.5 1547.4 L1582 1547.3 L1580.5 1547.1 L1579 1546.9 L1577.5 1546.8 L1576 1546.9 L1574.5 1546.9 L1573 1546.9 L1571.5 1546.9 L1570 1546.8 L1568.5 1546.8 L1567 1547 L1565.5 1546.9 L1564 1546.9 L1562.5 1547 L1561 1546.9 L1559.5 1546.8 L1558 1546.5 L1556.5 1546.5 L1555 1546.7 L1553.5 1546.6 L1552 1546.1 L1550.5 1546.2 L1549 1546.2 L1547.5 1545.9 L1546 1545.7 L1544.5 1545.8 L1543 1545.6 L1541.5 1545.5 L1540 1545.1 L1538.5 1545.1 L1537 1545.2 L1535.5 1545.3 L1534 1544.8 L1532.5 1544.7 L1531 1544.9 L1529.5 1545 L1528 1544.8 L1526.5 1544.4 L1525 1544.4 L1523.5 1544.1 L1522 1544.1 L1520.5 1544.1 L1519 1544.4 L1517.5 1544 L1516 1544.2 L1514.5 1543.8 L1513 1543.3 L1511.5 1542.5 L1510 1542.3 L1508.5 1541.9 L1507 1542.2 L1505.5 1542.5 L1504 1543 L1502.5 1542.8 L1501 1543.5 L1499.5 1543.2 L1498 1542.8 L1496.5 1542.7 L1495 1542.4 L1493.5 1542.1 L1492 1542.2 L1490.5 1542.1 L1489 1541.8 L1487.5 1541.2 L1486 1540.2 L1484.5 1540.9 L1483 1540.5 L1481.5 1540.6 L1480 1540.7 L1478.5 1540.6 L1477 1540.6 L1475.5 1541 L1474 1540 L1472.5 1540.1 L1471 1540 L1469.5 1540.1 L1468 1540 L1466.5 1540.4 L1465 1541 L1463.5 1540.7 L1462 1540.5 L1460.5 1540.4 L1459 1540.2 L1457.5 1539.9 L1456 1540.2 L1454.5 1539.9 L1453 1539.6 L1451.5 1539.5 L1450 1539 L1448.5 1538.6 L1447 1538.4 L1445.5 1538.7 L1444 1538.5 L1442.5 1538.4 L1441 1538.6 L1439.5 1538.1 L1438 1537.8 L1436.5 1538.1 L1435 1537.7 L1433.5 1536.7 L1432 1536.9 L1430.5 1536.3 L1429 1535.4 L1427.5 1534.9 L1426 1535.1 L1424.5 1534.4 L1423 1533.7 L1421.5 1533.3 L1420 1533.1 L1418.5 1533.2 L1417 1532.9 L1415.5 1532.2 L1414 1532.6 L1412.5 1532.5 L1411 1532.4 L1409.5 1532.7 L1408 1532.3 L1406.5 1532.4 L1405 1533.2 L1403.5 1533.1 L1402 1533.3 L1400.5 1533.1 L1399 1532.2 L1397.5 1531.6 L1396 1531.1 L1394.5 1530.1 L1393 1529.2 L1391.5 1529.4 L1390 1529 L1388.5 1529.1 L1387 1529.5 L1385.5 1529.1 L1384 1529.1 L1382.5 1529.1 L1381 1528.5 L1379.5 1528.3 L1378 1527.7 L1376.5 1527 L1375 1527.3 L1373.5 1526.7 L1372 1526.4 L1370.5 1527 L1369 1526.5 L1367.5 1526.4 L1366 1526.8 L1364.5 1526.2 L1363 1526.3 L1361.5 1526 L1360 1525.2 L1358.5 1524.8 L1357 1524.6 L1355.5 1523.8 L1354 1523.4 L1352.5 1523.6 L1351 1523.1 L1349.5 1523.4 L1348 1522.8 L1346.5 1523.2 L1345 1523.7 L1343.5 1524.2 L1342 1523.4 L1340.5 1523.8 L1339 1523.9 L1337.5 1523.2 L1336 1522.1 L1334.5 1522.2 L1333 1522.7 L1331.5 1522.9 L1330 1523 L1328.5 1522.8 L1327 1523.2 L1325.5 1523.3 L1324 1523.3 L1322.5 1523.5 L1321 1524 L1319.5 1523.8 L1318 1523.9 L1316.5 1524.1 L1315 1524.2 L1313.5 1523.5 L1312 1523 L1310.5 1523.4 L1309 1523.8 L1307.5 1523.7 L1306 1523.7 L1304.5 1523.3 L1303 1523.6 L1301.5 1523.8 L1300 1523.8 L1298.5 1523.4 L1297 1523.8 L1295.5 1524.3 L1294 1524.3 L1292.5 1524.7 L1291 1524.9 L1289.5 1524.9 L1288 1524.5 L1286.5 1524.4 L1285 1523.9 L1283.5 1523.5 L1282 1523.8 L1280.5 1524.2 L1279 1523.8 L1277.5 1523.8 L1276 1524.6 L1274.5 1524.7 L1273 1524.2 L1271.5 1524.7 L1270 1524.5 L1268.5 1524 L1267 1524.6 L1265.5 1524.9 L1264 1525.1 L1262.5 1525.6 L1261 1526.4 L1259.5 1526.5 L1258 1525.7 L1256.5 1525.6 L1255 1525.7 L1253.5 1525.8 L1252 1525.7 L1250.5 1526 L1249 1525.5 L1247.5 1525.8 L1246 1525.7 L1244.5 1526.1 L1243 1526 L1241.5 1525.7 L1240 1526.2 L1238.5 1526.1 L1237 1526 L1235.5 1525.8 L1234 1525.5 L1232.5 1525.5 L1231 1526.1 L1229.5 1525.9 L1228 1525.6 L1226.5 1526.7 L1225 1526.3 L1223.5 1526.1 L1222 1526.8 L1220.5 1527.5 L1219 1527.4 L1217.5 1527.9 L1216 1528.2 L1214.5 1527.9 L1213 1527.4 L1211.5 1526.4 L1210 1526.6 L1208.5 1527.1 L1207 1526.8 L1205.5 1526.8 L1204 1527 L1202.5 1526 L1201 1526.2 L1199.5 1526.4 L1198 1526.5 L1196.5 1527 L1195 1527.3 L1193.5 1527.3 L1192 1527.4 L1190.5 1527.6 L1189 1527.2 L1187.5 1528 L1186 1528.5 L1184.5 1527.9 L1183 1527.9 L1181.5 1528.1 L1180 1527.7 L1178.5 1528 L1177 1527.7 L1175.5 1528 L1174 1528.2 L1172.5 1528.4 L1171 1528.3 L1169.5 1528.2 L1168 1528.4 L1166.5 1528.9 L1165 1528.5 L1163.5 1528.5 L1162 1528.8 L1160.5 1529.3 L1159 1529.2 L1157.5 1529.4 L1156 1529.5 L1154.5 1529.3 L1153 1529.3 L1151.5 1529.9 L1150 1529.1 L1148.5 1529.1 L1147 1529.6 L1145.5 1529.2 L1144 1529.3 L1142.5 1529.4 L1141 1530.1 L1139.5 1530.7 L1138 1530.4 L1136.5 1530.7 L1135 1530.4 L1133.5 1529.5 L1132 1529.3 L1130.5 1529.3 L1129 1528.6 L1127.5 1529.1 L1126 1530 L1124.5 1530.2 L1123 1529.8 L1121.5 1530.5 L1120 1529.9 L1118.5 1529.9 L1117 1530 L1115.5 1529.9 L1114 1529.8 L1112.5 1530.5 L1111 1530.7 L1109.5 1530.9 L1108 1531 L1106.5 1530.1 L1105 1529.8 L1103.5 1529.8 L1102 1529.7 L1100.5 1529.6 L1099 1530 L1097.5 1530.3 L1096 1530.8 L1094.5 1530.7 L1093 1530.7 L1091.5 1530.7 L1090 1531.3 L1088.5 1531.3 L1087 1531.8 L1085.5 1530.8 L1084 1531.1 L1082.5 1531.5 L1081 1531.3 L1079.5 1531.4 L1078 1531.6 L1076.5 1531.6 L1075 1531.7 L1073.5 1532.1 L1072 1531.9 L1070.5 1532 L1069 1532 L1067.5 1532.1 L1066 1531.5 L1064.5 1531.6 L1063 1532.4 L1061.5 1532.3 L1060 1532.1 L1058.5 1532.6 L1057 1532.8 L1055.5 1532.7 L1054 1533.4 L1052.5 1533.7 L1051 1534 L1049.5 1534 L1048 1533.6 L1046.5 1533.4 L1045 1533.3 L1043.5 1533 L1042 1532.3 L1040.5 1532.2 L1039 1532.5 L1037.5 1533 L1036 1533 L1034.5 1533.6 L1033 1533.5 L1031.5 1532.9 L1030 1532.8 L1028.5 1532.6 L1027 1532.3 L1025.5 1532 L1024 1531.8 L1022.5 1531.8 L1021 1531.8 L1019.5 1531.6 L1018 1532.2 L1016.5 1532.3 L1015 1532.4 L1013.5 1532.6 L1012 1533.4 L1010.5 1533.6 L1009 1534.3 L1007.5 1535.1 L1006 1535.5 L1004.5 1535.4 L1003 1535.1 L1001.5 1535.2 L1000 1535 L998.5 1535.1 L997 1535 L995.5 1535 L994 1535.3 L992.5 1535.2 L991 1535.6 L989.5 1536 L988 1536.1 L986.5 1535.3 L985 1534.8 L983.5 1535.1 L982 1535.1 L980.5 1534.8 L979 1535.6 L977.5 1535.6 L976 1535.9 L974.5 1536 L973 1535.4 L971.5 1535.4 L970 1536.1 L968.5 1535.8 L967 1536.1 L965.5 1536 L964 1536.3 L962.5 1536.1 L961 1536.3 L959.5 1536.3 L958 1536.4 L956.5 1536.3 L955 1536.8 L953.5 1536.3 L952 1536.3 L950.5 1536 L949 1536.2 L947.5 1536.1 L946 1535.5 L944.5 1535.3 L943 1536 L941.5 1536.6 L940 1536.4 L938.5 1536.5 L937 1536.4 L935.5 1536.5 L934 1536.4 L932.5 1536.4 L931 1536.4 L929.5 1536.4 L928 1536.7 L926.5 1536.4 L925 1536.6 L923.5 1536.8 L922 1536.9 L920.5 1536.5 L919 1537.2 L917.5 1537.1 L916 1537.3 L914.5 1538.1 L913 1538.5 L911.5 1538.8 L910 1539 L908.5 1538.9 L907 1538.8 L905.5 1538.9 L904 1538.9 L902.5 1538.4 L901 1538.8 L899.5 1539.4 L898 1539.6 L896.5 1539.9 L895 1539.9 L893.5 1540.1 L892 1540.5 L890.5 1540.8 L889 1540.9 L887.5 1541.1 L886 1541 L884.5 1540.9 L883 1541.6 L881.5 1542.1 L880 1541.8 L878.5 1542.8 L877 1542.7 L875.5 1543 L874 1543 L872.5 1542.9 L871 1543.2 L869.5 1543 L868 1542.8 L866.5 1543.2 L865 1542.9 L863.5 1542.9 L862 1542.9 L860.5 1543.3 L859 1543.4 L857.5 1543 L856 1543 L854.5 1543.5 L853 1544 L851.5 1544.6 L850 1544.8 L848.5 1544.1 L847 1544.4 L845.5 1544.4 L844 1544.5 L842.5 1544.2 L841 1544.5 L839.5 1544.8 L838 1545 L836.5 1544.8 L835 1545 L833.5 1545.3 L832 1545.1 L830.5 1544.9 L829 1545.4 L827.5 1545.6 L826 1545.8 L824.5 1545.8 L823 1545.7 L821.5 1546.2 L820 1546.4 L818.5 1546.4 L817 1545.8 L815.5 1545.6 L814 1546 L812.5 1546.3 L811 1545.9 L809.5 1545.8 L808 1546.3 L806.5 1546.4 L805 1546.8 L803.5 1546.7 L802 1547.7 L800.5 1548 L799 1548.3 L797.5 1548.8 L796 1548.2 L794.5 1548.2 L793 1548.3 L791.5 1548 L790 1547.9 L788.5 1548 L787 1547.7 L785.5 1548.2 L784 1548.2 L782.5 1548.7 L781 1548.6 L779.5 1549 L778 1550 L776.5 1550.1 L775 1550.1 L773.5 1550.4 L772 1550.4 L770.5 1550.8 L769 1551 L767.5 1551 L766 1550.4 L764.5 1550.8 L763 1550.8 L761.5 1550.8 L760 1550.1 L758.5 1550.2 L757 1550.1 L755.5 1550.7 L754 1550.8 L752.5 1550.5 L751 1551.1 L749.5 1551.2 L748 1550.6 L746.5 1551 L745 1550.2 L743.5 1550.6 L742 1551.3 L740.5 1551.7 L739 1552.3 L737.5 1553.7 L736 1554.4 L734.5 1555.2 L733 1555 L731.5 1555.1 L730 1554.9 L728.5 1554.8 L727 1554.4 L725.5 1554.9 L724 1554.6 L722.5 1555.1 L721 1555.5 L719.5 1555.3 L718 1555.3 L716.5 1556.7 L715 1556.8 L713.5 1557.6 L712 1558.2 L710.5 1559 L709 1559.1 L707.5 1559.1 L706 1559 L704.5 1559.7 L703 1559.8 L701.5 1560.4 L700 1560.8 L698.5 1561.1 L697 1561 L695.5 1561.4 L694 1561.2 L692.5 1561.3 L691 1560.9 L689.5 1560.8 L688 1561.2 L686.5 1561.7 L685 1562.8 L683.5 1562.8 L682 1563.7 L680.5 1564.2 L679 1564.5 L677.5 1565.1 L676 1565.3 L674.5 1564.7 L673 1565.2 L671.5 1565.2 L670 1564.5 L668.5 1565.2 L667 1565.5 L665.5 1565.8 L664 1566.3 L662.5 1566.9 L661 1567.2 L659.5 1567.9 L658 1568.3 L656.5 1568.2 L655 1568 L653.5 1568.7 L652 1569.3 L650.5 1569.2 L649 1569.8 L647.5 1569.7 L646 1569.2 L644.5 1569.3 L643 1569 L641.5 1569 L640 1568.7 L638.5 1569 L637 1569.7 L635.5 1570.9 L634 1571.5 L632.5 1572 L631 1572.5 L629.5 1573 L628 1572.6 L626.5 1572.4 L625 1571.8 L623.5 1571.9 L622 1571.2 L620.5 1571.3 L619 1571.5 L617.5 1571.8 L616 1572.1 L614.5 1572.6 L613 1572.4 L611.5 1573.1 L610 1572.8 L608.5 1573 L607 1572.8 L605.5 1573.2 L604 1573.2 L602.5 1573.7 L601 1574.6 L599.5 1574.1 L598 1573.7 L596.5 1574.6 L595 1574.8 L593.5 1575.2 L592 1575.1 L590.5 1575.4 L589 1575.8 L587.5 1576.1 L586 1575.9 L584.5 1576.4 L583 1576.3 L581.5 1576.1 L580 1576.3 L578.5 1575.7 L577 1575.8 L575.5 1576.3 L574 1576.8 L572.5 1577.3 L571 1578.1 L569.5 1578 L568 1578.7 L566.5 1578.7 L565 1578.8 L563.5 1578.4 L562 1578.8 L560.5 1578.8 L559 1578.9 L557.5 1578.8 L556 1578.7 L554.5 1578.8 L553 1579.1 L551.5 1579.1 L550 1579.8 L548.5 1580.4 L547 1580.4 L545.5 1580.8 L544 1581.1 L542.5 1581.2 L541 1581.6 L539.5 1581.7 L538 1581.6 L536.5 1581.8 L535 1581.9 L533.5 1581.8 L532 1581.6 L530.5 1581.8 L529 1581.4 L527.5 1581.5 L526 1581.7 L524.5 1581.7 L523 1581.4 L521.5 1581.5 L520 1581.6 L518.5 1582 L517 1581.9 L515.5 1582.3 L514 1582.3 L512.5 1582.2 L511 1582.7 L509.5 1582.8 L508 1582.7 L506.5 1582.9 L505 1582.9 L503.5 1583.1 L502 1583.1 L500.5 1582.9 L499 1582.9 L497.5 1583.1 L496 1583.1 L494.5 1583.6 L493 1583.6 L491.5 1583.6 L490 1583.5 L488.5 1583.9 L487 1583.9 L485.5 1584 L484 1583.8 L482.5 1583.8 L481 1583.9 L479.5 1584.2 L478 1584 L476.5 1583.8 L475 1583.7 L473.5 1583.7 L472 1583.8 L470.5 1583.8 L469 1583.5 L467.5 1583.2 L466 1583.3 L464.5 1583.5 L463 1583.7 L461.5 1583.9 L460 1583.8 L458.5 1584.2 L457 1584.2 L455.5 1584.1 L454 1584 L452.5 1584.2 L451 1584 L449.5 1583.9 L448 1584 L446.5 1583.8 L445 1583.7 L443.5 1583.7 L442 1583.5 L440.5 1583.6 L439 1583.7 L437.5 1583.7 L436 1583.6 L434.5 1583.7 L433 1583.5 L431.5 1583.4 L430 1583.6 L428.5 1583.8 L427 1584 L425.5 1584 L424 1583.8 L422.5 1583.7 L421 1583.8 L419.5 1583.8 L418 1583.5 L416.5 1583.4 L415 1583.6 L413.5 1583.8 L412 1584 L410.5 1584 L409 1583.8 L407.5 1583.9 L406 1583.6 L404.5 1583.6 L403 1583.5 L401.5 1583.4 L400 1583.5 L398.5 1583.5 L397 1583.5 L395.5 1583.4 L394 1583.3 L392.5 1583.6 L391 1583.6 L389.5 1583.9 L388 1583.9 L386.5 1583.6 L385 1583.9 L383.5 1584 L382 1584.1 L380.5 1584.1 L379 1584.2 L377.5 1584.3 L376 1584.2 L374.5 1584.1 L373 1583.8 L371.5 1583.8 L370 1584.1 L368.5 1584.1 L367 1584 L365.5 1584.1 L364 1584.2 L362.5 1584.4 L361 1584.3 L359.5 1584.2 L358 1584.2 L356.5 1584.1 L355 1584.2 L353.5 1584.2 L352 1584.1 L350.5 1584.4 L349 1584.3 L347.5 1584.4 L346 1584.3 L344.5 1584.1 L343 1583.9 L341.5 1584 L340 1584 L338.5 1583.8 L337 1583.6 L335.5 1583.8 L334 1584.1 L332.5 1584 L331 1583.8 L329.5 1583.9 L328 1583.8 L326.5 1584 L325 1583.9 L323.5 1583.9 L322 1583.8 L320.5 1583.9 L319 1583.7 L317.5 1583.9 L316 1583.7 L314.5 1583.8 L313 1583.6 L311.5 1583.7 L310 1583.5 L308.5 1583.6 L307 1583.7 L305.5 1583.9 L304 1583.7 L302.5 1584 L301 1583.8 L299.5 1583.8 L298 1583.5 L296.5 1583.4 L295 1583.2 L293.5 1583.3 L292 1583.5 L290.5 1583.8 L289 1583.8 L287.5 1583.9 L286 1583.9 L284.5 1583.9 L283 1583.9 L281.5 1583.9 L280 1583.7 L278.5 1583.9 L277 1583.8 L275.5 1584.1 L274 1583.9 L272.5 1583.7 L271 1583.7 L269.5 1583.8 L268 1583.7 L266.5 1583.8 L265 1583.6 L263.5 1583.8 L262 1584 L260.5 1584.1 L259 1584 L257.5 1584.3 L256 1584.3 L254.5 1584.3 L253 1584.2 L251.5 1584.2 L250 1584.1 L248.5 1584.2 L247 1583.9 L245.5 1584 L244 1583.9 L242.5 1584 L241 1583.9 L239.5 1584 L238 1583.9 L236.5 1583.9 L235 1583.9 L233.5 1584.1 L232 1584 L230.5 1584 L229 1584.1 L227.5 1584.2 L226 1584.3 L224.5 1584.4 L223 1584 L221.5 1584 L220 1583.9 L218.5 1584 L217 1584 L215.5 1584.1 L214 1583.7 L212.5 1583.6 L211 1583.7 L209.5 1584 L208 1583.8 L206.5 1583.9 L205 1584.2 L203.5 1584.1 L202 1584.2 L200.5 1584.1 L199 1583.8 L197.5 1583.9 L196 1583.9 L194.5 1583.7 L193 1583.6 L191.5 1583.4 L190 1583.3 L188.5 1583.4 L187 1583.5 L185.5 1583.6 L184 1583.7 L182.5 1583.6 L181 1583.6 L179.5 1583.6 L178 1583.6 L176.5 1583.7 L175 1583.8 L173.5 1583.8 L172 1583.9ZM490.9 1572 L493.6 1569.5 L496 1569.5 L498.7 1572 ZM528.7 1571.1 L531.4 1568.6 L533.8 1568.6 L536.5 1571.1 ZM569.1 1552.4 L571.8 1549.9 L574.2 1549.9 L576.9 1552.4 ZM577.1 1565.2 L579.8 1562.7 L582.2 1562.7 L584.9 1565.2 ZM610 1554.8 L612.7 1552.3 L615.1 1552.3 L617.8 1554.8 ZM624.9 1560.7 L627.5 1558.2 L630 1558.2 L632.6 1560.7 ZM646.6 1527.4 L649.3 1524.9 L651.7 1524.9 L654.4 1527.4 ZM655.5 1545.8 L658.2 1543.3 L660.6 1543.3 L663.3 1545.8 ZM721 1502.7 L723.7 1500.2 L726.1 1500.2 L728.8 1502.7 ZM740.1 1423.5 L742.8 1421 L745.2 1421 L747.9 1423.5 ZM768.1 1530.5 L770.8 1528 L773.2 1528 L775.9 1530.5 ZM792.6 1487.3 L795.3 1484.8 L797.7 1484.8 L800.4 1487.3 ZM862.6 1479.3 L865.3 1476.8 L867.7 1476.8 L870.4 1479.3 ZM886.1 1520.1 L888.8 1517.6 L891.2 1517.6 L893.9 1520.1 ZM914.1 1515 L916.8 1512.5 L919.2 1512.5 L921.9 1515 ZM929.1 1484.3 L931.8 1481.8 L934.2 1481.8 L936.9 1484.3 ZM980.1 1503.1 L982.8 1500.6 L985.2 1500.6 L987.9 1503.1 ZM992.1 1491.8 L994.8 1489.3 L997.2 1489.3 L999.9 1491.8 ZM1014.1 1509 L1016.8 1506.5 L1019.2 1506.5 L1021.9 1509 ZM1053.1 1488.2 L1055.8 1485.7 L1058.2 1485.7 L1060.9 1488.2 ZM1081.1 1517.1 L1083.8 1514.6 L1086.2 1514.6 L1088.9 1517.1 ZM1112.6 1490.3 L1115.3 1487.8 L1117.7 1487.8 L1120.4 1490.3 ZM1123.1 1515 L1125.8 1512.5 L1128.2 1512.5 L1130.9 1515 ZM1136.4 1495.4 L1139.1 1492.9 L1141.5 1492.9 L1144.2 1495.4 ZM1148.1 1517.1 L1150.8 1514.6 L1153.2 1514.6 L1155.9 1517.1 ZM1170.1 1485.8 L1172.8 1483.3 L1175.2 1483.3 L1177.9 1485.8 ZM1187.1 1512 L1189.8 1509.5 L1192.2 1509.5 L1194.9 1512 ZM1201.1 1513.2 L1203.8 1510.7 L1206.2 1510.7 L1208.9 1513.2 ZM1223.6 1490.3 L1226.3 1487.8 L1228.7 1487.8 L1231.4 1490.3 ZM1242.1 1513.2 L1244.8 1510.7 L1247.2 1510.7 L1249.9 1513.2 ZM1276.1 1495.4 L1278.8 1492.9 L1281.2 1492.9 L1283.9 1495.4 ZM1295.6 1510.2 L1298.3 1507.7 L1300.7 1507.7 L1303.4 1510.2 ZM1316.1 1507.3 L1318.8 1504.8 L1321.2 1504.8 L1323.9 1507.3 ZM1332.6 1492.8 L1335.3 1490.3 L1337.7 1490.3 L1340.4 1492.8 ZM1361.1 1506.2 L1363.8 1503.7 L1366.2 1503.7 L1368.9 1506.2 ZM1368.1 1507.5 L1370.8 1505 L1373.2 1505 L1375.9 1507.5 ZM1375.1 1506.2 L1377.8 1503.7 L1380.2 1503.7 L1382.9 1506.2 ZM1388.1 1497.3 L1390.8 1494.8 L1393.2 1494.8 L1395.9 1497.3 ZM1409.1 1522.5 L1411.8 1520 L1414.2 1520 L1416.9 1522.5 ZM1428.1 1503.2 L1430.8 1500.7 L1433.2 1500.7 L1435.9 1503.2 ZM1463.1 1528.5 L1465.8 1526 L1468.2 1526 L1470.9 1528.5 ZM1476.1 1524.5 L1478.8 1522 L1481.2 1522 L1483.9 1524.5 ZM1513.6 1530.5 L1516.3 1528 L1518.7 1528 L1521.4 1530.5 ZM1558.1 1536 L1560.8 1533.5 L1563.2 1533.5 L1565.9 1536 ZM1575.5 1363.9 L1578.2 1361.4 L1580.6 1361.4 L1583.3 1363.9 ZM1579.7 1443.7 L1582.4 1441.2 L1584.8 1441.2 L1587.5 1443.7 ZM1602.9 1538.3 L1605.6 1535.8 L1608 1535.8 L1610.7 1538.3 ZM1647.1 1524 L1649.8 1521.5 L1652.2 1521.5 L1654.9 1524 ZM1651.1 1419.3 L1653.8 1416.8 L1656.2 1416.8 L1658.9 1419.3 Z" fill="#03a46a"/>
<path d="M494.8 1579.4 V1571.7M532.6 1576.9 V1570.8M573 1572.8 V1552.1M581 1571.8 V1564.9M613.9 1567.8 V1554.5M628.8 1566.3 V1560.4M650.5 1563.5 V1527.1M659.4 1562.2 V1545.5M724.9 1550.2 V1502.4M744 1546.8 V1423.2M772 1544.8 V1530.2M796.5 1543.1 V1487M866.5 1537.4 V1479M890 1535.2 V1519.8M918 1532.7 V1514.7M933 1532.1 V1484M984 1530.1 V1502.8M996 1529.7 V1491.5M1018 1528.8 V1508.7M1057 1527.5 V1487.9M1085 1526.5 V1516.8M1116.5 1525.5 V1490M1127 1525.2 V1514.7M1140.3 1524.7 V1495.1M1152 1524.4 V1516.8M1174 1523.5 V1485.5M1191 1522.8 V1511.7M1205 1522.3 V1512.9M1227.5 1521.3 V1490M1246 1520.6 V1512.9M1280 1519.5 V1495.1M1299.5 1518.8 V1509.9M1320 1518.1 V1507M1336.5 1517.8 V1492.5M1365 1521.5 V1505.9M1372 1522.4 V1507.2M1379 1523.3 V1505.9M1392 1525 V1497M1413 1528.2 V1522.2M1432 1531 V1502.9M1467 1534.9 V1528.2M1480 1535.9 V1524.2M1517.5 1538.9 V1530.2M1562 1542.9 V1535.7M1579.4 1543.4 V1363.6M1583.6 1543.6 V1443.4M1606.8 1544 V1538M1651 1543.6 V1523.7M1655 1543.4 V1419M573 1563.2 H581M575.5 1572.5 V1563.2M578 1572.1 V1563.2M580.5 1571.8 V1563.2M581 1571.8 V1563.2M650.5 1543.8 H659.4M653 1563.2 V1543.8M655.5 1562.8 V1543.8M658 1562.4 V1543.8M659.4 1562.2 V1543.8M1365 1505.5 H1372M1367.5 1521.8 V1505.5M1370 1522.1 V1505.5M1372 1522.4 V1505.5M1372 1505.5 H1379M1374.5 1522.7 V1505.5M1377 1523 V1505.5M1379 1523.3 V1505.5M1579.4 1441.7 H1583.6M1581.9 1543.5 V1441.7M1583.6 1543.6 V1441.7M1651 1522 H1655M1653.5 1543.4 V1522M1655 1543.4 V1522" fill="none" stroke="#03a46a" stroke-width="7.8" stroke-linecap="butt"/>
<path d="M172 1815.3 L173.5 1815.9 L175 1815.9 L176.5 1816.7 L178 1817.4 L179.5 1817.8 L181 1817.8 L182.5 1817.7 L184 1817.7 L185.5 1818 L187 1818.5 L188.5 1818.4 L190 1818.5 L191.5 1818.8 L193 1819.3 L194.5 1819.5 L196 1819.8 L197.5 1819.6 L199 1819.8 L200.5 1819.7 L202 1820 L203.5 1820.1 L205 1819.6 L206.5 1819.6 L208 1819.6 L209.5 1819.6 L211 1819.4 L212.5 1819.8 L214 1819.8 L215.5 1819.8 L217 1819.9 L218.5 1819.7 L220 1820 L221.5 1820.1 L223 1820.1 L224.5 1819.9 L226 1819.9 L227.5 1819.8 L229 1820 L230.5 1820 L232 1820.2 L233.5 1820.2 L235 1820.3 L236.5 1819.8 L238 1820.1 L239.5 1819.9 L241 1819.5 L242.5 1819.5 L244 1819.9 L245.5 1819.9 L247 1820.3 L248.5 1820.3 L250 1820.6 L251.5 1820.5 L253 1820.4 L254.5 1820.7 L256 1820.2 L257.5 1820.1 L259 1820.1 L260.5 1819.9 L262 1820.1 L263.5 1819.9 L265 1819.8 L266.5 1820 L268 1820.2 L269.5 1820.1 L271 1820.6 L272.5 1820.4 L274 1820.7 L275.5 1820.6 L277 1820.3 L278.5 1820 L280 1820 L281.5 1820.3 L283 1820.4 L284.5 1820.2 L286 1820.1 L287.5 1820.1 L289 1820.2 L290.5 1820.5 L292 1820.6 L293.5 1820.9 L295 1820.8 L296.5 1820.6 L298 1820.8 L299.5 1820.8 L301 1820.5 L302.5 1820.4 L304 1820.3 L305.5 1820.1 L307 1820 L308.5 1820.1 L310 1820.4 L311.5 1820.2 L313 1820.1 L314.5 1820.5 L316 1820.3 L317.5 1820.1 L319 1820.1 L320.5 1820.2 L322 1820.5 L323.5 1820.5 L325 1820 L326.5 1820.1 L328 1820.7 L329.5 1820.7 L331 1820.4 L332.5 1820.5 L334 1820.4 L335.5 1820.7 L337 1820.6 L338.5 1820.6 L340 1820.5 L341.5 1820.2 L343 1819.9 L344.5 1820.1 L346 1820.4 L347.5 1820.4 L349 1820.5 L350.5 1820.7 L352 1820.6 L353.5 1820.6 L355 1820.5 L356.5 1820.6 L358 1820.6 L359.5 1820.9 L361 1820.8 L362.5 1821.1 L364 1821.2 L365.5 1821.2 L367 1820.6 L368.5 1820.6 L370 1820.8 L371.5 1821 L373 1820.9 L374.5 1820.6 L376 1820.5 L377.5 1820.3 L379 1820.4 L380.5 1820.8 L382 1820.7 L383.5 1820.5 L385 1820.4 L386.5 1820.7 L388 1820.8 L389.5 1821 L391 1820.7 L392.5 1820.4 L394 1820.5 L395.5 1820.5 L397 1820.7 L398.5 1821 L400 1820.9 L401.5 1820.9 L403 1820.5 L404.5 1820.3 L406 1820.4 L407.5 1820.4 L409 1819.9 L410.5 1819.5 L412 1819.3 L413.5 1819.2 L415 1819.4 L416.5 1819.2 L418 1819.2 L419.5 1819.5 L421 1819.8 L422.5 1819.6 L424 1819.3 L425.5 1819.3 L427 1819.3 L428.5 1819.2 L430 1819.1 L431.5 1819.1 L433 1818.8 L434.5 1819.1 L436 1819.3 L437.5 1819.1 L439 1819.1 L440.5 1818.5 L442 1818.9 L443.5 1818.8 L445 1818.8 L446.5 1818.5 L448 1818 L449.5 1818.3 L451 1818.5 L452.5 1818.1 L454 1817.7 L455.5 1818.1 L457 1817.8 L458.5 1817.9 L460 1817.7 L461.5 1817.4 L463 1817.3 L464.5 1817.3 L466 1816.9 L467.5 1816.9 L469 1817.2 L470.5 1817.1 L472 1817 L473.5 1816.6 L475 1817 L476.5 1817.1 L478 1816.8 L479.5 1816.4 L481 1816.6 L482.5 1816.4 L484 1816.6 L485.5 1816.6 L487 1816.1 L488.5 1815.5 L490 1816 L491.5 1816.3 L493 1815.7 L494.5 1815 L496 1814.6 L497.5 1814.9 L499 1814.6 L500.5 1814.1 L502 1814.4 L503.5 1815 L505 1814.2 L506.5 1813.9 L508 1813.8 L509.5 1814.6 L511 1814 L512.5 1813.7 L514 1813.1 L515.5 1812.4 L517 1813.1 L518.5 1812.5 L520 1811.9 L521.5 1813 L523 1813 L524.5 1812.6 L526 1812.1 L527.5 1810.6 L529 1809.9 L530.5 1811.3 L532 1811.8 L533.5 1810.7 L535 1810.5 L536.5 1810.8 L538 1811.5 L539.5 1811.5 L541 1810.6 L542.5 1809.6 L544 1809 L545.5 1809.5 L547 1809.7 L548.5 1809.3 L550 1808.5 L551.5 1809.2 L553 1808.9 L554.5 1808.1 L556 1806.9 L557.5 1806.1 L559 1806.4 L560.5 1807.1 L562 1805.8 L563.5 1805.1 L565 1803.7 L566.5 1803.4 L568 1804.8 L569.5 1805.1 L571 1803.4 L572.5 1802.8 L574 1804 L575.5 1805.4 L577 1804 L578.5 1802.7 L580 1803.9 L581.5 1802.2 L583 1800.7 L584.5 1802.4 L586 1802.2 L587.5 1801.2 L589 1800.7 L590.5 1800.2 L592 1800.7 L593.5 1801.9 L595 1801.7 L596.5 1801.5 L598 1799 L599.5 1798.2 L601 1799.3 L602.5 1796.9 L604 1797.3 L605.5 1797.7 L607 1797.4 L608.5 1796.4 L610 1795.6 L611.5 1794.7 L613 1795.6 L614.5 1796.6 L616 1796.8 L617.5 1795.7 L619 1796.8 L620.5 1796.5 L622 1797 L623.5 1796.8 L625 1795.4 L626.5 1795.6 L628 1795.4 L629.5 1795.4 L631 1795.6 L632.5 1794.5 L634 1794.9 L635.5 1795.8 L637 1795 L638.5 1793.8 L640 1792 L641.5 1791.8 L643 1792.9 L644.5 1793.2 L646 1792.1 L647.5 1789.9 L649 1790.7 L650.5 1791.2 L652 1791.2 L653.5 1790.3 L655 1789.6 L656.5 1789.8 L658 1790 L659.5 1789 L661 1788 L662.5 1789 L664 1788.9 L665.5 1788.3 L667 1789 L668.5 1788.5 L670 1789.3 L671.5 1786.8 L673 1786.5 L674.5 1786.8 L676 1787 L677.5 1786.8 L679 1787 L680.5 1787.4 L682 1785.5 L683.5 1784.3 L685 1784.5 L686.5 1784.6 L688 1785.2 L689.5 1785.1 L691 1784.4 L692.5 1782.9 L694 1782 L695.5 1782.6 L697 1783.4 L698.5 1784.6 L700 1782 L701.5 1779.9 L703 1780.9 L704.5 1781.5 L706 1782.1 L707.5 1781.4 L709 1780.6 L710.5 1780.7 L712 1781.8 L713.5 1780.9 L715 1779.9 L716.5 1777.8 L718 1777.9 L719.5 1779.2 L721 1779 L722.5 1778.2 L724 1777.6 L725.5 1778.5 L727 1778.6 L728.5 1776.4 L730 1775.5 L731.5 1776.2 L733 1776.6 L734.5 1776.8 L736 1775.9 L737.5 1775.3 L739 1774.6 L740.5 1774 L742 1774.1 L743.5 1773.7 L745 1773.1 L746.5 1774 L748 1774.4 L749.5 1773.6 L751 1773.1 L752.5 1773.7 L754 1772.9 L755.5 1772.6 L757 1771.7 L758.5 1772.8 L760 1772.2 L761.5 1771 L763 1772.1 L764.5 1773.1 L766 1772.5 L767.5 1771.1 L769 1770.5 L770.5 1771.7 L772 1772.4 L773.5 1773.5 L775 1771.8 L776.5 1771.9 L778 1772.5 L779.5 1772.4 L781 1771.6 L782.5 1771 L784 1770 L785.5 1770.7 L787 1770.6 L788.5 1771 L790 1769.1 L791.5 1769.4 L793 1769.2 L794.5 1770.2 L796 1769.7 L797.5 1770.4 L799 1771.6 L800.5 1770.9 L802 1770.1 L803.5 1769.1 L805 1769.7 L806.5 1768.9 L808 1768.6 L809.5 1768.5 L811 1768.4 L812.5 1766.7 L814 1766.8 L815.5 1768.6 L817 1769.6 L818.5 1769.9 L820 1769 L821.5 1768.8 L823 1767.2 L824.5 1768 L826 1767.3 L827.5 1766.7 L829 1767.5 L830.5 1767.5 L832 1767.1 L833.5 1767.9 L835 1768.4 L836.5 1768 L838 1766.6 L839.5 1765.4 L841 1764.9 L842.5 1765.4 L844 1766.1 L845.5 1766.5 L847 1767.3 L848.5 1766.4 L850 1764.1 L851.5 1765.1 L853 1766.3 L854.5 1767 L856 1765.6 L857.5 1764.7 L859 1764.1 L860.5 1764.7 L862 1764.6 L863.5 1763.9 L865 1763.1 L866.5 1764.1 L868 1764.7 L869.5 1764.1 L871 1764.6 L872.5 1764.5 L874 1763.9 L875.5 1764 L877 1763.3 L878.5 1762.2 L880 1761.4 L881.5 1760.7 L883 1761.7 L884.5 1762.3 L886 1762.7 L887.5 1762.2 L889 1760.1 L890.5 1760.3 L892 1762.4 L893.5 1761.8 L895 1762.2 L896.5 1762.2 L898 1762.6 L899.5 1762.3 L901 1760.8 L902.5 1760.5 L904 1760.7 L905.5 1760.3 L907 1759.5 L908.5 1759.1 L910 1757.7 L911.5 1758.3 L913 1759.9 L914.5 1759.7 L916 1759.6 L917.5 1759.8 L919 1758.9 L920.5 1760.3 L922 1760.6 L923.5 1760.6 L925 1759.1 L926.5 1757.6 L928 1757.8 L929.5 1758.5 L931 1758.7 L932.5 1759.6 L934 1758.7 L935.5 1757.5 L937 1758.8 L938.5 1758.8 L940 1759.6 L941.5 1758.4 L943 1757.8 L944.5 1758.6 L946 1759.8 L947.5 1759.7 L949 1758.2 L950.5 1756.9 L952 1756 L953.5 1757.3 L955 1758.3 L956.5 1757.9 L958 1757.5 L959.5 1757.3 L961 1757.3 L962.5 1758.6 L964 1758.3 L965.5 1757 L967 1755.8 L968.5 1756.7 L970 1757.5 L971.5 1757.2 L973 1756.9 L974.5 1756 L976 1757.3 L977.5 1757.9 L979 1757.5 L980.5 1755.5 L982 1755.2 L983.5 1756.2 L985 1756.6 L986.5 1756 L988 1754.7 L989.5 1757.1 L991 1756.3 L992.5 1756.2 L994 1756.5 L995.5 1757.1 L997 1755.9 L998.5 1754.9 L1000 1754.9 L1001.5 1755.5 L1003 1756.5 L1004.5 1754.8 L1006 1754.5 L1007.5 1752.3 L1009 1752.5 L1010.5 1754 L1012 1754.6 L1013.5 1755.1 L1015 1755 L1016.5 1753.9 L1018 1755.7 L1019.5 1756.2 L1021 1755.7 L1022.5 1754.7 L1024 1753.9 L1025.5 1753.3 L1027 1753.2 L1028.5 1754.1 L1030 1754.1 L1031.5 1753.1 L1033 1751.9 L1034.5 1752.6 L1036 1751.7 L1037.5 1751.6 L1039 1751.8 L1040.5 1752.9 L1042 1752.9 L1043.5 1752.9 L1045 1752 L1046.5 1752.4 L1048 1752.5 L1049.5 1753.7 L1051 1753.2 L1052.5 1751.9 L1054 1751.7 L1055.5 1752.5 L1057 1752.5 L1058.5 1754 L1060 1753 L1061.5 1752.3 L1063 1751.9 L1064.5 1752.4 L1066 1752.5 L1067.5 1752.7 L1069 1752 L1070.5 1754.2 L1072 1753.8 L1073.5 1752.6 L1075 1752.4 L1076.5 1752.9 L1078 1752.5 L1079.5 1752.6 L1081 1751.5 L1082.5 1751.6 L1084 1750.5 L1085.5 1751.3 L1087 1750.5 L1088.5 1749.3 L1090 1749.7 L1091.5 1750.7 L1093 1750.9 L1094.5 1752 L1096 1751.4 L1097.5 1749.7 L1099 1748.9 L1100.5 1749.7 L1102 1750.5 L1103.5 1751.4 L1105 1750.5 L1106.5 1748.8 L1108 1750.1 L1109.5 1750.5 L1111 1749.2 L1112.5 1749.3 L1114 1750.1 L1115.5 1751.2 L1117 1751.8 L1118.5 1751.3 L1120 1749.8 L1121.5 1748.5 L1123 1748.4 L1124.5 1750.8 L1126 1750 L1127.5 1749.3 L1129 1748.7 L1130.5 1748.7 L1132 1750 L1133.5 1750.2 L1135 1750.6 L1136.5 1747.9 L1138 1748.1 L1139.5 1750.1 L1141 1749.1 L1142.5 1747.7 L1144 1748.9 L1145.5 1747.8 L1147 1748.4 L1148.5 1748.7 L1150 1748.9 L1151.5 1748.5 L1153 1749.2 L1154.5 1748.3 L1156 1748.8 L1157.5 1748.5 L1159 1747.7 L1160.5 1748.3 L1162 1748.7 L1163.5 1748.6 L1165 1747.3 L1166.5 1747.8 L1168 1748.9 L1169.5 1748.1 L1171 1747.5 L1172.5 1749 L1174 1748.3 L1175.5 1748 L1177 1748 L1178.5 1748.4 L1180 1748.2 L1181.5 1747.2 L1183 1746.4 L1184.5 1746.9 L1186 1748.5 L1187.5 1748.3 L1189 1746.5 L1190.5 1746.1 L1192 1746.9 L1193.5 1747.7 L1195 1747.3 L1196.5 1746.2 L1198 1744.8 L1199.5 1746.5 L1201 1746.3 L1202.5 1745.9 L1204 1746.2 L1205.5 1746.3 L1207 1744.9 L1208.5 1744 L1210 1745 L1211.5 1745.1 L1213 1745 L1214.5 1745.1 L1216 1746 L1217.5 1746.1 L1219 1745.2 L1220.5 1744.2 L1222 1745.2 L1223.5 1745 L1225 1745.9 L1226.5 1744.7 L1228 1744.9 L1229.5 1744.5 L1231 1745.4 L1232.5 1744.7 L1234 1743.9 L1235.5 1742.6 L1237 1743.3 L1238.5 1743.7 L1240 1744.2 L1241.5 1744.1 L1243 1742.8 L1244.5 1742.7 L1246 1742.7 L1247.5 1743.1 L1249 1743.8 L1250.5 1744.1 L1252 1743.3 L1253.5 1743.6 L1255 1743.6 L1256.5 1743.5 L1258 1743.5 L1259.5 1743.4 L1261 1743.1 L1262.5 1744.3 L1264 1743.8 L1265.5 1742.3 L1267 1743.4 L1268.5 1743.9 L1270 1743.9 L1271.5 1743.8 L1273 1742.6 L1274.5 1741.5 L1276 1741.9 L1277.5 1743.4 L1279 1742.5 L1280.5 1741.4 L1282 1740.4 L1283.5 1741.6 L1285 1742.2 L1286.5 1743.3 L1288 1743 L1289.5 1743 L1291 1741 L1292.5 1741.6 L1294 1743.6 L1295.5 1742.1 L1297 1740.7 L1298.5 1740 L1300 1740.6 L1301.5 1741.3 L1303 1741.3 L1304.5 1742.2 L1306 1743.1 L1307.5 1743.1 L1309 1742.3 L1310.5 1741.6 L1312 1741.1 L1313.5 1740.9 L1315 1740.7 L1316.5 1740.1 L1318 1738.1 L1319.5 1738.1 L1321 1738.9 L1322.5 1738.5 L1324 1738.1 L1325.5 1738.6 L1327 1738.6 L1328.5 1739.1 L1330 1739.4 L1331.5 1740.6 L1333 1739.2 L1334.5 1737.9 L1336 1737.7 L1337.5 1738.7 L1339 1739.7 L1340.5 1740.2 L1342 1739.8 L1343.5 1738.8 L1345 1739.7 L1346.5 1740.7 L1348 1741.7 L1349.5 1741.6 L1351 1742.3 L1352.5 1741 L1354 1740.6 L1355.5 1741.5 L1357 1741.5 L1358.5 1741.8 L1360 1743 L1361.5 1742.4 L1363 1743 L1364.5 1743.6 L1366 1744.2 L1367.5 1743 L1369 1742.4 L1370.5 1744.3 L1372 1745.2 L1373.5 1745.2 L1375 1744.5 L1376.5 1743.4 L1378 1741.9 L1379.5 1744.7 L1381 1745.6 L1382.5 1744.8 L1384 1743.1 L1385.5 1743.6 L1387 1744.6 L1388.5 1745.6 L1390 1745 L1391.5 1744.5 L1393 1744.9 L1394.5 1746.6 L1396 1747.9 L1397.5 1747.8 L1399 1748.1 L1400.5 1746.9 L1402 1746.2 L1403.5 1747.7 L1405 1748.7 L1406.5 1748.9 L1408 1747.4 L1409.5 1746.6 L1411 1746.7 L1412.5 1747.9 L1414 1748.3 L1415.5 1747.7 L1417 1748.2 L1418.5 1748.9 L1420 1749.6 L1421.5 1749 L1423 1748.2 L1424.5 1747.8 L1426 1749.6 L1427.5 1751.1 L1429 1751.2 L1430.5 1749.4 L1432 1750.8 L1433.5 1753.3 L1435 1753.6 L1436.5 1753.3 L1438 1752.6 L1439.5 1751.9 L1441 1753.2 L1442.5 1753.6 L1444 1755.3 L1445.5 1754.3 L1447 1753.4 L1448.5 1754.5 L1450 1755.6 L1451.5 1756 L1453 1754.8 L1454.5 1756.1 L1456 1756.9 L1457.5 1756.3 L1459 1756.1 L1460.5 1754.4 L1462 1753.5 L1463.5 1756.2 L1465 1756 L1466.5 1756 L1468 1755.6 L1469.5 1756.1 L1471 1756.4 L1472.5 1758 L1474 1759.1 L1475.5 1759.6 L1477 1758 L1478.5 1758.3 L1480 1759.7 L1481.5 1760.9 L1483 1760.5 L1484.5 1759.9 L1486 1758.3 L1487.5 1760.8 L1489 1761.8 L1490.5 1761 L1492 1760.1 L1493.5 1760.2 L1495 1761.4 L1496.5 1760.5 L1498 1761.2 L1499.5 1762.4 L1501 1761.7 L1502.5 1762.2 L1504 1763.1 L1505.5 1764.1 L1507 1763.7 L1508.5 1762.4 L1510 1761.7 L1511.5 1763.2 L1513 1764.9 L1514.5 1765.9 L1516 1765.7 L1517.5 1765.3 L1519 1763.9 L1520.5 1764.3 L1522 1765.4 L1523.5 1765.1 L1525 1764.9 L1526.5 1763.6 L1528 1764 L1529.5 1764.8 L1531 1765.8 L1532.5 1766.2 L1534 1766.1 L1535.5 1765.8 L1537 1765.5 L1538.5 1766.5 L1540 1767.2 L1541.5 1767.4 L1543 1767.1 L1544.5 1766.6 L1546 1767.5 L1547.5 1768.2 L1549 1768.7 L1550.5 1768.4 L1552 1768.3 L1553.5 1768.9 L1555 1769.6 L1556.5 1769.6 L1558 1769.5 L1559.5 1768.7 L1561 1769.4 L1562.5 1769.9 L1564 1770.3 L1565.5 1769.7 L1567 1769.4 L1568.5 1769.9 L1570 1770.3 L1571.5 1770.3 L1573 1771 L1574.5 1771.4 L1576 1771.4 L1577.5 1770.9 L1579 1771 L1580.5 1771.7 L1582 1771.1 L1583.5 1771.3 L1585 1772.1 L1586.5 1772.3 L1588 1772.3 L1589.5 1771.7 L1591 1771.1 L1592.5 1771.7 L1594 1771.9 L1595.5 1772.6 L1597 1772.4 L1598.5 1772.4 L1600 1772.7 L1601.5 1772.9 L1603 1772.6 L1604.5 1772.9 L1606 1772.7 L1607.5 1772.9 L1609 1772.5 L1610.5 1772.7 L1612 1772.9 L1613.5 1772.9 L1615 1772.5 L1616.5 1772.5 L1618 1772.6 L1619.5 1772 L1621 1771.8 L1622.5 1772.3 L1624 1772.4 L1625.5 1772.2 L1627 1771.8 L1628.5 1772.1 L1630 1772.6 L1631.5 1772.4 L1633 1772.3 L1634.5 1772.5 L1636 1772.2 L1637.5 1772.1 L1639 1771.9 L1640.5 1772 L1642 1772.4 L1643.5 1772 L1645 1771.8 L1646.5 1772.1 L1648 1772 L1649.5 1772.2 L1651 1772.2 L1652.5 1771.7 L1654 1771.2 L1655.5 1771.1 L1657 1770.9 L1658.5 1771 L1660 1770.5 L1661.5 1770.2 L1663 1770.1 L1664.5 1770.1 L1666 1770.1 L1667.5 1769.8 L1669 1769.7 L1670.5 1769.8 L1672 1769.9 L1673.5 1769.5 L1675 1769.6 L1676.5 1769 L1678 1768.5 L1679.5 1768.4 L1681 1768.3 L1682.5 1768 L1684 1768.1 L1685.5 1768.1 L1687 1767.8 L1688.5 1767.7 L1690 1767.5 L1691.5 1767.1 L1693 1766.7 L1694.5 1766.7 L1696 1766.4 L1697.5 1765.9 L1699 1765.7 L1700.5 1765.5 L1702 1765.6 L1703.5 1765.5 L1705 1765 L1706.5 1764.8 L1708 1764.6 L1709.5 1764.2 L1711 1764.3 L1712.5 1764.2 L1714 1764 L1715.5 1763.6 L1717 1763.1 L1718.5 1763 L1720 1763.1 L1721.5 1762.8 L1723 1762.5 L1724.5 1762.1 L1726 1761.7 L1727.5 1761.6 L1729 1761.6 L1730.5 1761.3 L1732 1761 L1733.5 1760.8 L1735 1760.6 L1736.5 1760.4 L1738 1760.4 L1739.5 1760 L1741 1759.6 L1742.5 1759.4 L1744 1759.2 L1745.5 1759.2 L1747 1758.8 L1748.5 1758.4 L1750 1758.2 L1751.5 1758.4 L1753 1758.4 L1754.5 1758.4 L1756 1757.8 L1757.5 1757.7 L1759 1757.5 L1760.5 1757.2 L1762 1757 L1763.5 1757 L1765 1756.9 L1766.5 1756.9 L1768 1757.1 L1769.5 1757.1 L1771 1757.1 L1772.5 1756.8 L1774 1757.1 L1775.5 1757.1 L1777 1757 L1778.5 1756.9 L1780 1757 L1781.5 1756.7 L1783 1757 L1784.5 1757.2 L1786 1757.4 L1787.5 1757.4 L1789 1757.4 L1790.5 1757.3 L1792 1757.3 L1793.5 1757.5 L1795 1757.6 L1796.5 1757.7 L1798 1757.7 L1799.5 1757.7 L1801 1758 L1802.5 1757.9 L1804 1757.9 L1805.5 1758.2 L1807 1758.3 L1808.5 1758.1 L1810 1758.2 L1811.5 1758.2 L1813 1758.4 L1814.5 1759 L1816 1759 L1817.5 1758.8 L1819 1758.9 L1820.5 1758.9 L1822 1758.7 L1823.5 1758.8 L1825 1759 L1826.5 1759.3 L1828 1759.3 L1829.5 1759.4 L1831 1759.3 L1832.5 1759.5 L1834 1759.6 L1835.5 1759.8 L1837 1759.7 L1838.5 1760.1 L1840 1760.2 L1841.5 1760.4 L1843 1760.2 L1844.5 1760.6 L1846 1760.7 L1847.5 1760.7 L1849 1760.7 L1850.5 1760.5 L1852 1760.5 L1853.5 1760.6 L1855 1760.7 L1856.5 1760.8 L1858 1760.7 L1859.5 1760.8 L1861 1761 L1862.5 1761.3 L1864 1761.6 L1865.5 1761.6 L1867 1761.2 L1868.5 1761.3 L1870 1761.7 L1871.5 1761.9 L1873 1761.9 L1874.5 1762 L1876 1761.7 L1877.5 1762.1 L1879 1762.1 L1880.5 1762.1 L1882 1762.1 L1883.5 1762.4 L1885 1762.4 L1886.5 1762.7 L1888 1762.6 L1889.5 1762.6 L1891 1762.9 L1892.5 1763.2 L1894 1762.9 L1895.5 1762.9 L1897 1762.8 L1898.5 1762.8 L1900 1762.9 L1901.5 1762.7 L1903 1762.9 L1904.5 1763.1 L1906 1763.3 L1907.5 1763.3 L1909 1763.4 L1910.5 1763.2 L1912 1763.6 L1913.5 1764 L1915 1763.8 L1916.5 1763.7 L1918 1763.9 L1919.5 1764.3 L1921 1764.5 L1922.5 1764.3 L1924 1764.1 L1925.5 1763.9 L1927 1763.9 L1928.5 1764 L1930 1764.1 L1931.5 1763.7 L1933 1763.8 L1934.5 1764 L1936 1764.2 L1937.5 1764 L1939 1764.1 L1940.5 1763.9 L1942 1763.9 L1943.5 1764 L1945 1764.2 L1946.5 1764.3 L1948 1764.1 L1949.5 1764.1 L1951 1764.2 L1952.5 1764.4 L1954 1764.3 L1955.5 1764.1 L1957 1764.2 L1958.5 1764.1 L1960 1764.5 L1961.5 1764.4 L1963 1764.5 L1964.5 1764.6 L1966 1764.5 L1967.5 1764.6 L1969 1764.7 L1970.5 1764.5 L1972 1764.5 L1973.5 1764.4 L1975 1764.2 L1976.5 1764.3 L1978 1764.6 L1979.5 1764.2 L1981 1764.6 L1982.5 1764.7 L1984 1764.6 L1985.5 1764.6 L1987 1764.6 L1988.5 1764.7 L1990 1764.6 L1991.5 1764.5 L1993 1764.3 L1994.5 1764.4 L1996 1764.6 L1997.5 1764.5 L1999 1764.3 L2000.5 1764.5 L2002 1764.5 L2003.5 1764.6 L2005 1764.1 L2006.5 1764.5 L2008 1764.4 L2009.5 1764.5 L2011 1764.5 L2012.5 1764.6 L2014 1764.8 L2015.5 1765 L2017 1765 L2018.5 1765.2 L2020 1765 L2021.5 1765 L2023 1765.1 L2024.5 1765.3 L2026 1765.1 L2027.5 1765.1 L2029 1765 L2030.5 1764.9 L2032 1764.9 L2033.5 1765 L2035 1765 L2036.5 1765.3 L2038 1765 L2039.5 1765.2 L2041 1765.2 L2042.5 1765.3 L2044 1765.2 L2045.5 1765.2 L2047 1765 L2048.5 1765 L2050 1765.3 L2051.5 1765.2 L2053 1765.1 L2054.5 1765.2 L2056 1765.4 L2057.5 1765.5 L2059 1765.5 L2060.5 1765.1 L2062 1765.4 L2063.5 1765.2 L2065 1765.3 L2066.5 1765.2 L2068 1765.1 L2069.5 1765.2 L2071 1765.2 L2072.5 1765 L2074 1765.1 L2075.5 1765.2 L2077 1765.3 L2078.5 1765.2 L2080 1765.5 L2081.5 1765.6 L2083 1765.5 L2084.5 1765.4 L2086 1765.7 L2087.5 1765.5 L2089 1765.6 L2090.5 1765.3 L2092 1765.3 L2093.5 1765.5 L2095 1765.6 L2096.5 1765.4 L2098 1765.6 L2099.5 1765.6 L2101 1765.7 L2102.5 1765.8 L2104 1765.5 L2105.5 1765.3 L2107 1765.5 L2108.5 1765.9 L2110 1765.8 L2111.5 1765.8 L2113 1766 L2114.5 1766 L2116 1766.1 L2117.5 1766 L2119 1765.7 L2120.5 1765.8 L2122 1765.9 L2123.5 1765.8 L2125 1765.8 L2126.5 1765.5 L2128 1765.7 L2129.5 1765.7 L2131 1765.5 L2132.5 1765.7 L2134 1766 L2135.5 1766.1 L2137 1766 L2138.5 1765.9 L2140 1765.8 L2141.5 1766.2 L2143 1766.1 L2144.5 1766 L2146 1765.9 L2147.5 1765.9 L2149 1766 L2150.5 1766.4 L2152 1766.1 L2153.5 1766.3 L2155 1766.2 L2156.5 1766 L2158 1766.1 L2159.5 1766.3 L2161 1766.3 L2162.5 1766.4 L2164 1766.4 L2165.5 1766.1 L2167 1766 L2168.5 1766.2 L2170 1766.2 L2171.5 1766.2 L2173 1766.2 L2173 1773.2 L2171.5 1773.3 L2170 1773.2 L2168.5 1773.3 L2167 1773.4 L2165.5 1773.4 L2164 1773.5 L2162.5 1773.4 L2161 1773.4 L2159.5 1773.4 L2158 1773.3 L2156.5 1773.3 L2155 1773.2 L2153.5 1773.1 L2152 1773.1 L2150.5 1773.3 L2149 1773.1 L2147.5 1773.3 L2146 1773.2 L2144.5 1773.1 L2143 1773.1 L2141.5 1773.2 L2140 1773 L2138.5 1773 L2137 1773.1 L2135.5 1773.1 L2134 1773 L2132.5 1772.8 L2131 1772.8 L2129.5 1772.8 L2128 1772.7 L2126.5 1772.6 L2125 1772.7 L2123.5 1772.7 L2122 1772.9 L2120.5 1773 L2119 1773.1 L2117.5 1773.1 L2116 1773.1 L2114.5 1773 L2113 1773.1 L2111.5 1773 L2110 1773.3 L2108.5 1773.1 L2107 1772.9 L2105.5 1772.8 L2104 1772.7 L2102.5 1772.8 L2101 1772.7 L2099.5 1772.5 L2098 1772.6 L2096.5 1772.6 L2095 1772.6 L2093.5 1772.6 L2092 1772.6 L2090.5 1772.5 L2089 1772.7 L2087.5 1772.7 L2086 1772.8 L2084.5 1772.7 L2083 1772.8 L2081.5 1772.7 L2080 1772.5 L2078.5 1772.4 L2077 1772.4 L2075.5 1772.3 L2074 1772.5 L2072.5 1772.4 L2071 1772.4 L2069.5 1772.5 L2068 1772.3 L2066.5 1772.3 L2065 1772.2 L2063.5 1772.2 L2062 1772.3 L2060.5 1772.2 L2059 1772.4 L2057.5 1772.4 L2056 1772.5 L2054.5 1772.6 L2053 1772.4 L2051.5 1772.5 L2050 1772.5 L2048.5 1772.5 L2047 1772.5 L2045.5 1772.4 L2044 1772.5 L2042.5 1772.7 L2041 1772.5 L2039.5 1772.5 L2038 1772.5 L2036.5 1772.5 L2035 1772.3 L2033.5 1772.3 L2032 1772.1 L2030.5 1772.2 L2029 1772.2 L2027.5 1772.4 L2026 1772.3 L2024.5 1772.5 L2023 1772.3 L2021.5 1772.3 L2020 1772.3 L2018.5 1772.4 L2017 1772.3 L2015.5 1772.4 L2014 1772.1 L2012.5 1772.1 L2011 1771.9 L2009.5 1771.9 L2008 1771.7 L2006.5 1771.7 L2005 1771.7 L2003.5 1771.8 L2002 1771.7 L2000.5 1771.7 L1999 1771.5 L1997.5 1771.7 L1996 1771.7 L1994.5 1771.6 L1993 1771.5 L1991.5 1771.7 L1990 1771.8 L1988.5 1771.7 L1987 1771.8 L1985.5 1771.9 L1984 1771.8 L1982.5 1771.8 L1981 1771.8 L1979.5 1771.6 L1978 1771.8 L1976.5 1771.6 L1975 1771.6 L1973.5 1771.8 L1972 1771.8 L1970.5 1771.6 L1969 1771.7 L1967.5 1771.6 L1966 1771.8 L1964.5 1771.7 L1963 1771.6 L1961.5 1771.3 L1960 1771.4 L1958.5 1771.2 L1957 1771.4 L1955.5 1771.3 L1954 1771.4 L1952.5 1771.5 L1951 1771.6 L1949.5 1771.4 L1948 1771.5 L1946.5 1771.5 L1945 1771.4 L1943.5 1771.4 L1942 1771.4 L1940.5 1771.3 L1939 1771.3 L1937.5 1771.3 L1936 1771.3 L1934.5 1771.1 L1933 1770.9 L1931.5 1770.8 L1930 1771 L1928.5 1771.3 L1927 1771.2 L1925.5 1771.4 L1924 1771.3 L1922.5 1771.3 L1921 1771.4 L1919.5 1771.3 L1918 1771.1 L1916.5 1771.1 L1915 1771 L1913.5 1771 L1912 1770.9 L1910.5 1770.6 L1909 1770.8 L1907.5 1770.6 L1906 1770.5 L1904.5 1770.3 L1903 1770.1 L1901.5 1770 L1900 1770 L1898.5 1769.8 L1897 1769.8 L1895.5 1769.9 L1894 1769.9 L1892.5 1770.1 L1891 1770.1 L1889.5 1769.9 L1888 1769.9 L1886.5 1769.9 L1885 1769.6 L1883.5 1769.7 L1882 1769.6 L1880.5 1769.6 L1879 1769.6 L1877.5 1769.4 L1876 1769 L1874.5 1769.1 L1873 1769 L1871.5 1769 L1870 1768.8 L1868.5 1768.8 L1867 1768.8 L1865.5 1768.9 L1864 1768.8 L1862.5 1768.7 L1861 1768.5 L1859.5 1768.5 L1858 1768.2 L1856.5 1768 L1855 1767.8 L1853.5 1767.8 L1852 1767.7 L1850.5 1767.8 L1849 1767.7 L1847.5 1767.7 L1846 1767.9 L1844.5 1767.9 L1843 1767.7 L1841.5 1767.7 L1840 1767.5 L1838.5 1767.4 L1837 1767.2 L1835.5 1767.1 L1834 1766.9 L1832.5 1767 L1831 1766.8 L1829.5 1766.8 L1828 1766.5 L1826.5 1766.5 L1825 1766.3 L1823.5 1766.4 L1822 1766.1 L1820.5 1766.2 L1819 1766.3 L1817.5 1766.2 L1816 1766.1 L1814.5 1766.2 L1813 1765.7 L1811.5 1765.7 L1810 1765.7 L1808.5 1765.6 L1807 1765.6 L1805.5 1765.7 L1804 1765.4 L1802.5 1765.3 L1801 1765.3 L1799.5 1765 L1798 1764.8 L1796.5 1764.7 L1795 1764.6 L1793.5 1764.6 L1792 1764.6 L1790.5 1764.5 L1789 1764.5 L1787.5 1764.5 L1786 1764.6 L1784.5 1764.6 L1783 1764.5 L1781.5 1764.4 L1780 1764.4 L1778.5 1764.5 L1777 1764.6 L1775.5 1764.5 L1774 1764.6 L1772.5 1764.5 L1771 1764.6 L1769.5 1764.5 L1768 1764.4 L1766.5 1764.4 L1765 1764.4 L1763.5 1764.2 L1762 1764.3 L1760.5 1764.5 L1759 1764.7 L1757.5 1764.8 L1756 1765 L1754.5 1765.4 L1753 1765.7 L1751.5 1765.7 L1750 1765.8 L1748.5 1765.9 L1747 1766.1 L1745.5 1766.3 L1744 1766.6 L1742.5 1766.9 L1741 1767.1 L1739.5 1767.3 L1738 1767.5 L1736.5 1767.5 L1735 1767.8 L1733.5 1768.3 L1732 1768.4 L1730.5 1768.5 L1729 1768.9 L1727.5 1769.2 L1726 1769.5 L1724.5 1769.7 L1723 1769.9 L1721.5 1770.1 L1720 1770.5 L1718.5 1770.5 L1717 1770.8 L1715.5 1771.1 L1714 1771.3 L1712.5 1771.5 L1711 1771.8 L1709.5 1771.9 L1708 1772.1 L1706.5 1772.3 L1705 1772.2 L1703.5 1772.6 L1702 1772.8 L1700.5 1772.9 L1699 1773 L1697.5 1773.3 L1696 1773.5 L1694.5 1773.7 L1693 1773.9 L1691.5 1774.3 L1690 1774.5 L1688.5 1774.6 L1687 1774.8 L1685.5 1775.1 L1684 1775.4 L1682.5 1775.5 L1681 1775.6 L1679.5 1775.7 L1678 1776.3 L1676.5 1776.6 L1675 1776.8 L1673.5 1776.9 L1672 1777.2 L1670.5 1777.3 L1669 1777.4 L1667.5 1777.4 L1666 1777.4 L1664.5 1777.5 L1663 1777.7 L1661.5 1777.8 L1660 1778.1 L1658.5 1778.3 L1657 1778.4 L1655.5 1778.7 L1654 1779 L1652.5 1779.2 L1651 1779.4 L1649.5 1779.5 L1648 1779.7 L1646.5 1779.7 L1645 1779.7 L1643.5 1779.9 L1642 1780 L1640.5 1779.8 L1639 1780 L1637.5 1779.9 L1636 1779.8 L1634.5 1779.9 L1633 1780 L1631.5 1780 L1630 1780 L1628.5 1779.9 L1627 1780 L1625.5 1780.2 L1624 1780.2 L1622.5 1780.1 L1621 1780.1 L1619.5 1780.2 L1618 1780.3 L1616.5 1780.4 L1615 1780.2 L1613.5 1780.3 L1612 1780.3 L1610.5 1780.4 L1609 1780.5 L1607.5 1780.6 L1606 1780.5 L1604.5 1780.7 L1603 1780.4 L1601.5 1780.3 L1600 1780.1 L1598.5 1780 L1597 1779.9 L1595.5 1780.1 L1594 1780 L1592.5 1780 L1591 1779.9 L1589.5 1780.1 L1588 1780 L1586.5 1779.7 L1585 1779.6 L1583.5 1779.7 L1582 1779.5 L1580.5 1779.3 L1579 1779.3 L1577.5 1778.9 L1576 1778.8 L1574.5 1778.8 L1573 1778.8 L1571.5 1778.5 L1570 1778.3 L1568.5 1778 L1567 1777.9 L1565.5 1777.8 L1564 1777.8 L1562.5 1777.6 L1561 1777.5 L1559.5 1777.5 L1558 1777.6 L1556.5 1777.3 L1555 1777.4 L1553.5 1777.1 L1552 1776.8 L1550.5 1776.7 L1549 1776.9 L1547.5 1776.5 L1546 1776.5 L1544.5 1776.6 L1543 1776.8 L1541.5 1776.7 L1540 1776.4 L1538.5 1776.1 L1537 1775.8 L1535.5 1775.8 L1534 1775.4 L1532.5 1774.8 L1531 1774.7 L1529.5 1774.7 L1528 1774.8 L1526.5 1774.7 L1525 1774.8 L1523.5 1774.8 L1522 1774.6 L1520.5 1774.7 L1519 1774.5 L1517.5 1774.7 L1516 1774.9 L1514.5 1774.7 L1513 1774.3 L1511.5 1774.3 L1510 1774.2 L1508.5 1773.5 L1507 1773.4 L1505.5 1773.3 L1504 1773 L1502.5 1773 L1501 1773.5 L1499.5 1773.6 L1498 1773.5 L1496.5 1773.1 L1495 1772.7 L1493.5 1772.9 L1492 1773 L1490.5 1772.5 L1489 1772.2 L1487.5 1772.1 L1486 1771.8 L1484.5 1771 L1483 1770.8 L1481.5 1771.4 L1480 1770.3 L1478.5 1769.2 L1477 1768.7 L1475.5 1768.6 L1474 1768.4 L1472.5 1767.7 L1471 1767.4 L1469.5 1767.7 L1468 1768 L1466.5 1768.1 L1465 1767.4 L1463.5 1766.9 L1462 1766.7 L1460.5 1766.1 L1459 1765.5 L1457.5 1766 L1456 1766.4 L1454.5 1766.5 L1453 1766.5 L1451.5 1766 L1450 1766.4 L1448.5 1765.9 L1447 1765.3 L1445.5 1765.2 L1444 1765.6 L1442.5 1764 L1441 1763.7 L1439.5 1763.5 L1438 1762.9 L1436.5 1762.7 L1435 1762.9 L1433.5 1762.9 L1432 1762.7 L1430.5 1762.5 L1429 1762.3 L1427.5 1762.1 L1426 1761.9 L1424.5 1762.1 L1423 1761.9 L1421.5 1761.2 L1420 1761 L1418.5 1760.1 L1417 1759.7 L1415.5 1759.8 L1414 1759.8 L1412.5 1760 L1411 1760.2 L1409.5 1760 L1408 1760 L1406.5 1759 L1405 1758.5 L1403.5 1757.8 L1402 1757.7 L1400.5 1757.5 L1399 1757.2 L1397.5 1756.8 L1396 1757.2 L1394.5 1756.9 L1393 1756.8 L1391.5 1755.9 L1390 1756 L1388.5 1755.5 L1387 1754.9 L1385.5 1754.5 L1384 1754.1 L1382.5 1754.4 L1381 1755.5 L1379.5 1755.3 L1378 1755.7 L1376.5 1755.5 L1375 1755.3 L1373.5 1755.1 L1372 1754.9 L1370.5 1753.9 L1369 1754.1 L1367.5 1754.2 L1366 1754.3 L1364.5 1754.2 L1363 1753.4 L1361.5 1753.1 L1360 1754 L1358.5 1753.5 L1357 1752.7 L1355.5 1752.4 L1354 1752.6 L1352.5 1752 L1351 1751.7 L1349.5 1751 L1348 1751.5 L1346.5 1751.7 L1345 1752.1 L1343.5 1751.6 L1342 1750.9 L1340.5 1750.8 L1339 1751.1 L1337.5 1750.8 L1336 1750.7 L1334.5 1750.9 L1333 1751.5 L1331.5 1751.6 L1330 1751.4 L1328.5 1751.4 L1327 1750.7 L1325.5 1749.7 L1324 1749.7 L1322.5 1749.6 L1321 1749.9 L1319.5 1749.9 L1318 1750.4 L1316.5 1750.7 L1315 1751.7 L1313.5 1752.4 L1312 1752.7 L1310.5 1752.6 L1309 1752.8 L1307.5 1753.3 L1306 1753.3 L1304.5 1753 L1303 1753.2 L1301.5 1753.4 L1300 1753.3 L1298.5 1753.4 L1297 1753.9 L1295.5 1754.1 L1294 1754.4 L1292.5 1753.5 L1291 1753.9 L1289.5 1753.2 L1288 1752.6 L1286.5 1752.8 L1285 1753.3 L1283.5 1753.6 L1282 1754.1 L1280.5 1754.2 L1279 1754.5 L1277.5 1754.3 L1276 1753.9 L1274.5 1753.5 L1273 1753.4 L1271.5 1754 L1270 1753.9 L1268.5 1753.9 L1267 1754.1 L1265.5 1754.4 L1264 1754.5 L1262.5 1754.9 L1261 1754.6 L1259.5 1754.7 L1258 1754.1 L1256.5 1753.6 L1255 1753.9 L1253.5 1754 L1252 1754.1 L1250.5 1754.1 L1249 1753.7 L1247.5 1753.7 L1246 1753.5 L1244.5 1753.4 L1243 1753.8 L1241.5 1754 L1240 1754.9 L1238.5 1755.4 L1237 1756.2 L1235.5 1756.1 L1234 1755.9 L1232.5 1755.5 L1231 1756.3 L1229.5 1756.1 L1228 1756.1 L1226.5 1755.8 L1225 1756.5 L1223.5 1756.8 L1222 1756.7 L1220.5 1756.2 L1219 1756.7 L1217.5 1757 L1216 1756.9 L1214.5 1757.4 L1213 1757.4 L1211.5 1757.3 L1210 1757.5 L1208.5 1757.1 L1207 1756.7 L1205.5 1757.1 L1204 1757.3 L1202.5 1757.2 L1201 1757.4 L1199.5 1757.6 L1198 1758.4 L1196.5 1758.4 L1195 1758.7 L1193.5 1758.4 L1192 1758.3 L1190.5 1758.3 L1189 1758.9 L1187.5 1758.6 L1186 1758.3 L1184.5 1757.9 L1183 1757.6 L1181.5 1757.8 L1180 1758.5 L1178.5 1758.5 L1177 1759.3 L1175.5 1759.6 L1174 1759.7 L1172.5 1759.8 L1171 1759.3 L1169.5 1759.6 L1168 1760.1 L1166.5 1759.8 L1165 1759.4 L1163.5 1759.2 L1162 1759.1 L1160.5 1759 L1159 1759.3 L1157.5 1759.6 L1156 1759.2 L1154.5 1758.5 L1153 1759.1 L1151.5 1759.2 L1150 1759.2 L1148.5 1759 L1147 1759.5 L1145.5 1759.9 L1144 1760.5 L1142.5 1760.5 L1141 1761.2 L1139.5 1761.3 L1138 1760.5 L1136.5 1759.9 L1135 1760.2 L1133.5 1759.8 L1132 1760.2 L1130.5 1759.7 L1129 1759.8 L1127.5 1760 L1126 1760.1 L1124.5 1759.7 L1123 1760.2 L1121.5 1760.6 L1120 1761.2 L1118.5 1760.9 L1117 1761.7 L1115.5 1761.7 L1114 1761.9 L1112.5 1761.6 L1111 1761.5 L1109.5 1761.1 L1108 1760.6 L1106.5 1760.6 L1105 1760.7 L1103.5 1761 L1102 1760.9 L1100.5 1761.5 L1099 1761.3 L1097.5 1761.9 L1096 1761.8 L1094.5 1761.9 L1093 1761.7 L1091.5 1762.1 L1090 1762.4 L1088.5 1762.8 L1087 1762 L1085.5 1762.4 L1084 1762.8 L1082.5 1763.4 L1081 1762.8 L1079.5 1763 L1078 1763 L1076.5 1763.6 L1075 1763.1 L1073.5 1763.8 L1072 1764.6 L1070.5 1765.2 L1069 1764.8 L1067.5 1764.7 L1066 1765 L1064.5 1765.4 L1063 1765.3 L1061.5 1764.7 L1060 1763.9 L1058.5 1763.7 L1057 1763.3 L1055.5 1762.8 L1054 1762.5 L1052.5 1762.6 L1051 1763.1 L1049.5 1763.3 L1048 1763.5 L1046.5 1763.2 L1045 1762.6 L1043.5 1762.5 L1042 1763.2 L1040.5 1762.9 L1039 1763.3 L1037.5 1763.3 L1036 1763.7 L1034.5 1764.3 L1033 1765.1 L1031.5 1764.9 L1030 1765.2 L1028.5 1764.9 L1027 1764.6 L1025.5 1764.6 L1024 1764.5 L1022.5 1764.6 L1021 1765.3 L1019.5 1766 L1018 1766.3 L1016.5 1766.2 L1015 1766.5 L1013.5 1766.4 L1012 1766.1 L1010.5 1765.6 L1009 1764.7 L1007.5 1764.6 L1006 1765.3 L1004.5 1765.3 L1003 1765.5 L1001.5 1766.2 L1000 1766.7 L998.5 1767.5 L997 1767.2 L995.5 1766.7 L994 1766.5 L992.5 1767.1 L991 1767.2 L989.5 1767.2 L988 1767.3 L986.5 1767.7 L985 1767.2 L983.5 1767.2 L982 1767.6 L980.5 1766.8 L979 1767.3 L977.5 1767.9 L976 1767.3 L974.5 1767 L973 1766.6 L971.5 1766.6 L970 1767.2 L968.5 1767 L967 1767 L965.5 1768.2 L964 1768.7 L962.5 1768.9 L961 1769.2 L959.5 1768.9 L958 1768.6 L956.5 1768.4 L955 1768.3 L953.5 1767.9 L952 1768.1 L950.5 1768 L949 1768.7 L947.5 1769.1 L946 1769.1 L944.5 1768.5 L943 1768.5 L941.5 1768.8 L940 1768.5 L938.5 1767.9 L937 1767.6 L935.5 1768 L934 1768.8 L932.5 1768.9 L931 1768.8 L929.5 1769.3 L928 1769.2 L926.5 1770.1 L925 1771.1 L923.5 1770.7 L922 1771 L920.5 1771.2 L919 1770.8 L917.5 1770.6 L916 1771.2 L914.5 1770.4 L913 1770.6 L911.5 1770.8 L910 1771.3 L908.5 1771.2 L907 1771.4 L905.5 1770.6 L904 1771 L902.5 1771 L901 1771.7 L899.5 1772.1 L898 1772.4 L896.5 1772.4 L895 1772.7 L893.5 1772.5 L892 1772.5 L890.5 1771.9 L889 1771.3 L887.5 1771.7 L886 1772.2 L884.5 1772.3 L883 1772.8 L881.5 1773 L880 1773.4 L878.5 1774.1 L877 1774.5 L875.5 1774.5 L874 1774.6 L872.5 1775.4 L871 1775.6 L869.5 1775.5 L868 1775.6 L866.5 1775.2 L865 1774.2 L863.5 1773.9 L862 1774.3 L860.5 1775.2 L859 1775.3 L857.5 1775.8 L856 1776.6 L854.5 1776.9 L853 1776.3 L851.5 1776.8 L850 1777 L848.5 1777 L847 1777.1 L845.5 1776.9 L844 1777 L842.5 1777.4 L841 1777.4 L839.5 1776.8 L838 1777.3 L836.5 1777.9 L835 1777.8 L833.5 1777.3 L832 1777.1 L830.5 1777.8 L829 1777.5 L827.5 1777.9 L826 1778.3 L824.5 1778.7 L823 1779.1 L821.5 1780.2 L820 1779.5 L818.5 1779.7 L817 1780.4 L815.5 1779.9 L814 1779.8 L812.5 1780.1 L811 1780.1 L809.5 1779.6 L808 1780.3 L806.5 1780.2 L805 1780.6 L803.5 1780.6 L802 1781.8 L800.5 1782.4 L799 1782.7 L797.5 1782.2 L796 1782.2 L794.5 1782.8 L793 1782.5 L791.5 1782.1 L790 1782 L788.5 1781.6 L787 1781.3 L785.5 1781.9 L784 1781.6 L782.5 1781.9 L781 1782.1 L779.5 1782.9 L778 1783.6 L776.5 1784 L775 1783.4 L773.5 1783.2 L772 1783.5 L770.5 1783.6 L769 1784.1 L767.5 1783.8 L766 1784.5 L764.5 1784.4 L763 1784 L761.5 1783.4 L760 1783.5 L758.5 1783.8 L757 1784 L755.5 1783.9 L754 1784.5 L752.5 1784.5 L751 1784.7 L749.5 1785.1 L748 1784.2 L746.5 1784.4 L745 1785.2 L743.5 1785.6 L742 1786.1 L740.5 1785.9 L739 1785.4 L737.5 1785.3 L736 1786 L734.5 1786.9 L733 1786.8 L731.5 1787.5 L730 1788.6 L728.5 1788.4 L727 1788.6 L725.5 1788.8 L724 1788.4 L722.5 1789 L721 1789.3 L719.5 1789.8 L718 1790.6 L716.5 1791.4 L715 1791.7 L713.5 1791.9 L712 1792 L710.5 1792.4 L709 1792.5 L707.5 1792.8 L706 1793.6 L704.5 1793.6 L703 1794.1 L701.5 1794.1 L700 1794.7 L698.5 1795.2 L697 1795.8 L695.5 1795.7 L694 1795.9 L692.5 1796.3 L691 1796.3 L689.5 1796 L688 1795.9 L686.5 1795.3 L685 1795.9 L683.5 1796.5 L682 1796.7 L680.5 1797 L679 1797.9 L677.5 1798.6 L676 1798.1 L674.5 1798 L673 1798.6 L671.5 1798.9 L670 1799.3 L668.5 1799.6 L667 1799 L665.5 1799.1 L664 1799.2 L662.5 1798.9 L661 1799.2 L659.5 1799.8 L658 1800.4 L656.5 1801.1 L655 1801.2 L653.5 1801.5 L652 1801.3 L650.5 1801.7 L649 1801.7 L647.5 1802.6 L646 1802.1 L644.5 1802.7 L643 1803.4 L641.5 1803.7 L640 1804.3 L638.5 1805 L637 1804.7 L635.5 1804.6 L634 1805.2 L632.5 1805.5 L631 1805.6 L629.5 1805.8 L628 1806.6 L626.5 1806.6 L625 1806.1 L623.5 1806.8 L622 1806.9 L620.5 1806.7 L619 1806.9 L617.5 1806.7 L616 1806.1 L614.5 1806.3 L613 1806.5 L611.5 1806.7 L610 1806.9 L608.5 1807.1 L607 1807.3 L605.5 1808 L604 1808.4 L602.5 1809.1 L601 1809.7 L599.5 1810.2 L598 1810.4 L596.5 1811.2 L595 1810.9 L593.5 1810.8 L592 1810.8 L590.5 1811.3 L589 1811.9 L587.5 1811.8 L586 1811.9 L584.5 1812.1 L583 1812.8 L581.5 1813.4 L580 1813.6 L578.5 1813.8 L577 1814.2 L575.5 1814 L574 1813.9 L572.5 1813.8 L571 1813.6 L569.5 1814.2 L568 1814.5 L566.5 1814.4 L565 1814.9 L563.5 1815.6 L562 1815.8 L560.5 1816.3 L559 1816.7 L557.5 1816.6 L556 1817.3 L554.5 1818.4 L553 1818.7 L551.5 1819.2 L550 1819.2 L548.5 1818.7 L547 1818.9 L545.5 1819.1 L544 1819.1 L542.5 1819.5 L541 1820 L539.5 1820.4 L538 1820.4 L536.5 1820.3 L535 1820.2 L533.5 1820.3 L532 1820.6 L530.5 1820.8 L529 1820.7 L527.5 1821 L526 1821.2 L524.5 1821 L523 1821.2 L521.5 1821.8 L520 1821.5 L518.5 1821.7 L517 1822.2 L515.5 1822.4 L514 1822.4 L512.5 1822.5 L511 1822.4 L509.5 1822.5 L508 1822.6 L506.5 1822.6 L505 1822.6 L503.5 1822.8 L502 1822.7 L500.5 1822.9 L499 1822.9 L497.5 1823.3 L496 1823.3 L494.5 1823.6 L493 1823.8 L491.5 1824.2 L490 1824.7 L488.5 1824.7 L487 1824.5 L485.5 1824.7 L484 1824.8 L482.5 1824.6 L481 1824.8 L479.5 1824.6 L478 1824.7 L476.5 1824.8 L475 1824.8 L473.5 1824.8 L472 1824.8 L470.5 1824.6 L469 1825 L467.5 1825.1 L466 1825 L464.5 1825 L463 1825.2 L461.5 1825.3 L460 1825.4 L458.5 1825.5 L457 1825.6 L455.5 1825.9 L454 1825.9 L452.5 1826 L451 1826.1 L449.5 1826.2 L448 1825.9 L446.5 1826.1 L445 1826.3 L443.5 1826.4 L442 1826.3 L440.5 1826.4 L439 1826.7 L437.5 1826.7 L436 1826.6 L434.5 1826.6 L433 1826.7 L431.5 1826.8 L430 1826.7 L428.5 1827 L427 1827.2 L425.5 1827.7 L424 1827.9 L422.5 1827.9 L421 1827.8 L419.5 1827.9 L418 1827.6 L416.5 1827.3 L415 1827.1 L413.5 1827 L412 1827.2 L410.5 1827.4 L409 1827.7 L407.5 1828 L406 1828.3 L404.5 1828.2 L403 1828.6 L401.5 1828.5 L400 1828.5 L398.5 1828.3 L397 1828.5 L395.5 1828.2 L394 1828.2 L392.5 1828.3 L391 1828.6 L389.5 1828.6 L388 1828.5 L386.5 1828.4 L385 1828.4 L383.5 1828.5 L382 1828.4 L380.5 1828.4 L379 1828.3 L377.5 1828.3 L376 1828.3 L374.5 1828.1 L373 1828.3 L371.5 1828.3 L370 1828.4 L368.5 1828.5 L367 1828.6 L365.5 1828.7 L364 1828.8 L362.5 1828.5 L361 1828.4 L359.5 1828.4 L358 1828.3 L356.5 1828.3 L355 1828.3 L353.5 1828.4 L352 1828.4 L350.5 1828.2 L349 1827.9 L347.5 1828.1 L346 1828 L344.5 1828.2 L343 1828 L341.5 1828.2 L340 1828.3 L338.5 1828.6 L337 1828.5 L335.5 1828.6 L334 1828.4 L332.5 1828.4 L331 1828.5 L329.5 1828.7 L328 1828.3 L326.5 1828.1 L325 1828 L323.5 1828.2 L322 1828.2 L320.5 1828 L319 1827.7 L317.5 1827.9 L316 1828.2 L314.5 1828.2 L313 1828 L311.5 1828 L310 1828.2 L308.5 1828.2 L307 1828.1 L305.5 1828.2 L304 1828.2 L302.5 1828.3 L301 1828.2 L299.5 1828.2 L298 1828.3 L296.5 1828.2 L295 1828.2 L293.5 1828.5 L292 1828.4 L290.5 1828.4 L289 1828.5 L287.5 1828.2 L286 1828 L284.5 1828 L283 1828 L281.5 1827.7 L280 1827.7 L278.5 1827.7 L277 1827.8 L275.5 1828 L274 1828.3 L272.5 1828.3 L271 1828.5 L269.5 1828.5 L268 1828.4 L266.5 1828.1 L265 1828.1 L263.5 1828.1 L262 1827.8 L260.5 1827.5 L259 1827.9 L257.5 1827.8 L256 1828 L254.5 1828.1 L253 1828.2 L251.5 1828.3 L250 1828.4 L248.5 1828.3 L247 1828 L245.5 1828 L244 1828.1 L242.5 1827.9 L241 1827.9 L239.5 1827.9 L238 1828.2 L236.5 1828.1 L235 1828.2 L233.5 1828 L232 1828.1 L230.5 1827.8 L229 1828 L227.5 1827.6 L226 1827.8 L224.5 1827.5 L223 1827.8 L221.5 1827.9 L220 1827.9 L218.5 1827.8 L217 1827.9 L215.5 1827.6 L214 1827.4 L212.5 1827.5 L211 1827.6 L209.5 1827.7 L208 1827.7 L206.5 1827.8 L205 1827.8 L203.5 1827.9 L202 1827.7 L200.5 1827.6 L199 1827.6 L197.5 1827.5 L196 1827.5 L194.5 1827.4 L193 1826.8 L191.5 1826.7 L190 1826.4 L188.5 1826.1 L187 1826.1 L185.5 1825.7 L184 1825.6 L182.5 1825.8 L181 1825.8 L179.5 1825.5 L178 1825.1 L176.5 1824.4 L175 1823.9 L173.5 1823.5 L172 1823ZM288.5 1820.5 L291.2 1818 L293.6 1818 L296.3 1820.5 ZM415.1 1819.9 L417.8 1817.4 L420.2 1817.4 L422.9 1819.9 ZM444.8 1819.9 L447.5 1817.4 L449.9 1817.4 L452.6 1819.9 ZM490.9 1766.9 L493.6 1764.4 L496 1764.4 L498.7 1766.9 ZM528.7 1808.5 L531.4 1806 L533.8 1806 L536.5 1808.5 ZM569.8 1720.8 L572.5 1718.3 L574.9 1718.3 L577.6 1720.8 ZM577.1 1786.2 L579.8 1783.8 L582.2 1783.8 L584.9 1786.2 ZM610.9 1783.3 L613.6 1780.8 L616 1780.8 L618.7 1783.3 ZM624.9 1795.2 L627.5 1792.7 L630 1792.7 L632.6 1795.2 ZM647.8 1723.8 L650.5 1721.2 L652.9 1721.2 L655.6 1723.8 ZM654.6 1780.3 L657.3 1777.8 L659.7 1777.8 L662.4 1780.3 ZM721 1726.7 L723.7 1724.2 L726.1 1724.2 L728.8 1726.7 ZM740.6 1706.8 L743.3 1704.3 L745.7 1704.3 L748.4 1706.8 ZM768.1 1755.4 L770.8 1752.9 L773.2 1752.9 L775.9 1755.4 ZM793.1 1717.6 L795.8 1715.1 L798.2 1715.1 L800.9 1717.6 ZM862.6 1709.9 L865.3 1707.4 L867.7 1707.4 L870.4 1709.9 ZM886.1 1736.7 L888.8 1734.2 L891.2 1734.2 L893.9 1736.7 ZM914.1 1740.5 L916.8 1738 L919.2 1738 L921.9 1740.5 ZM929.1 1711.7 L931.8 1709.2 L934.2 1709.2 L936.9 1711.7 ZM981.6 1733.7 L984.3 1731.2 L986.7 1731.2 L989.4 1733.7 ZM992.6 1712.3 L995.3 1709.8 L997.7 1709.8 L1000.4 1712.3 ZM1014.1 1737.5 L1016.8 1735 L1019.2 1735 L1021.9 1737.5 ZM1023.1 1740.5 L1025.8 1738 L1028.2 1738 L1030.9 1740.5 ZM1054.1 1712.3 L1056.8 1709.8 L1059.2 1709.8 L1061.9 1712.3 ZM1082.8 1745.5 L1085.5 1743 L1087.9 1743 L1090.6 1745.5 ZM1112.6 1709.9 L1115.3 1707.4 L1117.7 1707.4 L1120.4 1709.9 ZM1123.1 1742 L1125.8 1739.5 L1128.2 1739.5 L1130.9 1742 ZM1148.1 1739.5 L1150.8 1737 L1153.2 1737 L1155.9 1739.5 ZM1170.1 1709.9 L1172.8 1707.4 L1175.2 1707.4 L1177.9 1709.9 ZM1187.1 1736.7 L1189.8 1734.2 L1192.2 1734.2 L1194.9 1736.7 ZM1201.1 1738.5 L1203.8 1736 L1206.2 1736 L1208.9 1738.5 ZM1224.1 1719.7 L1226.8 1717.2 L1229.2 1717.2 L1231.9 1719.7 ZM1242.1 1737.5 L1244.8 1735 L1247.2 1735 L1249.9 1737.5 ZM1260.1 1734.5 L1262.8 1732 L1265.2 1732 L1267.9 1734.5 ZM1276.1 1723.5 L1278.8 1721 L1281.2 1721 L1283.9 1723.5 ZM1295.6 1734.5 L1298.3 1732 L1300.7 1732 L1303.4 1734.5 ZM1316.1 1731.5 L1318.8 1729 L1321.2 1729 L1323.9 1731.5 ZM1332.7 1715.7 L1335.4 1713.2 L1337.8 1713.2 L1340.5 1715.7 ZM1360.1 1731.5 L1362.8 1729 L1365.2 1729 L1367.9 1731.5 ZM1373.7 1729.5 L1376.4 1727 L1378.8 1727 L1381.5 1729.5 ZM1388.6 1718.1 L1391.3 1715.6 L1393.7 1715.6 L1396.4 1718.1 ZM1410.9 1752.3 L1413.6 1749.8 L1416 1749.8 L1418.7 1752.3 ZM1428.8 1731.5 L1431.5 1729 L1433.9 1729 L1436.6 1731.5 ZM1440.7 1753.8 L1443.4 1751.3 L1445.8 1751.3 L1448.5 1753.8 ZM1462.4 1753.2 L1465.1 1750.7 L1467.5 1750.7 L1470.2 1753.2 ZM1477.3 1754.5 L1480 1752 L1482.4 1752 L1485.1 1754.5 ZM1513.6 1762.7 L1516.3 1760.2 L1518.7 1760.2 L1521.4 1762.7 ZM1558.1 1767.2 L1560.8 1764.7 L1563.2 1764.7 L1565.9 1767.2 ZM1572.5 1587.1 L1575.2 1584.6 L1577.6 1584.6 L1580.3 1587.1 ZM1576.1 1558.9 L1578.8 1556.4 L1581.2 1556.4 L1583.9 1558.9 ZM1602.9 1773.2 L1605.6 1770.7 L1608 1770.7 L1610.7 1773.2 ZM1647.1 1747.9 L1649.8 1745.4 L1652.2 1745.4 L1654.9 1747.9 ZM1651.1 1606.5 L1653.8 1604 L1656.2 1604 L1658.9 1606.5 Z" fill="#fd4040"/>
<path d="M292.4 1824.2 V1820.2M419 1823.7 V1819.6M448.7 1822.4 V1819.6M494.8 1819.8 V1766.6M532.6 1816 V1808.2M573.7 1809.7 V1720.5M581 1808.5 V1786M614.8 1803.4 V1783M628.8 1801.3 V1794.9M651.7 1797.6 V1723.5M658.5 1796.4 V1780M724.9 1784 V1726.4M744.5 1780.2 V1706.5M772 1778.1 V1755.1M797 1776.3 V1717.3M866.5 1770.1 V1709.6M890 1767.8 V1736.4M918 1765 V1740.2M933 1764.3 V1711.4M985.5 1761.9 V1733.4M996.5 1761.4 V1712M1018 1760.5 V1737.2M1027 1760.1 V1740.2M1058 1758.7 V1712M1086.7 1757.5 V1745.2M1116.5 1756.3 V1709.6M1127 1755.8 V1741.7M1152 1754.8 V1739.2M1174 1753.6 V1709.6M1191 1752.6 V1736.4M1205 1751.8 V1738.2M1228 1750.5 V1719.4M1246 1749.5 V1737.2M1264 1748.7 V1734.2M1280 1748 V1723.2M1299.5 1747.2 V1734.2M1320 1746.3 V1731.2M1336.6 1745.8 V1715.4M1364 1748.7 V1731.2M1377.6 1750.1 V1729.2M1392.5 1751.9 V1717.8M1414.8 1755.2 V1752M1432.7 1757.9 V1731.2M1444.6 1759.7 V1753.5M1466.3 1762.9 V1752.9M1481.2 1765.2 V1754.2M1517.5 1770.1 V1762.4M1562 1773.8 V1766.9M1576.4 1774.9 V1586.8M1580 1775.2 V1558.6M1606.8 1776.5 V1772.9M1651 1775.4 V1747.6M1655 1775 V1606.2M573.7 1784.2 H581M576.2 1809.3 V1784.2M578.7 1808.9 V1784.2M581 1808.5 V1784.2M651.7 1778.3 H658.5M654.2 1797.2 V1778.3M656.7 1796.7 V1778.3M658.5 1796.4 V1778.3M1018 1738.5 H1027M1020.5 1760.4 V1738.5M1023 1760.3 V1738.5M1025.5 1760.1 V1738.5M1027 1760.1 V1738.5M1576.4 1585.1 H1580M1578.9 1775.1 V1585.1M1580 1775.2 V1585.1M1651 1745.9 H1655M1653.5 1775.1 V1745.9M1655 1775 V1745.9" fill="none" stroke="#fd4040" stroke-width="7.8" stroke-linecap="butt"/>
</g>
<!-- frame -->
<g fill="#000">
<rect x="33" y="28" width="2285.5" height="6.6"/>
<rect x="33" y="28" width="7.3" height="1874"/>
<rect x="2311.8" y="28" width="6.8" height="1874"/>
<rect x="33" y="1862.6" width="2285.5" height="7.4"/>
</g>
<!-- ticks -->
<g fill="#000">
<rect x="487.6" y="1866" width="7.6" height="35.6"/>
<rect x="944.3" y="1866" width="7.6" height="35.6"/>
<rect x="1399.9" y="1866" width="7.2" height="35.6"/>
<rect x="1855.2" y="1866" width="7.6" height="35.6"/>
<rect x="260.3" y="1866" width="7" height="17.6"/>
<rect x="716.3" y="1866" width="7.4" height="17.6"/>
<rect x="1172.3" y="1866" width="7.2" height="17.6"/>
<rect x="1627.7" y="1866" width="7.2" height="17.6"/>
<rect x="2083.2" y="1866" width="6.8" height="17.6"/>
</g>
<g font-size="80.8" text-anchor="middle" fill="#000">
<text transform="translate(36.7,1986.6) scale(0.976,1)">0</text>
<text transform="translate(491.65,1986.6) scale(0.976,1)">20</text>
<text transform="translate(948.4,1986.6) scale(0.976,1)">40</text>
<text transform="translate(1403.9,1986.6) scale(0.976,1)">60</text>
<text transform="translate(1860.7,1986.6) scale(0.976,1)">80</text>
<text transform="translate(2317,1986.6) scale(0.976,1)">100</text>
</g>
<text x="1173" y="2136" font-size="95" text-anchor="middle" fill="#000">Elution time (min)</text>
<g font-size="95" text-anchor="end">
<text transform="translate(2313.1,205.5) scale(1.009,1)" fill="#000">Crude oil</text>
</g>
<g font-size="96.8" text-anchor="end">
<text transform="translate(2312,566) scale(0.96,1)" fill="#9900ff">100°C</text>
<text transform="translate(2312,823.8) scale(0.96,1)" fill="#0000e6">120°C</text>
<text transform="translate(2312,1308.4) scale(0.96,1)" fill="#f0b030">140°C</text>
<text transform="translate(2314,1508.4) scale(0.96,1)" fill="#00a870">160°C</text>
<text transform="translate(2315,1738.4) scale(0.965,1)" fill="#ff0000">180°C</text>
</g>
<g font-size="73" fill="#000">
<text transform="translate(441.3,1333.3) scale(0.965,1)">C16</text>
<text transform="translate(744.8,1160.6) scale(0.982,1)">C20</text>
<text transform="translate(1003.5,1160) scale(0.958,1)">C24</text>
</g>
</svg>
</body></html>
